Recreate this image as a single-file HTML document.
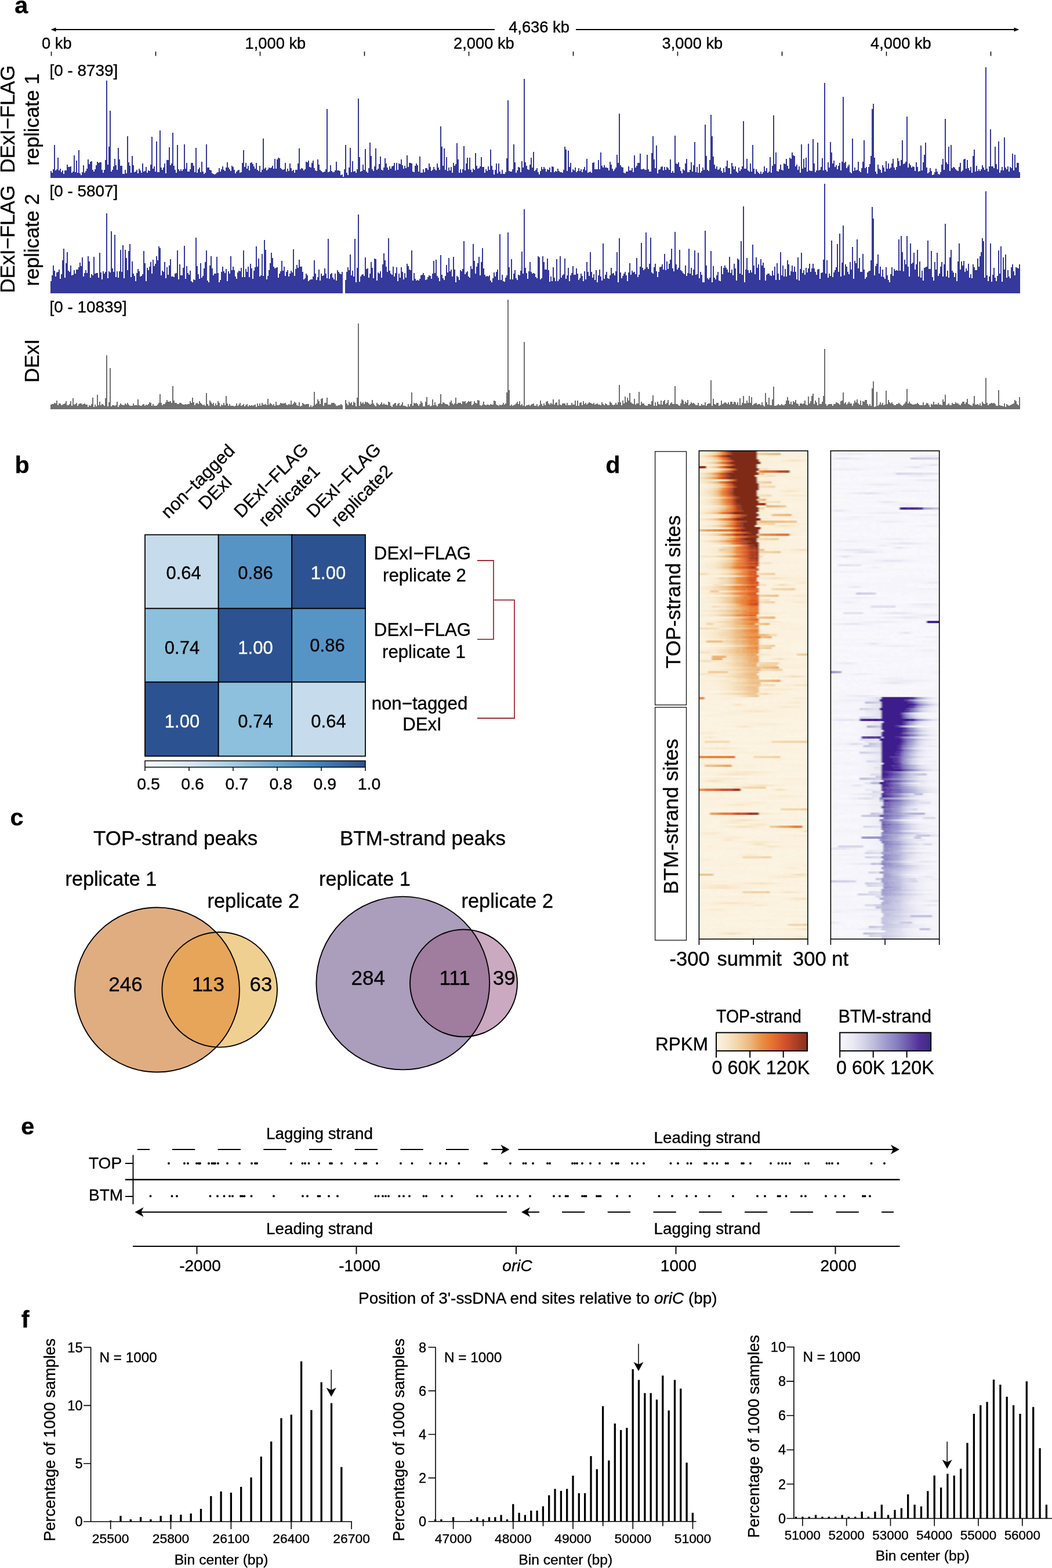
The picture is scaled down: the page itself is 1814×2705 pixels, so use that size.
<!DOCTYPE html>
<html lang="en">
<head>
<meta charset="utf-8">
<title>Figure</title>
<style>
html,body{margin:0;padding:0;background:#fff;}
body{width:1814px;height:2705px;overflow:hidden;}
svg{display:block;}
text{font-family:"Liberation Sans", "DejaVu Sans", sans-serif;stroke:#000;stroke-width:.35px;}
text.w{stroke:#fff;}
</style>
</head>
<body>
<svg width="1814" height="2705" viewBox="0 0 1814 2705">
<rect width="1814" height="2705" fill="#fff"/>
<g id="panel-a">
<text x="25.3" y="22.7" font-size="41.4" font-weight="bold">a</text>
<path d="M92 51L853 51" stroke="#000" stroke-width="1.9" fill="none"/>
<path d="M993 51L1752 51" stroke="#000" stroke-width="1.9" fill="none"/>
<path d="M87.5 51l9 -3.6v7.2zM1757.5 51l-9 -3.6v7.2z" fill="#000"/>
<text x="929.5" y="55.5" font-size="27.3" text-anchor="middle">4,636 kb</text>
<text x="72" y="83.5" font-size="27.3">0 kb</text>
<text x="422.5" y="83.5" font-size="27.3">1,000 kb</text>
<text x="782" y="83.5" font-size="27.3">2,000 kb</text>
<text x="1141.5" y="83.5" font-size="27.3">3,000 kb</text>
<text x="1501" y="83.5" font-size="27.3">4,000 kb</text>
<path d="M88.5 89v7.5M268.5 89v7.5M448.5 89v7.5M628.5 89v7.5M808.5 89v7.5M988.5 89v7.5M1168.5 89v7.5M1348.5 89v7.5M1528.5 89v7.5M1708.5 89v7.5" stroke="#000" stroke-width="1.5" fill="none"/>
<text x="85.5" y="130.5" font-size="27.9">[0 - 8739]</text>
<text x="85.5" y="339" font-size="27.9">[0 - 5807]</text>
<text x="85.5" y="538.5" font-size="27.9">[0 - 10839]</text>
<text font-size="34.7" text-anchor="middle" transform="translate(24.8 205.6) rotate(-90)">DExI−FLAG</text>
<text font-size="34.5" transform="translate(67.3 285.7) rotate(-90)">replicate 1</text>
<text font-size="34.7" text-anchor="middle" transform="translate(24.8 412.5) rotate(-90)">DExI−FLAG</text>
<text font-size="34.5" transform="translate(67.3 493.6) rotate(-90)">replicate 2</text>
<text font-size="34.7" text-anchor="middle" transform="translate(67.2 622.5) rotate(-90)">DExI</text>
<path d="M87 307V295h2V298h2V292h2V250h2V294h2V292h2V272h2V294h2V291h2V297h2V294h2V300h2V294h2h2V284h2V288h2h2V287h2V298h2V296h2V268h2V297h2V277h2V298h2V259h2V299h2V302h2V297h2V285h2V298h2V295h2V291h2V275h2V283h2V279h2V278h2V293h2V296h2V292h2V285h2V279h2V281h2V280h2h2V293h2V298h2V293h2V276h2V139h2V284h2V253h2V191h2V296h2V293h2V287h2V274h2V285h2V293h2V255h2V275h2V286h2h2V300h2h2V293h2V299h2V235h2V280h2V286h2V298h2V269h2V285h2V297h2V296h2V293h2V299h2V291h2V294h2V298h2V282h2V296h2V295h2V288h2V298h2V294h2V295h2V284h2V236h2V291h2V287h2V296h2V244h2V297h2h2V225h2V289h2V293h2V289h2V282h2V299h2V276h2h2V254h2V285h2V282h2V229h2V286h2V293h2V298h2V250h2V292h2V295h2V292h2V295h2V292h2V249h2V291h2V281h2V296h2h2V292h2V281h2h2V286h2V297h2V255h2V298h2V292h2V289h2V297h2V279h2V296h2V300h2V298h2V249h2V289h2h2V293h2V294h2V299h2V300h2V301h2V300h2V298h2V297h2V290h2V296h2V292h2V287h2V293h2V295h2V289h2V280h2V289h2V292h2V295h2V286h2V288h2V293h2V299h2V296h2V294h2V293h2V298h2V297h2V281h2V259h2V288h2V281h2V291h2V286h2V294h2V281h2V280h2V283h2V287h2V291h2V281h2V293h2V295h2V286h2V297h2V293h2V239h2V291h2V289h2V294h2V292h2V289h2V290h2V289h2V286h2V291h2V274h2V291h2V275h2V272h2V273h2V290h2V292h2V293h2V292h2V281h2V296h2V291h2V295h2V282h2V290h2V295h2V293h2V298h2V293h2h2V282h2V256h2V292h2V290h2V291h2V294h2V292h2V279h2V280h2V277h2V288h2V289h2V281h2V277h2V290h2V294h2V295h2V275h2V284h2V293h2V295h2V297h2h2V296h2V292h2V188h2V297h2V296h2V285h2V295h2V297h2h2V294h2V279h2V294h2h2V295h2V302h2V301h2V305h2V292h2V250h2V298h2V302h2V289h2V255h2V297h2V278h2V296h2V295h2V298h2V292h2V170h2V271h2V296h2V295h2V284h2V293h2V257h2V296h2V298h2V290h2V246h2V269h2V292h2V295h2V287h2V256h2V293h2V291h2V283h2V270h2V293h2V294h2V289h2V273h2V282h2V289h2V293h2V287h2V291h2V287h2V286h2V281h2V294h2V281h2V293h2V282h2V283h2V275h2V285h2V291h2V286h2V290h2V268h2V288h2V281h2h2V282h2V296h2V297h2V286h2V282h2V285h2V296h2V270h2V298h2h2V292h2V297h2V290h2h2V293h2V282h2V288h2V295h2V293h2V288h2V292h2V294h2V282h2V289h2V293h2V218h2V253h2V286h2V256h2V293h2V271h2V295h2V289h2V294h2V288h2V298h2V281h2V286h2V283h2V247h2V275h2V298h2V292h2V298h2V292h2V252h2V294h2V282h2V272h2V292h2V272h2V293h2V297h2V291h2V293h2V264h2V286h2V291h2V290h2V287h2V271h2V288h2h2V298h2V292h2V295h2V287h2V293h2V258h2V286h2V293h2V301h2V293h2V282h2V299h2V282h2V296h2V300h2V293h2V300h2h2V297h2V273h2V173h2V295h2V296h2h2V292h2V249h2V280h2V298h2V294h2V288h2V289h2V297h2V278h2V289h2V136h2V280h2V286h2V292h2V293h2V284h2V272h2V289h2V262h2V295h2V293h2V290h2V297h2V301h2V295h2V288h2V292h2V288h2V291h2V296h2V292h2V293h2V289h2V297h2V287h2V288h2V297h2V295h2V296h2V291h2V295h2V297h2h2V298h2V293h2V253h2V258h2V295h2V260h2V288h2V281h2V297h2V292h2V294h2V289h2V297h2V295h2V290h2V295h2V292h2V297h2V292h2V288h2V294h2V274h2V298h2V297h2V296h2V298h2V281h2V280h2V292h2h2h2V276h2V292h2V263h2V286h2V289h2V285h2V289h2h2V290h2V294h2V279h2V284h2V291h2V295h2V292h2V289h2V267h2V281h2V196h2V285h2V288h2V289h2V298h2V299h2V296h2h2V287h2V294h2h2V290h2V297h2V268h2V289h2V286h2V281h2h2V265h2V292h2h2V291h2V293h2h2V267h2V292h2V296h2h2V264h2V235h2V275h2V290h2V251h2V299h2V293h2V292h2V288h2V287h2V294h2V288h2V293h2V288h2V290h2V293h2V275h2V298h2V295h2V298h2V234h2V282h2V283h2V280h2V288h2V295h2V299h2V292h2V294h2V282h2V274h2V297h2h2V293h2V280h2V296h2V285h2V245h2V297h2V288h2V298h2V283h2V298h2V295h2V289h2V293h2V215h2V269h2V293h2V295h2V276h2V198h2V235h2V270h2V284h2V291h2V287h2V293h2V292h2V289h2V295h2V298h2V290h2V297h2V287h2V277h2V290h2h2V300h2V281h2V287h2V292h2V287h2V296h2V298h2V289h2V295h2V292h2V287h2V209h2V291h2h2V274h2V294h2V296h2V282h2V296h2V250h2V291h2V300h2V292h2V296h2V298h2V300h2V296h2V300h2V297h2V287h2V295h2V290h2V298h2V296h2V271h2V298h2V286h2V199h2V283h2V263h2V295h2V296h2V292h2V284h2V293h2V294h2V282h2V283h2V274h2V286h2V291h2V272h2V274h2V263h2V268h2V269h2V287h2V284h2V293h2V287h2V298h2V249h2V291h2V274h2V289h2V272h2V296h2V248h2V294h2V295h2h2V240h2V282h2V297h2V294h2V246h2V294h2V293h2V288h2V273h2V294h2V143h2V293h2V296h2V280h2V289h2V245h2V263h2V282h2V277h2V288h2V285h2V292h2V286h2V281h2V294h2V279h2V167h2V281h2V279h2V290h2V287h2V284h2V297h2V299h2V239h2V295h2V289h2V294h2V293h2V279h2V295h2V297h2V290h2V279h2V242h2V290h2V288h2V299h2V288h2V283h2V269h2V188h2V179h2V272h2V296h2V300h2V284h2V291h2V293h2V298h2V285h2V289h2V296h2V278h2V291h2V282h2V291h2V289h2V282h2V274h2V289h2V293h2V288h2V273h2V278h2V286h2V276h2V242h2V283h2V282h2V279h2V201h2V289h2V282h2V285h2V289h2V287h2V288h2V295h2V280h2V288h2V296h2V295h2V251h2V294h2V280h2V267h2V246h2V289h2V299h2V297h2V290h2V295h2V302h2V301h2V297h2V291h2V296h2V300h2V301h2V297h2V284h2V274h2V293h2V205h2V280h2V283h2V253h2V295h2V250h2V290h2V288h2V289h2V292h2V294h2V295h2V288h2V281h2V296h2V294h2V275h2V274h2V291h2V276h2V290h2V294h2V288h2V298h2V269h2V258h2V296h2V286h2V295h2V292h2V295h2V292h2V285h2V289h2V293h2V116h2V291h2V296h2V287h2V223h2V287h2h2V290h2V253h2V283h2V292h2V244h2V298h2V294h2V288h2V294h2V237h2V289h2V292h2V287h2V296h2V288h2V290h2V265h2V294h2V267h2V289h2V281h2h2V297h2V307z" fill="#34399b" shape-rendering="crispEdges"/>
<path d="M87 506V485h2V475h2V458h2V467h2V477h2V470h2V469h2V465h2V481h2V473h2V449h2V429h2V479h2V454h2V435h2V467h2V469h2V458h2V475h2V474h2V466h2V472h2V465h2h2V461h2V453h2V459h2V444h2V477h2V471h2V466h2V471h2V442h2V451h2V479h2V473h2V475h2V443h2V472h2V471h2h2V479h2V436h2V470h2V482h2V468h2V472h2V469h2V368h2V480h2V468h2V470h2V399h2V463h2V469h2V405h2V478h2V468h2V479h2V468h2V431h2V469h2V423h2V480h2V431h2V445h2V466h2V433h2V421h2V478h2V451h2V472h2V476h2V485h2V471h2V464h2V468h2V477h2V476h2V473h2V433h2V454h2V485h2V462h2V466h2V460h2V452h2V472h2V448h2V459h2V455h2V442h2V449h2V425h2V428h2V475h2V467h2V469h2V452h2V480h2V461h2V474h2V458h2V447h2V477h2h2V478h2V472h2V471h2V432h2V482h2V456h2V475h2h2V462h2V424h2V481h2V459h2V471h2V474h2V467h2V485h2V487h2V482h2V483h2V410h2V459h2V473h2V481h2V454h2V479h2V476h2V463h2V452h2V432h2V484h2V487h2V458h2V442h2V463h2V475h2V472h2h2V443h2V471h2V487h2V483h2V469h2V460h2V468h2V471h2V464h2V485h2V468h2V472h2V442h2V466h2V460h2V466h2V477h2V481h2V470h2V467h2V468h2V462h2V478h2V432h2V478h2V464h2V469h2V460h2V478h2V455h2V463h2V481h2V467h2V461h2V425h2V460h2V446h2V477h2V475h2V438h2V476h2V414h2V431h2V482h2V476h2V466h2V454h2V436h2V445h2V460h2V463h2V462h2V461h2V479h2V472h2V468h2V450h2V467h2V460h2V476h2V469h2V466h2V477h2V472h2V467h2V470h2V430h2V476h2V464h2V457h2V462h2V448h2V460h2h2V469h2V482h2V480h2V472h2V475h2V485h2V483h2V482h2h2V477h2V449h2V472h2V483h2V478h2V465h2V484h2V472h2V476h2V475h2V463h2V472h2V480h2V412h2V481h2V473h2V471h2V479h2V482h2V472h2V484h2V466h2V469h2V472h2V473h2V469h2V506h2h2V483h2V469h2V461h2V466h2V439h2V475h2V467h2V477h2V412h2V487h2V462h2V370h2V486h2V477h2V474h2V473h2V476h2V444h2V464h2V463h2V479h2V472h2V452h2V462h2V480h2V446h2V447h2V484h2V470h2V472h2V468h2V479h2V456h2V437h2V449h2V460h2V469h2V411h2V467h2V472h2V474h2V460h2V477h2V471h2V461h2V485h2V472h2V479h2V461h2V469h2V482h2V471h2V479h2V455h2V459h2V465h2V466h2V432h2V484h2V471h2V481h2V484h2V483h2V484h2V481h2V475h2V474h2V471h2V475h2V483h2V482h2V478h2V475h2V476h2V481h2V472h2V450h2V471h2V448h2V476h2V479h2V485h2V440h2V474h2V480h2V483h2V476h2V457h2V470h2V445h2V468h2V465h2V477h2V443h2V465h2V487h2V476h2V478h2V483h2V466h2V468h2V464h2V416h2V473h2V470h2V468h2V477h2V479h2V459h2V464h2V421h2V450h2V472h2V460h2V454h2V443h2V475h2V452h2V428h2V463h2V474h2V477h2V476h2V477h2V475h2V484h2V487h2V480h2V470h2V477h2V469h2V465h2V483h2V404h2V483h2V474h2V485h2V486h2V479h2V475h2V401h2V461h2V482h2V447h2V482h2V472h2V466h2V480h2V483h2V474h2V475h2V467h2V434h2V472h2V361h2V462h2V471h2V481h2V468h2V452h2V469h2V472h2V471h2V472h2V478h2V480h2V442h2V444h2V482h2V480h2V442h2V452h2V465h2h2V446h2V466h2V486h2V477h2V485h2V461h2V479h2V485h2V447h2V485h2V482h2V442h2V479h2V475h2V473h2V446h2V481h2V475h2V462h2V485h2V475h2V471h2V459h2V474h2h2V463h2V472h2V483h2V480h2V472h2V476h2V485h2V468h2V482h2V452h2V469h2V476h2V435h2V469h2V479h2V473h2V483h2V466h2V487h2V475h2V465h2V477h2V484h2V420h2V481h2V474h2V469h2V480h2V481h2V475h2V462h2V472h2V471h2V475h2V468h2V435h2V487h2V411h2V470h2V480h2V476h2V472h2V469h2V475h2V485h2V470h2V454h2V474h2V467h2V470h2V469h2V473h2V445h2V478h2V474h2V460h2V419h2V462h2V466h2V464h2V401h2V461h2V464h2V455h2V410h2V470h2V472h2V461h2V455h2V468h2V478h2V469h2V461h2V460h2V456h2V465h2V438h2V466h2V451h2V464h2V455h2V448h2V429h2V463h2V468h2V400h2V456h2V465h2V462h2V431h2V466h2V468h2V471h2V473h2V458h2V476h2V471h2V429h2V472h2V462h2V475h2V465h2V432h2V474h2V473h2V436h2V480h2V469h2V474h2V487h2h2V398h2V458h2V480h2V482h2V479h2V433h2V487h2V459h2V479h2V482h2V475h2V469h2V484h2V485h2V459h2V473h2V462h2V458h2V462h2V465h2V470h2V443h2V471h2V465h2V475h2V455h2V463h2V484h2V446h2V448h2V472h2V416h2V474h2V356h2V487h2V465h2V445h2V466h2V471h2V466h2V470h2V422h2V458h2V473h2V444h2V462h2V456h2V483h2V447h2V458h2V453h2V462h2V484h2V474h2V472h2h2V475h2V476h2V467h2V475h2V460h2V483h2V454h2V472h2V483h2V435h2V475h2V458h2V477h2V464h2V477h2V449h2V456h2V475h2V468h2V458h2V469h2V460h2V469h2V482h2V444h2V484h2V464h2V436h2V471h2V466h2V474h2V462h2V470h2V463h2V455h2V469h2V463h2V455h2V463h2V469h2V474h2V465h2V464h2V481h2V471h2V470h2V448h2V317h2V472h2V449h2V479h2V472h2V476h2V415h2V478h2V470h2V466h2V461h2V421h2V469h2V403h2V477h2V453h2V389h2V475h2V456h2V460h2V469h2V473h2V452h2V465h2V426h2V481h2V450h2V454h2V413h2V463h2V445h2V469h2h2V438h2V465h2V481h2V478h2V470h2V468h2V467h2V449h2V357h2V377h2V475h2V459h2V455h2V439h2V472h2V460h2V477h2V465h2V478h2V481h2V461h2V475h2V483h2V487h2V473h2V461h2V476h2V464h2V467h2V466h2V467h2V413h2V467h2V407h2V435h2V468h2V448h2V456h2V407h2V460h2V477h2V420h2V455h2V453h2V436h2V465h2V456h2V431h2V477h2V451h2V479h2V467h2V484h2V462h2V461h2V460h2V415h2V464h2h2V433h2V478h2V484h2V452h2V465h2V436h2V476h2V472h2V460h2V452h2V477h2V456h2V386h2V477h2V467h2V479h2V444h2V431h2V467h2V470h2V478h2V471h2V485h2V451h2V420h2V465h2V451h2V458h2V450h2V469h2V463h2V467h2V455h2V479h2V473h2V480h2V456h2V461h2V466h2h2V446h2V460h2V442h2V435h2V411h2V416h2V479h2V330h2V475h2V485h2V477h2V420h2V486h2V474h2V462h2V479h2V485h2V476h2V432h2V472h2V425h2V486h2V444h2V465h2V439h2V479h2V466h2V477h2V480h2V461h2V456h2V468h2V475h2V461h2V462h2V463h2V456h2V506z" fill="#34399b" shape-rendering="crispEdges"/>
<path d="M87 706V698h2V697h2h2V695h2V696h2V691h2V699h2V696h2h2V699h2V698h2V697h2V696h2V692h2V699h2h2V697h2V692h2V700h2V687h2V698h2V697h2V695h2V700h2V697h2V696h2h2V698h2V697h2V696h2V698h2h2V702h2V699h2V700h2V697h2V686h2V702h2V698h2V701h2V681h2V699h2V693h2V699h2V697h2V698h2V700h2V687h2V613h2V701h2V694h2V635h2V701h2V699h2h2V700h2V699h2V693h2V702h2V699h2V696h2V698h2V699h2h2V696h2V698h2V695h2V698h2V700h2h2h2V696h2V699h2h2h2V689h2V699h2V700h2h2V698h2V697h2V700h2V698h2V699h2V697h2V694h2V695h2V700h2V697h2V700h2h2h2V698h2V695h2V680h2V695h2V699h2V697h2h2V694h2V690h2V693h2h2V692h2V695h2V666h2V691h2V695h2h2V697h2h2V695h2h2V697h2V698h2h2V697h2V698h2V697h2h2V692h2V695h2V686h2V694h2V699h2V696h2V695h2V697h2V692h2V695h2V697h2V699h2V698h2V700h2V678h2V697h2V700h2V691h2V694h2V697h2V695h2V700h2V696h2V699h2V692h2V695h2V701h2V698h2V699h2V695h2V699h2V683h2V696h2V700h2V697h2V700h2h2h2V701h2V700h2V696h2V700h2V698h2V695h2V700h2V699h2V697h2V701h2V699h2V697h2V701h2V699h2V700h2V699h2V700h2V699h2V698h2V702h2V696h2V700h2V696h2V700h2V695h2V698h2h2V697h2V699h2V688h2V698h2V695h2V697h2V699h2V697h2V700h2V693h2V699h2h2V698h2V695h2V696h2h2h2V695h2V698h2V699h2V697h2V698h2V691h2V698h2V696h2V693h2V695h2V699h2V700h2V694h2V701h2V700h2V695h2V697h2V698h2V697h2h2h2V702h2V699h2V702h2V700h2V676h2V698h2V696h2V689h2V692h2V697h2V688h2V687h2V700h2V695h2h2V686h2V698h2h2h2V695h2h2h2V697h2V700h2h2V699h2h2V697h2V699h2V706h2h2V690h2V696h2V699h2V693h2V696h2V694h2V699h2V693h2V695h2V701h2V686h2V558h2V700h2V693h2V696h2V694h2V697h2V693h2V694h2h2V696h2V698h2V697h2V690h2V696h2V699h2V701h2V695h2V697h2V699h2V697h2V694h2V698h2V696h2V698h2h2V699h2V693h2V694h2V700h2V702h2V698h2V696h2V695h2V700h2V697h2V695h2V700h2V698h2V694h2V700h2h2V701h2V702h2V697h2V701h2V697h2V677h2V700h2V695h2V696h2V695h2V697h2V700h2V697h2V692h2V695h2V701h2h2V693h2V685h2V699h2V698h2V701h2V700h2V689h2V699h2V694h2V699h2V701h2V697h2V696h2V680h2V697h2V694h2V695h2V697h2h2V698h2V700h2V694h2V691h2V696h2V698h2V696h2V686h2V697h2V695h2h2h2V697h2V692h2V693h2V692h2V696h2V694h2V692h2V693h2V692h2V699h2V697h2V692h2V695h2V696h2V690h2V691h2V699h2V700h2V698h2V693h2V698h2V699h2V698h2h2V699h2V697h2V698h2h2V691h2V692h2V698h2V699h2V700h2V698h2V699h2V698h2V695h2V698h2V696h2V677h2V517h2V673h2V700h2V698h2V700h2V699h2V698h2V696h2V693h2V697h2V692h2V699h2V697h2V700h2V590h2V701h2V699h2h2V698h2V700h2V698h2V697h2V696h2V700h2h2V697h2V701h2V699h2V691h2V697h2V700h2V696h2V699h2V693h2V692h2V696h2V698h2V695h2V697h2V689h2V698h2V695h2V694h2V699h2V689h2V698h2V699h2V696h2h2h2V699h2V695h2V699h2h2h2V695h2V698h2h2V691h2V700h2V691h2V700h2V695h2V694h2V699h2V692h2V697h2V695h2V698h2V696h2V694h2V695h2V696h2V697h2V695h2V698h2V697h2V696h2V698h2h2V699h2V694h2V697h2V699h2V696h2V697h2V699h2h2V693h2V695h2V698h2V699h2V698h2V695h2V698h2V694h2V664h2V694h2V699h2V691h2V696h2V684h2V694h2V686h2V691h2V678h2V694h2V696h2V697h2V688h2V698h2V696h2h2V676h2V699h2V693h2V696h2h2V699h2V700h2h2V697h2h2V698h2V692h2V682h2V700h2V694h2V700h2V693h2V697h2V698h2V691h2V698h2V692h2V690h2V697h2V695h2V690h2V699h2V696h2V694h2V697h2h2V666h2V697h2h2V699h2V700h2V696h2V689h2V691h2V697h2V693h2V695h2V690h2V699h2V697h2V694h2V696h2V695h2V697h2V699h2h2V695h2V700h2h2V697h2V699h2h2V694h2V700h2V697h2V696h2h2V656h2V700h2V688h2V697h2V698h2V695h2h2V700h2V699h2V691h2V697h2V696h2V694h2V695h2V697h2V694h2V698h2V693h2h2V697h2V693h2V694h2V698h2V694h2V699h2V687h2V699h2V695h2V683h2V696h2h2V691h2V695h2V683h2V695h2V685h2V699h2V697h2V696h2V695h2V698h2V697h2h2V699h2V694h2V699h2V701h2V678h2V694h2V698h2V686h2V699h2h2V689h2V667h2V700h2h2V699h2V697h2V699h2h2V697h2V699h2h2V697h2V691h2V685h2V691h2V697h2V693h2V698h2V692h2V694h2V690h2V696h2V697h2V700h2V696h2h2V697h2V696h2V691h2V698h2V699h2V684h2V696h2V692h2V683h2V679h2V697h2V691h2V694h2V699h2V686h2V697h2h2V693h2V683h2V602h2V697h2V700h2V698h2V697h2h2h2V700h2V697h2h2V694h2V695h2V696h2V698h2V692h2V691h2V677h2V696h2V694h2V698h2V696h2V693h2V696h2h2V700h2V696h2V691h2V694h2V689h2V696h2V698h2V691h2V699h2V692h2V693h2V690h2h2V697h2V700h2V697h2V700h2V670h2V658h2V702h2V701h2V676h2V700h2V698h2V694h2V698h2V695h2V699h2V698h2V674h2V697h2V690h2V694h2V696h2V694h2V697h2V699h2h2V697h2h2V695h2V697h2V699h2V700h2V698h2V696h2V693h2V671h2V696h2V693h2V696h2V697h2V698h2h2V697h2h2V695h2V697h2V699h2h2h2V694h2V699h2V698h2V695h2V696h2V699h2V702h2V697h2V698h2V693h2V698h2V697h2V698h2V695h2V698h2h2V699h2V689h2V693h2V681h2V699h2V698h2V696h2V699h2h2V695h2V697h2h2V694h2V696h2h2V698h2V699h2V696h2V693h2h2V697h2V694h2V688h2V697h2V698h2V699h2V700h2V696h2V683h2V698h2h2V697h2V699h2V696h2V700h2V693h2V696h2V697h2V652h2V695h2V699h2V697h2V696h2V695h2V696h2V695h2V697h2V700h2h2V673h2V699h2V700h2h2V701h2V696h2V702h2V697h2V699h2V700h2V699h2V698h2V697h2V696h2V690h2V692h2V697h2V699h2V685h2V706z" fill="#6f6f6f" shape-rendering="crispEdges"/>
</g>
<g id="panel-b">
<text x="25.4" y="815.8" font-size="41.4" font-weight="bold">b</text>
<rect x="250" y="922.5" width="126.7" height="127.2" fill="#c6dcec" stroke="#000" stroke-width="1.8"/>
<rect x="376.7" y="922.5" width="126.6" height="127.2" fill="#5794c6" stroke="#000" stroke-width="1.8"/>
<rect x="503.3" y="922.5" width="126.7" height="127.2" fill="#2c5291" stroke="#000" stroke-width="1.8"/>
<rect x="250" y="1049.7" width="126.7" height="127" fill="#8cc0dc" stroke="#000" stroke-width="1.8"/>
<rect x="376.7" y="1049.7" width="126.6" height="127" fill="#2c5291" stroke="#000" stroke-width="1.8"/>
<rect x="503.3" y="1049.7" width="126.7" height="127" fill="#5794c6" stroke="#000" stroke-width="1.8"/>
<rect x="250" y="1176.7" width="126.7" height="127.8" fill="#2c5291" stroke="#000" stroke-width="1.8"/>
<rect x="376.7" y="1176.7" width="126.6" height="127.8" fill="#8cc0dc" stroke="#000" stroke-width="1.8"/>
<rect x="503.3" y="1176.7" width="126.7" height="127.8" fill="#c6dcec" stroke="#000" stroke-width="1.8"/>
<text x="316.7" y="999" font-size="31" text-anchor="middle">0.64</text>
<text x="440.5" y="999" font-size="31" text-anchor="middle">0.86</text>
<text x="566" y="999" font-size="31" text-anchor="middle" fill="#fff" class="w">1.00</text>
<text x="314" y="1127.5" font-size="31" text-anchor="middle">0.74</text>
<text x="440.5" y="1127.5" font-size="31" text-anchor="middle" fill="#fff" class="w">1.00</text>
<text x="564.5" y="1124" font-size="31" text-anchor="middle">0.86</text>
<text x="314" y="1255" font-size="31" text-anchor="middle" fill="#fff" class="w">1.00</text>
<text x="440.5" y="1255" font-size="31" text-anchor="middle">0.74</text>
<text x="566.5" y="1255" font-size="31" text-anchor="middle">0.64</text>
<text transform="translate(341 830) rotate(-45)" text-anchor="middle" y="10.5" font-size="31">non−tagged</text>
<text transform="translate(371 849.5) rotate(-45)" text-anchor="middle" y="10.5" font-size="31">DExI</text>
<text transform="translate(467.5 828.5) rotate(-45)" text-anchor="middle" y="10.5" font-size="31">DExI−FLAG</text>
<text transform="translate(498.5 855) rotate(-45)" text-anchor="middle" y="10.5" font-size="31">replicate1</text>
<text transform="translate(592.5 828.5) rotate(-45)" text-anchor="middle" y="10.5" font-size="31">DExI−FLAG</text>
<text transform="translate(623.5 855) rotate(-45)" text-anchor="middle" y="10.5" font-size="31">replicate2</text>
<text x="728.5" y="964.7" font-size="31.2" text-anchor="middle">DExI−FLAG</text>
<text x="732" y="1002.8" font-size="31.2" text-anchor="middle">replicate 2</text>
<text x="728.5" y="1097" font-size="31.2" text-anchor="middle">DExI−FLAG</text>
<text x="731" y="1135" font-size="31.2" text-anchor="middle">replicate 1</text>
<text x="723.5" y="1223.7" font-size="31.2" text-anchor="middle">non−tagged</text>
<text x="728" y="1260.3" font-size="31.2" text-anchor="middle">DExI</text>
<path d="M823 967H851V1102.8H823M851 1035.2H887V1239H823" stroke="#9e2d33" stroke-width="1.8" fill="none"/>
<defs><linearGradient id="gb" x1="0" x2="1" y1="0" y2="0"><stop offset="0" stop-color="#f7fbff"/><stop offset="0.2" stop-color="#d8e8f4"/><stop offset="0.4" stop-color="#a3cde2"/><stop offset="0.6" stop-color="#6aa9d2"/><stop offset="0.8" stop-color="#4080bb"/><stop offset="1" stop-color="#2c5291"/></linearGradient></defs>
<rect x="250" y="1312.5" width="380" height="11" fill="url(#gb)" stroke="#000" stroke-width="1.5"/>
<path d="M250 1323.5v6.5M326 1323.5v6.5M402 1323.5v6.5M478 1323.5v6.5M554 1323.5v6.5M630 1323.5v6.5" stroke="#000" stroke-width="1.5" fill="none"/>
<text x="256" y="1361.5" font-size="28.5" text-anchor="middle">0.5</text>
<text x="332.1" y="1361.5" font-size="28.5" text-anchor="middle">0.6</text>
<text x="408.2" y="1361.5" font-size="28.5" text-anchor="middle">0.7</text>
<text x="484.3" y="1361.5" font-size="28.5" text-anchor="middle">0.8</text>
<text x="560.4" y="1361.5" font-size="28.5" text-anchor="middle">0.9</text>
<text x="636.5" y="1361.5" font-size="28.5" text-anchor="middle">1.0</text>
</g>
<g id="panel-c">
<text x="17.6" y="1423.8" font-size="41.4" font-weight="bold">c</text>
<text x="161" y="1457.8" font-size="35">TOP-strand peaks</text>
<text x="112.5" y="1527.6" font-size="34.2">replicate 1</text>
<text x="357.5" y="1566" font-size="34.4">replicate 2</text>
<text x="586" y="1457.8" font-size="35">BTM-strand peaks</text>
<text x="550" y="1527.6" font-size="34.2">replicate 1</text>
<text x="795.5" y="1566" font-size="34.4">replicate 2</text>
<defs><clipPath id="cv1"><circle cx="271" cy="1707.5" r="142"/></clipPath><clipPath id="cv2"><circle cx="694.8" cy="1696" r="149.4"/></clipPath></defs>
<circle cx="271" cy="1707.5" r="142" fill="#e0ad80"/>
<circle cx="378.7" cy="1707.3" r="99.3" fill="#efd090"/>
<circle cx="378.7" cy="1707.3" r="99.3" fill="#e6a558" clip-path="url(#cv1)"/>
<circle cx="271" cy="1707.5" r="142" fill="none" stroke="#000" stroke-width="1.9"/>
<circle cx="378.7" cy="1707.3" r="99.3" fill="none" stroke="#000" stroke-width="1.9"/>
<text x="216.5" y="1710" font-size="35" text-anchor="middle">246</text>
<text x="359" y="1710" font-size="35" text-anchor="middle">113</text>
<text x="450" y="1710" font-size="35" text-anchor="middle">63</text>
<circle cx="694.8" cy="1696" r="149.4" fill="#ab9dbc"/>
<circle cx="799.5" cy="1696" r="92.5" fill="#cba9c0"/>
<circle cx="799.5" cy="1696" r="92.5" fill="#a07c9e" clip-path="url(#cv2)"/>
<circle cx="694.8" cy="1696" r="149.4" fill="none" stroke="#000" stroke-width="1.9"/>
<circle cx="799.5" cy="1696" r="92.5" fill="none" stroke="#000" stroke-width="1.9"/>
<text x="634.7" y="1699" font-size="35" text-anchor="middle">284</text>
<text x="784" y="1699" font-size="35" text-anchor="middle">111</text>
<text x="869.2" y="1699" font-size="35" text-anchor="middle">39</text>
</g>
<g id="panel-d">
<text x="1044.3" y="815.7" font-size="41.4" font-weight="bold">d</text>
<rect x="1129.6" y="778.9" width="53.9" height="437.2" fill="#fff" stroke="#111" stroke-width="1.3"/>
<rect x="1129.6" y="1220.2" width="53.9" height="401.8" fill="#fff" stroke="#111" stroke-width="1.3"/>
<text font-size="35.3" text-anchor="middle" transform="translate(1172.6 1021) rotate(-90)">TOP-strand sites</text>
<text font-size="35.5" text-anchor="middle" transform="translate(1168.6 1408.6) rotate(-90)">BTM-strand sites</text>
<defs><clipPath id="clo"><rect x="1205.4" y="777.7" width="187.5" height="842.3"/></clipPath><filter id="blo" x="-5%" y="-1%" width="110%" height="102%"><feGaussianBlur stdDeviation="1.6 0"/></filter></defs>
<g clip-path="url(#clo)"><g filter="url(#blo)" stroke-width="4" fill="none">
<rect x="1199.4" y="775.7" width="199.5" height="846.3" fill="#fbf1de"/>
<path stroke="#fcf4e3" d="M1358.5 779.6h3.1M1364.8 779.6h3.1M1377.3 779.6h9.4M1352.3 790.9h3.1M1389.8 790.9h6.1M1361.7 798.4h3.1M1383.5 798.4h3.1M1202.4 802.1h6.1M1342.9 802.1h3.1M1349.2 802.1h3.1M1355.4 802.1h3.1M1386.7 802.1h3.1M1339.8 805.9h3.1M1355.4 805.9h9.4M1383.5 805.9h6.2M1202.4 809.7h12.4M1342.9 809.7h12.5M1358.5 809.7h3.1M1364.8 809.7h3.1M1371 809.7h3.1M1377.3 809.7h9.4M1361.7 813.4h12.5M1386.7 813.4h3.1M1349.2 817.2h3.1M1361.7 817.2h3.1M1374.2 817.2h3.1M1386.7 817.2h9.2M1349.2 828.5h3.1M1355.4 828.5h6.2M1383.5 828.5h3.1M1346 832.2h9.4M1346 839.7h3.1M1361.7 839.7h3.1M1339.8 851h3.1M1361.7 851h6.2M1371 851h6.2M1380.4 851h6.2M1346 858.5h3.1M1361.7 858.5h3.1M1371 858.5h3.1M1367.9 866.1h3.1M1342.9 869.8h3.1M1355.4 869.8h9.4M1367.9 869.8h3.1M1377.3 869.8h3.1M1389.8 869.8h6.1M1361.7 873.6h9.4M1374.2 873.6h3.1M1380.4 873.6h3.1M1342.9 881.1h9.4M1358.5 881.1h3.1M1377.3 888.6h3.1M1352.3 896.1h3.1M1367.9 896.1h3.1M1374.2 896.1h3.1M1374.2 899.9h6.2M1389.8 899.9h6.1M1346 911.2h3.1M1352.3 911.2h3.1M1202.4 926.2h9.2M1342.9 926.2h3.1M1349.2 926.2h28.1M1380.4 926.2h15.5M1358.5 930h6.2M1371 930h3.1M1383.5 933.8h6.2M1349.2 937.5h6.2M1380.4 937.5h3.1M1339.8 941.3h3.1M1346 941.3h6.2M1361.7 941.3h3.1M1358.5 945h3.1M1371 945h3.1M1380.4 945h9.4M1202.4 956.3h9.2M1346 956.3h3.1M1352.3 956.3h6.2M1361.7 956.3h3.1M1371 956.3h6.2M1389.8 956.3h6.1M1364.8 960.1h3.1M1374.2 960.1h3.1M1380.4 960.1h3.1M1386.7 960.1h9.2M1214.8 963.8h9.4M1333.5 975.1h3.1M1342.9 975.1h15.6M1361.7 975.1h6.2M1374.2 975.1h9.4M1342.9 978.9h3.1M1349.2 978.9h6.2M1364.8 978.9h3.1M1333.5 982.6h3.1M1346 982.6h3.1M1352.3 982.6h3.1M1358.5 982.6h3.1M1364.8 990.2h3.1M1202.4 1001.4h6.1M1333.5 1001.4h3.1M1333.5 1005.2h3.1M1339.8 1005.2h15.6M1358.5 1005.2h9.4M1202.4 1009h9.2M1214.8 1009h3.1M1202.4 1020.2h6.1M1380.4 1020.2h15.5M1352.3 1024h3.1M1361.7 1024h6.2M1371 1024h3.1M1202.4 1027.8h9.2M1214.8 1027.8h3.1M1342.9 1031.5h3.1M1336.7 1039h3.1M1346 1039h6.2M1361.7 1042.8h3.1M1371 1042.8h6.2M1383.5 1042.8h3.1M1333.5 1050.3h3.1M1342.9 1050.3h3.1M1352.3 1050.3h9.4M1367.9 1050.3h3.1M1377.3 1050.3h3.1M1383.5 1050.3h6.2M1336.7 1054.1h9.4M1361.7 1054.1h3.1M1336.7 1061.6h3.1M1346 1061.6h6.2M1355.4 1061.6h6.2M1202.4 1069.1h6.1M1211.7 1069.1h3.1M1330.4 1069.1h31.2M1364.8 1069.1h31.1M1361.7 1072.9h6.2M1371 1072.9h15.6M1389.8 1072.9h6.1M1380.4 1076.6h3.1M1389.8 1076.6h6.1M1330.4 1087.9h3.1M1358.5 1087.9h3.1M1371 1091.7h3.1M1333.5 1103h3.1M1342.9 1103h3.1M1349.2 1103h3.1M1367.9 1103h3.1M1377.3 1103h3.1M1327.3 1106.7h6.2M1336.7 1106.7h9.4M1349.2 1106.7h6.2M1364.8 1106.7h3.1M1374.2 1106.7h9.4M1371 1110.5h6.2M1380.4 1110.5h6.2M1389.8 1110.5h6.1M1202.4 1114.2h21.8M1336.7 1114.2h18.8M1361.7 1114.2h28.1M1352.3 1118h6.2M1364.8 1118h6.2M1374.2 1118h3.1M1380.4 1118h6.2M1333.5 1121.8h3.1M1352.3 1121.8h3.1M1361.7 1121.8h9.4M1374.2 1121.8h21.8M1336.7 1133h3.1M1346 1133h3.1M1352.3 1133h6.2M1361.7 1133h3.1M1367.9 1133h9.4M1361.7 1140.6h3.1M1355.4 1144.3h3.1M1374.2 1144.3h3.1M1349.2 1155.6h18.8M1371 1155.6h24.9M1389.8 1159.4h6.1M1355.4 1163.1h3.1M1377.3 1163.1h9.4M1321 1170.6h9.4M1336.7 1170.6h3.1M1358.5 1174.4h3.1M1321 1178.2h3.1M1327.3 1178.2h3.1M1202.4 1185.7h6.1M1364.8 1185.7h3.1M1374.2 1185.7h3.1M1380.4 1185.7h3.1M1202.4 1193.2h12.4M1221 1193.2h18.8M1324.2 1193.2h3.1M1333.5 1193.2h3.1M1346 1193.2h3.1M1358.5 1193.2h12.5M1367.9 1197h3.1M1374.2 1197h6.2M1383.5 1197h3.1M1202.4 1200.7h6.1M1214.8 1200.7h6.2M1224.2 1200.7h3.1M1236.7 1200.7h3.1M1377.3 1200.7h3.1M1336.7 1204.5h3.1M1342.9 1204.5h3.1M1258.5 1208.3h3.1M1274.2 1208.3h3.1M1280.4 1208.3h15.6M1302.3 1208.3h6.2M1314.8 1208.3h9.4M1333.5 1208.3h3.1M1211.7 1212h3.1M1227.3 1212h3.1M1236.7 1212h3.1M1249.2 1212h6.2M1261.7 1212h3.1M1267.9 1212h6.2M1277.3 1212h9.4M1289.8 1212h3.1M1246 1215.8h6.2M1292.9 1215.8h3.1M1302.3 1215.8h6.2M1321 1215.8h3.1M1221 1219.5h6.2M1230.4 1219.5h6.2M1239.8 1219.5h6.2M1261.7 1219.5h3.1M1236.7 1223.3h3.1M1242.9 1223.3h6.2M1252.3 1223.3h3.1M1258.5 1223.3h3.1M1264.8 1223.3h3.1M1361.7 1223.3h6.2M1371 1223.3h3.1M1377.3 1223.3h3.1M1202.4 1227.1h15.5M1224.2 1227.1h3.1M1236.7 1227.1h3.1M1208.5 1230.8h18.8M1233.5 1230.8h3.1M1271 1234.6h3.1M1277.3 1234.6h3.1M1283.5 1234.6h3.1M1377.3 1234.6h3.1M1386.7 1234.6h9.2M1211.7 1238.3h3.1M1217.9 1238.3h9.4M1230.4 1238.3h3.1M1236.7 1238.3h12.5M1252.3 1238.3h3.1M1258.5 1238.3h9.4M1377.3 1238.3h3.1M1389.8 1238.3h6.1M1202.4 1242.1h12.4M1217.9 1242.1h31.2M1252.3 1242.1h3.1M1258.5 1242.1h3.1M1267.9 1242.1h3.1M1280.4 1242.1h3.1M1299.2 1242.1h12.5M1314.8 1242.1h3.1M1327.3 1242.1h12.5M1342.9 1242.1h15.6M1361.7 1242.1h6.2M1374.2 1242.1h3.1M1380.4 1242.1h3.1M1202.4 1245.9h28M1242.9 1245.9h3.1M1321 1245.9h3.1M1333.5 1245.9h3.1M1339.8 1245.9h6.2M1349.2 1245.9h9.4M1361.7 1245.9h15.6M1380.4 1245.9h9.4M1202.4 1249.6h15.5M1221 1249.6h6.2M1233.5 1249.6h3.1M1239.8 1249.6h15.6M1258.5 1249.6h3.1M1367.9 1249.6h15.6M1208.5 1253.4h18.8M1230.4 1253.4h9.4M1242.9 1253.4h3.1M1342.9 1253.4h3.1M1349.2 1253.4h12.5M1364.8 1253.4h6.2M1380.4 1253.4h3.1M1386.7 1253.4h3.1M1202.4 1257.1h6.1M1214.8 1257.1h3.1M1221 1257.1h3.1M1227.3 1257.1h6.2M1236.7 1257.1h9.4M1249.2 1257.1h18.8M1274.2 1257.1h3.1M1280.4 1257.1h9.4M1296 1257.1h21.9M1321 1257.1h9.4M1339.8 1257.1h3.1M1346 1257.1h6.2M1361.7 1257.1h6.2M1374.2 1257.1h9.4M1202.4 1260.9h6.1M1214.8 1260.9h3.1M1230.4 1260.9h3.1M1239.8 1260.9h3.1M1258.5 1260.9h3.1M1274.2 1260.9h3.1M1283.5 1260.9h3.1M1302.3 1260.9h3.1M1314.8 1260.9h12.5M1339.8 1260.9h3.1M1252.3 1264.7h18.8M1277.3 1264.7h18.8M1305.4 1264.7h9.4M1317.9 1264.7h3.1M1327.3 1264.7h3.1M1339.8 1264.7h6.2M1355.4 1264.7h6.2M1367.9 1264.7h12.5M1383.5 1264.7h12.4M1202.4 1268.4h9.2M1214.8 1268.4h3.1M1227.3 1268.4h3.1M1233.5 1268.4h3.1M1246 1268.4h3.1M1271 1268.4h3.1M1280.4 1268.4h3.1M1305.4 1268.4h3.1M1314.8 1268.4h3.1M1324.2 1268.4h3.1M1333.5 1268.4h3.1M1346 1268.4h3.1M1352.3 1268.4h37.5M1202.4 1272.2h6.1M1242.9 1272.2h28.1M1274.2 1272.2h9.4M1286.7 1272.2h6.2M1296 1272.2h15.6M1314.8 1272.2h6.2M1324.2 1272.2h3.1M1333.5 1272.2h12.5M1349.2 1272.2h3.1M1355.4 1272.2h12.5M1371 1272.2h15.6M1389.8 1272.2h6.1M1202.4 1275.9h6.1M1211.7 1275.9h3.1M1217.9 1275.9h6.2M1227.3 1275.9h6.2M1236.7 1275.9h3.1M1249.2 1275.9h21.9M1277.3 1275.9h34.4M1314.8 1275.9h34.4M1352.3 1275.9h34.4M1202.4 1279.7h9.2M1221 1283.5h3.1M1236.7 1283.5h12.5M1364.8 1283.5h3.1M1371 1283.5h6.2M1383.5 1283.5h3.1M1389.8 1283.5h6.1M1208.5 1287.2h3.1M1214.8 1287.2h9.4M1230.4 1287.2h3.1M1239.8 1287.2h6.2M1255.4 1287.2h21.9M1280.4 1287.2h15.6M1302.3 1287.2h12.5M1317.9 1287.2h6.2M1330.4 1287.2h3.1M1339.8 1287.2h3.1M1346 1287.2h9.4M1358.5 1287.2h18.8M1299.2 1291h6.2M1314.8 1291h3.1M1321 1291h3.1M1339.8 1291h3.1M1358.5 1291h3.1M1377.3 1291h3.1M1214.8 1294.7h6.2M1289.8 1294.7h9.4M1305.4 1294.7h3.1M1311.7 1294.7h3.1M1317.9 1294.7h3.1M1389.8 1294.7h6.1M1202.4 1298.5h9.2M1333.5 1298.5h3.1M1342.9 1298.5h9.4M1355.4 1298.5h9.4M1202.4 1302.3h6.1M1211.7 1302.3h9.4M1224.2 1302.3h12.5M1242.9 1302.3h6.2M1252.3 1302.3h12.5M1267.9 1302.3h3.1M1274.2 1302.3h6.2M1283.5 1302.3h6.2M1296 1302.3h3.1M1317.9 1302.3h3.1M1324.2 1302.3h21.9M1349.2 1302.3h9.4M1361.7 1302.3h12.5M1377.3 1302.3h6.2M1386.7 1302.3h3.1M1271 1306h6.2M1280.4 1306h3.1M1286.7 1306h3.1M1292.9 1306h6.2M1346 1306h3.1M1355.4 1306h6.2M1364.8 1306h3.1M1371 1306h6.2M1383.5 1306h6.2M1277.3 1309.8h3.1M1286.7 1309.8h6.2M1305.4 1309.8h3.1M1389.8 1309.8h6.1M1202.4 1313.5h6.1M1230.4 1313.5h3.1M1242.9 1313.5h6.2M1252.3 1313.5h6.2M1261.7 1313.5h18.8M1289.8 1313.5h6.2M1299.2 1313.5h3.1M1305.4 1313.5h3.1M1321 1313.5h9.4M1333.5 1313.5h6.2M1346 1313.5h34.4M1383.5 1313.5h3.1M1274.2 1317.3h3.1M1283.5 1317.3h3.1M1296 1317.3h3.1M1305.4 1317.3h3.1M1317.9 1317.3h3.1M1367.9 1317.3h6.2M1380.4 1317.3h6.2M1389.8 1317.3h6.1M1202.4 1321.1h6.1M1211.7 1321.1h3.1M1317.9 1321.1h3.1M1333.5 1321.1h3.1M1339.8 1321.1h9.4M1202.4 1324.8h12.4M1217.9 1324.8h3.1M1224.2 1324.8h3.1M1230.4 1324.8h18.8M1255.4 1324.8h3.1M1277.3 1324.8h3.1M1308.5 1324.8h3.1M1317.9 1324.8h9.4M1330.4 1324.8h9.4M1346 1324.8h21.9M1371 1324.8h3.1M1377.3 1324.8h3.1M1202.4 1328.6h12.4M1217.9 1328.6h6.2M1230.4 1328.6h9.4M1277.3 1328.6h6.2M1286.7 1328.6h3.1M1292.9 1328.6h18.8M1314.8 1328.6h18.8M1336.7 1328.6h3.1M1342.9 1328.6h3.1M1361.7 1328.6h3.1M1371 1328.6h3.1M1386.7 1328.6h3.1M1355.4 1332.3h3.1M1367.9 1332.3h9.4M1383.5 1332.3h3.1M1208.5 1336.1h3.1M1330.4 1336.1h3.1M1342.9 1336.1h15.6M1361.7 1336.1h9.4M1374.2 1336.1h21.8M1202.4 1339.9h15.5M1221 1339.9h12.5M1239.8 1339.9h15.6M1258.5 1339.9h25M1289.8 1339.9h9.4M1305.4 1339.9h3.1M1311.7 1339.9h6.2M1321 1339.9h9.4M1336.7 1339.9h53.1M1308.5 1343.6h3.1M1271 1347.4h9.4M1289.8 1347.4h9.4M1302.3 1347.4h12.5M1317.9 1347.4h6.2M1330.4 1347.4h3.1M1336.7 1347.4h6.2M1217.9 1351.1h3.1M1224.2 1351.1h3.1M1230.4 1351.1h3.1M1308.5 1351.1h3.1M1314.8 1351.1h3.1M1321 1351.1h12.5M1336.7 1351.1h3.1M1211.7 1354.9h6.2M1221 1354.9h31.2M1374.2 1354.9h3.1M1389.8 1354.9h6.1M1321 1358.7h6.2M1333.5 1358.7h9.4M1346 1358.7h15.6M1364.8 1358.7h18.8M1386.7 1358.7h3.1M1277.3 1362.4h12.5M1302.3 1362.4h3.1M1308.5 1362.4h12.5M1324.2 1362.4h3.1M1367.9 1362.4h6.2M1377.3 1362.4h6.2M1386.7 1362.4h9.2M1302.3 1366.2h3.1M1311.7 1366.2h3.1M1327.3 1366.2h12.5M1342.9 1366.2h3.1M1349.2 1366.2h3.1M1355.4 1366.2h3.1M1361.7 1366.2h3.1M1371 1366.2h3.1M1377.3 1366.2h3.1M1389.8 1366.2h6.1M1202.4 1369.9h9.2M1214.8 1369.9h3.1M1221 1369.9h6.2M1230.4 1369.9h3.1M1246 1369.9h3.1M1258.5 1369.9h31.2M1292.9 1369.9h6.2M1302.3 1369.9h6.2M1311.7 1369.9h9.4M1324.2 1369.9h3.1M1339.8 1369.9h3.1M1355.4 1369.9h3.1M1361.7 1369.9h6.2M1374.2 1369.9h3.1M1383.5 1369.9h12.4M1217.9 1373.7h3.1M1224.2 1373.7h6.2M1233.5 1373.7h3.1M1249.2 1373.7h6.2M1258.5 1373.7h34.4M1296 1373.7h9.4M1280.4 1377.5h6.2M1289.8 1377.5h3.1M1296 1377.5h3.1M1377.3 1377.5h12.5M1214.8 1381.2h3.1M1239.8 1381.2h3.1M1271 1381.2h3.1M1277.3 1381.2h3.1M1289.8 1381.2h3.1M1296 1381.2h6.2M1305.4 1381.2h9.4M1321 1381.2h12.5M1336.7 1381.2h28.1M1367.9 1381.2h3.1M1374.2 1381.2h3.1M1380.4 1381.2h3.1M1386.7 1381.2h9.2M1208.5 1385h3.1M1236.7 1385h3.1M1364.8 1385h3.1M1371 1385h6.2M1386.7 1385h3.1M1308.5 1392.5h9.4M1330.4 1392.5h3.1M1336.7 1392.5h3.1M1342.9 1392.5h3.1M1358.5 1392.5h3.1M1364.8 1392.5h6.2M1380.4 1392.5h15.5M1202.4 1396.3h9.2M1214.8 1396.3h25M1242.9 1396.3h6.2M1252.3 1396.3h6.2M1261.7 1396.3h12.5M1277.3 1396.3h31.2M1311.7 1396.3h3.1M1324.2 1396.3h3.1M1336.7 1396.3h9.4M1211.7 1400h21.9M1236.7 1400h12.5M1252.3 1400h28.1M1283.5 1400h3.1M1296 1400h3.1M1302.3 1400h3.1M1308.5 1400h3.1M1314.8 1400h50M1367.9 1400h3.1M1374.2 1400h9.4M1389.8 1400h6.1M1208.5 1403.8h3.1M1208.5 1407.5h3.1M1214.8 1407.5h6.2M1239.8 1407.5h9.4M1252.3 1407.5h3.1M1267.9 1407.5h6.2M1280.4 1407.5h3.1M1286.7 1407.5h28.1M1317.9 1407.5h15.6M1336.7 1407.5h21.9M1364.8 1407.5h3.1M1377.3 1407.5h18.6M1305.4 1411.3h9.4M1330.4 1411.3h3.1M1339.8 1411.3h6.2M1355.4 1411.3h6.2M1364.8 1411.3h3.1M1374.2 1411.3h3.1M1217.9 1415.1h3.1M1227.3 1415.1h3.1M1233.5 1415.1h3.1M1211.7 1418.8h3.1M1221 1418.8h3.1M1227.3 1418.8h12.5M1352.3 1418.8h3.1M1367.9 1418.8h3.1M1374.2 1418.8h3.1M1383.5 1418.8h12.4M1202.4 1422.6h9.2M1214.8 1422.6h12.5M1230.4 1422.6h9.4M1255.4 1422.6h3.1M1267.9 1422.6h3.1M1339.8 1422.6h3.1M1349.2 1422.6h6.2M1358.5 1422.6h6.2M1371 1422.6h3.1M1377.3 1422.6h6.2M1386.7 1422.6h3.1M1208.5 1426.3h6.2M1217.9 1426.3h15.6M1386.7 1426.3h3.1M1230.4 1430.1h3.1M1236.7 1430.1h6.2M1246 1430.1h12.5M1364.8 1430.1h6.2M1386.7 1430.1h3.1M1208.5 1433.9h3.1M1224.2 1433.9h3.1M1236.7 1433.9h3.1M1246 1433.9h3.1M1255.4 1433.9h6.2M1267.9 1433.9h12.5M1286.7 1433.9h9.4M1302.3 1433.9h3.1M1308.5 1433.9h6.2M1321 1433.9h6.2M1258.5 1437.6h3.1M1264.8 1437.6h15.6M1283.5 1437.6h18.8M1308.5 1437.6h15.6M1327.3 1437.6h6.2M1336.7 1437.6h6.2M1346 1437.6h9.4M1358.5 1437.6h9.4M1371 1437.6h24.9M1271 1441.4h3.1M1280.4 1441.4h6.2M1292.9 1441.4h3.1M1302.3 1441.4h9.4M1314.8 1441.4h3.1M1321 1441.4h3.1M1327.3 1441.4h3.1M1299.2 1445.1h3.1M1314.8 1445.1h3.1M1321 1445.1h3.1M1336.7 1445.1h6.2M1202.4 1448.9h12.4M1217.9 1448.9h3.1M1224.2 1448.9h3.1M1233.5 1448.9h6.2M1277.3 1448.9h9.4M1289.8 1448.9h3.1M1308.5 1448.9h3.1M1324.2 1448.9h3.1M1336.7 1448.9h6.2M1364.8 1448.9h3.1M1202.4 1456.4h18.6M1227.3 1456.4h3.1M1239.8 1456.4h3.1M1255.4 1456.4h6.2M1267.9 1456.4h6.2M1277.3 1456.4h6.2M1330.4 1456.4h6.2M1339.8 1456.4h3.1M1352.3 1456.4h3.1M1367.9 1456.4h6.2M1386.7 1456.4h9.2M1261.7 1460.2h3.1M1267.9 1460.2h3.1M1274.2 1460.2h3.1M1280.4 1460.2h3.1M1286.7 1460.2h3.1M1292.9 1460.2h6.2M1380.4 1463.9h3.1M1227.3 1467.7h3.1M1236.7 1467.7h15.6M1255.4 1467.7h3.1M1261.7 1467.7h12.5M1289.8 1467.7h3.1M1336.7 1467.7h9.4M1349.2 1467.7h3.1M1358.5 1467.7h15.6M1380.4 1467.7h9.4M1202.4 1471.5h6.1M1211.7 1471.5h15.6M1230.4 1471.5h21.9M1258.5 1471.5h3.1M1267.9 1471.5h6.2M1277.3 1471.5h3.1M1283.5 1471.5h3.1M1305.4 1471.5h9.4M1317.9 1471.5h3.1M1327.3 1471.5h9.4M1339.8 1471.5h28.1M1371 1471.5h12.5M1386.7 1471.5h9.2M1208.5 1475.2h3.1M1214.8 1475.2h31.2M1252.3 1475.2h9.4M1264.8 1475.2h3.1M1317.9 1475.2h3.1M1327.3 1475.2h15.6M1364.8 1475.2h12.5M1211.7 1479h6.2M1221 1479h3.1M1230.4 1479h6.2M1242.9 1479h3.1M1330.4 1479h3.1M1352.3 1479h6.2M1361.7 1479h3.1M1367.9 1479h3.1M1374.2 1479h3.1M1252.3 1482.8h3.1M1277.3 1482.8h6.2M1305.4 1482.8h3.1M1333.5 1482.8h6.2M1342.9 1482.8h6.2M1352.3 1482.8h6.2M1361.7 1482.8h3.1M1367.9 1482.8h3.1M1374.2 1482.8h6.2M1386.7 1482.8h9.2M1271 1486.5h12.5M1286.7 1486.5h28.1M1321 1486.5h9.4M1333.5 1486.5h6.2M1202.4 1490.3h6.1M1211.7 1490.3h3.1M1224.2 1490.3h3.1M1321 1490.3h3.1M1330.4 1490.3h18.8M1292.9 1494h6.2M1302.3 1494h15.6M1324.2 1494h6.2M1333.5 1494h6.2M1211.7 1497.8h12.5M1227.3 1497.8h3.1M1236.7 1497.8h6.2M1246 1497.8h6.2M1258.5 1497.8h3.1M1277.3 1497.8h6.2M1289.8 1497.8h9.4M1302.3 1497.8h9.4M1314.8 1497.8h6.2M1327.3 1497.8h21.9M1380.4 1497.8h3.1M1389.8 1497.8h6.1M1286.7 1501.6h3.1M1299.2 1501.6h3.1M1311.7 1501.6h6.2M1324.2 1501.6h9.4M1336.7 1501.6h9.4M1349.2 1501.6h3.1M1355.4 1501.6h3.1M1361.7 1501.6h3.1M1202.4 1505.3h9.2M1217.9 1505.3h3.1M1224.2 1505.3h3.1M1233.5 1505.3h6.2M1249.2 1505.3h6.2M1258.5 1505.3h6.2M1271 1505.3h3.1M1289.8 1505.3h3.1M1336.7 1505.3h3.1M1346 1505.3h6.2M1364.8 1505.3h3.1M1371 1505.3h9.4M1386.7 1505.3h9.2M1230.4 1509.1h3.1M1236.7 1509.1h6.2M1246 1509.1h9.4M1264.8 1509.1h9.4M1277.3 1509.1h3.1M1283.5 1509.1h12.5M1299.2 1509.1h3.1M1258.5 1512.8h6.2M1267.9 1512.8h21.9M1292.9 1512.8h3.1M1305.4 1512.8h3.1M1202.4 1516.6h9.2M1214.8 1516.6h6.2M1224.2 1516.6h40.6M1267.9 1516.6h9.4M1280.4 1516.6h15.6M1299.2 1516.6h6.2M1311.7 1516.6h12.5M1333.5 1516.6h3.1M1346 1516.6h3.1M1358.5 1516.6h37.4M1277.3 1520.4h3.1M1289.8 1520.4h9.4M1305.4 1520.4h3.1M1311.7 1520.4h6.2M1327.3 1520.4h18.8M1364.8 1524.1h3.1M1377.3 1524.1h3.1M1383.5 1524.1h6.2M1317.9 1531.6h3.1M1324.2 1531.6h18.8M1346 1531.6h12.5M1361.7 1531.6h9.4M1374.2 1531.6h6.2M1383.5 1531.6h6.2M1202.4 1535.4h21.8M1227.3 1535.4h3.1M1239.8 1535.4h9.4M1261.7 1535.4h3.1M1286.7 1535.4h3.1M1299.2 1535.4h43.8M1361.7 1535.4h3.1M1367.9 1535.4h6.2M1386.7 1535.4h9.2M1214.8 1539.2h9.4M1233.5 1539.2h9.4M1252.3 1539.2h6.2M1202.4 1542.9h9.2M1224.2 1542.9h6.2M1236.7 1542.9h37.5M1280.4 1542.9h15.6M1299.2 1542.9h3.1M1305.4 1542.9h6.2M1317.9 1542.9h6.2M1327.3 1542.9h50M1380.4 1542.9h6.2M1361.7 1546.7h3.1M1367.9 1546.7h3.1M1377.3 1546.7h3.1M1202.4 1550.4h18.6M1224.2 1550.4h9.4M1236.7 1550.4h6.2M1296 1550.4h6.2M1305.4 1550.4h6.2M1317.9 1550.4h6.2M1327.3 1550.4h6.2M1336.7 1550.4h6.2M1211.7 1554.2h3.1M1217.9 1554.2h3.1M1233.5 1554.2h3.1M1314.8 1554.2h3.1M1330.4 1554.2h3.1M1342.9 1554.2h3.1M1352.3 1554.2h6.2M1349.2 1558h3.1M1355.4 1558h28.1M1346 1561.7h3.1M1355.4 1561.7h3.1M1364.8 1561.7h3.1M1374.2 1561.7h9.4M1386.7 1561.7h9.2M1202.4 1565.5h28M1233.5 1565.5h9.4M1246 1565.5h3.1M1261.7 1565.5h3.1M1267.9 1565.5h6.2M1283.5 1565.5h3.1M1289.8 1565.5h3.1M1302.3 1565.5h6.2M1311.7 1565.5h15.6M1330.4 1565.5h3.1M1339.8 1565.5h6.2M1355.4 1565.5h9.4M1267.9 1569.2h3.1M1277.3 1569.2h3.1M1292.9 1569.2h3.1M1299.2 1569.2h3.1M1305.4 1569.2h6.2M1314.8 1569.2h6.2M1330.4 1569.2h6.2M1339.8 1569.2h3.1M1346 1569.2h21.9M1371 1569.2h24.9M1261.7 1573h3.1M1267.9 1573h9.4M1283.5 1573h3.1M1292.9 1573h6.2M1305.4 1573h9.4M1317.9 1573h3.1M1239.8 1576.8h3.1M1277.3 1576.8h3.1M1299.2 1576.8h6.2M1308.5 1576.8h3.1M1317.9 1576.8h6.2M1327.3 1576.8h9.4M1342.9 1576.8h3.1M1355.4 1576.8h9.4M1371 1576.8h24.9M1261.7 1580.5h3.1M1274.2 1580.5h6.2M1283.5 1580.5h6.2M1299.2 1580.5h3.1M1305.4 1580.5h3.1M1311.7 1580.5h3.1M1317.9 1580.5h9.4M1214.8 1584.3h3.1M1221 1584.3h12.5M1249.2 1584.3h25M1277.3 1584.3h9.4M1289.8 1584.3h9.4M1302.3 1584.3h37.5M1342.9 1584.3h21.9M1367.9 1584.3h15.6M1386.7 1584.3h9.2M1230.4 1588h12.5M1246 1588h6.2M1261.7 1588h3.1M1352.3 1588h6.2M1361.7 1588h3.1M1367.9 1588h3.1M1380.4 1588h3.1M1389.8 1588h6.1M1202.4 1591.8h9.2M1214.8 1591.8h6.2M1224.2 1591.8h6.2M1233.5 1591.8h3.1M1239.8 1591.8h6.2M1249.2 1591.8h6.2M1258.5 1591.8h3.1M1264.8 1591.8h6.2M1277.3 1591.8h3.1M1289.8 1591.8h6.2M1308.5 1591.8h9.4M1321 1591.8h3.1M1339.8 1591.8h3.1M1346 1591.8h21.9M1371 1591.8h3.1M1377.3 1591.8h18.6M1249.2 1595.6h9.4M1261.7 1595.6h6.2M1271 1595.6h15.6M1289.8 1595.6h3.1M1296 1595.6h6.2M1308.5 1595.6h9.4M1208.5 1599.3h9.4M1224.2 1599.3h12.5M1239.8 1599.3h6.2M1249.2 1599.3h6.2M1261.7 1599.3h3.1M1267.9 1599.3h3.1M1274.2 1599.3h6.2M1283.5 1599.3h9.4M1302.3 1599.3h18.8M1324.2 1599.3h18.8M1346 1599.3h21.9M1371 1599.3h24.9M1221 1603.1h6.2M1211.7 1606.8h3.1M1217.9 1606.8h3.1M1292.9 1606.8h6.2M1305.4 1606.8h12.5M1324.2 1606.8h6.2M1336.7 1606.8h3.1M1349.2 1606.8h3.1M1202.4 1610.6h6.1M1211.7 1610.6h6.2M1221 1610.6h3.1M1227.3 1610.6h3.1M1299.2 1610.6h9.4M1311.7 1610.6h12.5M1333.5 1610.6h6.2M1346 1610.6h3.1M1374.2 1610.6h3.1M1383.5 1610.6h6.2M1267.9 1614.4h3.1M1280.4 1614.4h25M1314.8 1614.4h3.1M1208.5 1618.1h28.1M1239.8 1618.1h9.4M1252.3 1618.1h6.2M1261.7 1618.1h18.8M1283.5 1618.1h3.1M1292.9 1618.1h3.1M1302.3 1618.1h3.1M1308.5 1618.1h6.2M1317.9 1618.1h9.4"/>
<path stroke="#faefd9" d="M1202.4 779.6h12.4M1305.4 779.6h18.8M1202.4 783.3h9.2M1380.4 783.3h15.5M1305.4 787.1h18.8M1342.9 787.1h3.1M1349.2 787.1h12.5M1371 787.1h9.4M1383.5 787.1h3.1M1202.4 790.9h9.2M1305.4 790.9h18.8M1202.4 794.6h15.5M1308.5 794.6h18.8M1346 794.6h3.1M1389.8 794.6h6.1M1311.7 798.4h31.2M1346 798.4h3.1M1217.9 802.1h6.2M1305.4 802.1h18.8M1305.4 805.9h18.8M1227.3 809.7h3.1M1324.2 809.7h3.1M1211.7 813.4h6.2M1305.4 813.4h3.1M1317.9 817.2h9.4M1336.7 820.9h21.9M1361.7 820.9h3.1M1305.4 824.7h18.8M1352.3 824.7h37.5M1305.4 828.5h21.9M1214.8 836h6.2M1314.8 836h6.2M1324.2 836h6.2M1333.5 836h3.1M1342.9 836h3.1M1214.8 839.7h6.2M1202.4 843.5h9.2M1308.5 843.5h18.8M1358.5 843.5h37.4M1305.4 847.3h18.8M1339.8 847.3h6.2M1380.4 847.3h15.5M1305.4 851h18.8M1202.4 854.8h6.1M1346 854.8h6.2M1214.8 858.5h6.2M1308.5 858.5h18.8M1202.4 862.3h9.2M1321 862.3h3.1M1367.9 862.3h3.1M1374.2 862.3h3.1M1380.4 862.3h15.5M1202.4 866.1h6.1M1202.4 869.8h9.2M1321 869.8h6.2M1221 873.6h6.2M1305.4 873.6h15.6M1211.7 877.3h9.4M1317.9 877.3h12.5M1336.7 877.3h9.4M1358.5 877.3h3.1M1202.4 881.1h9.2M1308.5 881.1h12.5M1305.4 884.9h21.9M1355.4 884.9h3.1M1371 884.9h9.4M1383.5 884.9h3.1M1202.4 888.6h18.6M1224.2 888.6h3.1M1308.5 888.6h15.6M1327.3 888.6h3.1M1224.2 892.4h6.2M1305.4 892.4h18.8M1333.5 892.4h3.1M1342.9 892.4h40.6M1389.8 892.4h6.1M1311.7 896.1h18.8M1214.8 899.9h6.2M1221 903.7h6.2M1336.7 903.7h9.4M1352.3 903.7h3.1M1361.7 903.7h9.4M1374.2 903.7h21.8M1202.4 907.4h9.2M1302.3 907.4h15.6M1327.3 907.4h6.2M1374.2 907.4h6.2M1227.3 911.2h6.2M1311.7 911.2h15.6M1386.7 911.2h9.2M1308.5 914.9h15.6M1371 914.9h3.1M1377.3 914.9h18.6M1221 918.7h3.1M1227.3 918.7h6.2M1308.5 918.7h12.5M1327.3 918.7h6.2M1339.8 918.7h3.1M1346 918.7h9.4M1364.8 918.7h6.2M1377.3 918.7h3.1M1374.2 922.5h6.2M1224.2 926.2h6.2M1308.5 926.2h6.2M1224.2 930h6.2M1305.4 933.8h18.8M1327.3 933.8h9.4M1339.8 933.8h3.1M1346 933.8h6.2M1217.9 937.5h6.2M1308.5 937.5h12.5M1246 941.3h6.2M1308.5 941.3h6.2M1217.9 945h12.5M1308.5 945h3.1M1314.8 945h3.1M1324.2 945h6.2M1333.5 945h9.4M1202.4 948.8h9.2M1217.9 948.8h9.4M1333.5 948.8h3.1M1349.2 948.8h12.5M1221 952.6h6.2M1346 952.6h6.2M1361.7 952.6h34.2M1230.4 956.3h6.2M1308.5 956.3h9.4M1236.7 963.8h6.2M1308.5 963.8h6.2M1224.2 967.6h6.2M1214.8 971.4h9.4M1330.4 971.4h3.1M1336.7 971.4h3.1M1342.9 971.4h3.1M1211.7 975.1h6.2M1208.5 978.9h9.4M1305.4 978.9h3.1M1221 982.6h6.2M1202.4 986.4h28M1233.5 986.4h6.2M1364.8 986.4h3.1M1386.7 986.4h3.1M1227.3 990.2h3.1M1246 993.9h6.2M1308.5 993.9h53.1M1371 993.9h6.2M1380.4 993.9h3.1M1217.9 997.7h9.4M1305.4 997.7h3.1M1364.8 997.7h3.1M1371 997.7h24.9M1221 1001.4h9.4M1358.5 1001.4h21.9M1383.5 1001.4h12.4M1217.9 1005.2h9.4M1371 1005.2h6.2M1333.5 1009h3.1M1364.8 1009h6.2M1202.4 1012.7h9.2M1361.7 1012.7h6.2M1202.4 1016.5h6.1M1371 1016.5h9.4M1202.4 1024h12.4M1305.4 1024h6.2M1314.8 1024h3.1M1321 1024h3.1M1327.3 1024h3.1M1336.7 1024h3.1M1233.5 1027.8h6.2M1349.2 1027.8h15.6M1211.7 1031.5h6.2M1367.9 1031.5h3.1M1380.4 1031.5h15.5M1214.8 1035.3h9.4M1336.7 1035.3h6.2M1355.4 1035.3h6.2M1367.9 1035.3h6.2M1377.3 1035.3h18.6M1211.7 1039h9.4M1364.8 1039h3.1M1233.5 1042.8h6.2M1314.8 1042.8h3.1M1202.4 1046.6h24.9M1371 1046.6h6.2M1383.5 1046.6h12.4M1224.2 1050.3h9.4M1202.4 1054.1h9.2M1202.4 1057.8h9.2M1217.9 1057.8h9.4M1336.7 1057.8h18.8M1202.4 1061.6h9.2M1308.5 1061.6h3.1M1208.5 1065.4h3.1M1239.8 1065.4h6.2M1386.7 1065.4h3.1M1230.4 1069.1h6.2M1202.4 1072.9h15.5M1314.8 1072.9h6.2M1346 1072.9h3.1M1211.7 1076.6h6.2M1327.3 1076.6h25M1355.4 1076.6h9.4M1208.5 1080.4h3.1M1214.8 1080.4h9.4M1330.4 1080.4h6.2M1339.8 1080.4h15.6M1364.8 1080.4h3.1M1346 1084.2h40.6M1202.4 1087.9h6.1M1214.8 1087.9h9.4M1202.4 1091.7h15.5M1308.5 1091.7h31.2M1202.4 1095.4h15.5M1211.7 1099.2h9.4M1221 1103h9.4M1202.4 1106.7h12.4M1224.2 1110.5h6.2M1311.7 1110.5h15.6M1342.9 1110.5h3.1M1239.8 1114.2h9.4M1224.2 1118h6.2M1208.5 1121.8h9.4M1321 1125.5h6.2M1330.4 1125.5h3.1M1342.9 1125.5h3.1M1355.4 1125.5h6.2M1217.9 1129.3h9.4M1330.4 1129.3h31.2M1364.8 1129.3h3.1M1371 1129.3h3.1M1308.5 1133h6.2M1208.5 1136.8h12.5M1224.2 1136.8h3.1M1327.3 1136.8h3.1M1358.5 1136.8h15.6M1383.5 1136.8h3.1M1389.8 1136.8h6.1M1308.5 1140.6h9.4M1202.4 1144.3h6.1M1224.2 1144.3h9.4M1342.9 1144.3h3.1M1227.3 1148.1h9.4M1349.2 1148.1h3.1M1355.4 1148.1h40.5M1202.4 1151.8h6.1M1211.7 1151.8h34.4M1342.9 1151.8h37.5M1383.5 1151.8h3.1M1221 1155.6h12.5M1211.7 1159.4h6.2M1308.5 1159.4h3.1M1317.9 1159.4h3.1M1336.7 1159.4h6.2M1346 1159.4h6.2M1314.8 1163.1h3.1M1321 1163.1h3.1M1327.3 1163.1h3.1M1214.8 1166.9h12.5M1321 1166.9h3.1M1330.4 1166.9h12.5M1242.9 1170.6h9.4M1202.4 1174.4h24.9M1230.4 1174.4h3.1M1380.4 1174.4h15.5M1202.4 1178.2h6.1M1230.4 1178.2h9.4M1386.7 1178.2h3.1M1211.7 1181.9h3.1M1224.2 1181.9h18.8M1342.9 1181.9h12.5M1233.5 1185.7h9.4M1311.7 1185.7h3.1M1211.7 1189.4h3.1M1217.9 1189.4h3.1M1224.2 1189.4h6.2M1233.5 1189.4h9.4M1308.5 1189.4h3.1M1367.9 1189.4h12.5M1383.5 1189.4h3.1M1252.3 1193.2h6.2M1221 1197h12.5M1342.9 1197h6.2M1255.4 1200.7h9.4M1317.9 1200.7h3.1M1327.3 1200.7h6.2M1242.9 1204.5h3.1M1249.2 1204.5h15.6M1277.3 1204.5h12.5M1311.7 1204.5h3.1M1364.8 1204.5h6.2M1386.7 1204.5h3.1M1342.9 1212h6.2M1355.4 1212h6.2M1380.4 1212h9.4M1283.5 1215.8h3.1M1305.4 1219.5h3.1M1311.7 1219.5h3.1M1336.7 1219.5h6.2M1377.3 1219.5h6.2M1208.5 1223.3h3.1M1283.5 1223.3h3.1M1292.9 1223.3h18.8M1314.8 1223.3h9.4M1258.5 1227.1h3.1M1264.8 1227.1h15.6M1327.3 1227.1h3.1M1246 1230.8h12.5M1261.7 1230.8h3.1M1271 1230.8h9.4M1283.5 1230.8h3.1M1289.8 1230.8h3.1M1217.9 1234.6h28.1M1314.8 1234.6h3.1M1324.2 1234.6h6.2M1333.5 1234.6h6.2M1346 1234.6h6.2M1330.4 1238.3h3.1M1289.8 1249.6h15.6M1339.8 1249.6h12.5M1267.9 1253.4h3.1M1292.9 1253.4h6.2M1230.4 1264.7h9.4M1211.7 1272.2h3.1M1299.2 1279.7h3.1M1321 1279.7h6.2M1299.2 1283.5h3.1M1308.5 1283.5h3.1M1321 1283.5h6.2M1208.5 1291h6.2M1271 1291h9.4M1249.2 1294.7h3.1M1358.5 1294.7h3.1M1246 1298.5h6.2M1255.4 1298.5h6.2M1264.8 1298.5h28.1M1296 1298.5h3.1M1302.3 1298.5h3.1M1227.3 1309.8h3.1M1233.5 1309.8h9.4M1246 1309.8h3.1M1336.7 1309.8h15.6M1202.4 1317.3h21.8M1230.4 1317.3h3.1M1236.7 1317.3h25M1261.7 1321.1h3.1M1267.9 1321.1h3.1M1274.2 1321.1h3.1M1283.5 1321.1h6.2M1292.9 1321.1h9.4M1364.8 1321.1h3.1M1374.2 1321.1h9.4M1217.9 1332.3h3.1M1233.5 1332.3h6.2M1246 1332.3h12.5M1321 1332.3h12.5M1227.3 1336.1h9.4M1299.2 1336.1h9.4M1311.7 1336.1h3.1M1214.8 1343.6h9.4M1280.4 1343.6h6.2M1352.3 1343.6h12.5M1367.9 1343.6h12.5M1383.5 1343.6h6.2M1202.4 1347.4h9.2M1249.2 1347.4h9.4M1261.7 1351.1h9.4M1277.3 1351.1h3.1M1283.5 1351.1h3.1M1374.2 1351.1h3.1M1386.7 1351.1h3.1M1274.2 1354.9h12.5M1339.8 1354.9h12.5M1258.5 1358.7h3.1M1330.4 1362.4h3.1M1355.4 1362.4h3.1M1236.7 1366.2h3.1M1246 1366.2h3.1M1324.2 1373.7h18.8M1367.9 1373.7h15.6M1217.9 1377.5h25M1246 1377.5h3.1M1314.8 1377.5h3.1M1324.2 1377.5h6.2M1333.5 1377.5h3.1M1339.8 1377.5h6.2M1349.2 1377.5h3.1M1267.9 1385h12.5M1283.5 1385h3.1M1314.8 1385h9.4M1246 1388.7h9.4M1292.9 1388.7h6.2M1330.4 1403.8h18.8M1233.5 1411.3h3.1M1242.9 1411.3h3.1M1258.5 1411.3h3.1M1255.4 1415.1h3.1M1305.4 1415.1h3.1M1311.7 1415.1h9.4M1330.4 1415.1h6.2M1339.8 1415.1h9.4M1352.3 1415.1h9.4M1367.9 1415.1h6.2M1377.3 1415.1h3.1M1383.5 1415.1h6.2M1242.9 1418.8h9.4M1277.3 1418.8h9.4M1299.2 1418.8h3.1M1308.5 1418.8h3.1M1314.8 1418.8h3.1M1321 1418.8h3.1M1283.5 1422.6h6.2M1324.2 1422.6h6.2M1246 1426.3h6.2M1311.7 1426.3h6.2M1280.4 1430.1h3.1M1296 1430.1h9.4M1317.9 1430.1h3.1M1377.3 1433.9h3.1M1242.9 1437.6h9.4M1202.4 1441.4h6.1M1211.7 1441.4h6.2M1224.2 1441.4h9.4M1349.2 1441.4h6.2M1358.5 1441.4h9.4M1374.2 1441.4h3.1M1236.7 1445.1h9.4M1249.2 1445.1h3.1M1277.3 1445.1h6.2M1264.8 1448.9h6.2M1267.9 1452.7h6.2M1277.3 1452.7h9.4M1333.5 1452.7h3.1M1339.8 1452.7h9.4M1289.8 1456.4h6.2M1321 1456.4h3.1M1202.4 1460.2h6.1M1224.2 1460.2h3.1M1314.8 1460.2h3.1M1346 1460.2h3.1M1352.3 1460.2h3.1M1364.8 1460.2h6.2M1374.2 1460.2h3.1M1380.4 1460.2h6.2M1255.4 1463.9h6.2M1264.8 1463.9h9.4M1277.3 1463.9h3.1M1292.9 1463.9h3.1M1302.3 1463.9h3.1M1311.7 1463.9h6.2M1327.3 1463.9h3.1M1333.5 1463.9h3.1M1274.2 1475.2h9.4M1305.4 1475.2h3.1M1311.7 1475.2h3.1M1271 1479h3.1M1202.4 1482.8h6.1M1211.7 1482.8h3.1M1221 1482.8h9.4M1242.9 1490.3h3.1M1255.4 1490.3h3.1M1261.7 1490.3h3.1M1271 1490.3h3.1M1277.3 1490.3h3.1M1367.9 1490.3h3.1M1374.2 1490.3h3.1M1383.5 1490.3h6.2M1242.9 1494h6.2M1258.5 1494h3.1M1364.8 1494h3.1M1380.4 1494h15.5M1355.4 1497.8h3.1M1371 1497.8h3.1M1217.9 1501.6h3.1M1224.2 1501.6h3.1M1239.8 1501.6h3.1M1349.2 1509.1h12.5M1324.2 1512.8h12.5M1383.5 1512.8h12.4M1202.4 1520.4h6.1M1214.8 1520.4h3.1M1221 1520.4h6.2M1233.5 1520.4h3.1M1246 1520.4h6.2M1374.2 1520.4h3.1M1386.7 1520.4h9.2M1208.5 1524.1h3.1M1214.8 1524.1h3.1M1221 1524.1h3.1M1264.8 1524.1h9.4M1277.3 1524.1h3.1M1339.8 1524.1h12.5M1202.4 1527.9h9.2M1274.2 1527.9h12.5M1292.9 1527.9h3.1M1358.5 1527.9h3.1M1380.4 1527.9h3.1M1389.8 1527.9h6.1M1202.4 1531.6h6.1M1280.4 1531.6h15.6M1333.5 1539.2h3.1M1339.8 1539.2h6.2M1377.3 1539.2h9.4M1239.8 1546.7h9.4M1255.4 1546.7h3.1M1264.8 1546.7h9.4M1277.3 1546.7h6.2M1286.7 1546.7h6.2M1296 1546.7h3.1M1308.5 1546.7h9.4M1352.3 1550.4h9.4M1274.2 1554.2h3.1M1289.8 1554.2h3.1M1371 1554.2h9.4M1214.8 1558h3.1M1221 1558h9.4M1302.3 1558h6.2M1311.7 1558h9.4M1208.5 1561.7h3.1M1224.2 1561.7h6.2M1233.5 1561.7h3.1M1258.5 1561.7h3.1M1264.8 1561.7h9.4M1277.3 1561.7h6.2M1286.7 1561.7h12.5M1321 1561.7h3.1M1214.8 1569.2h9.4M1246 1569.2h6.2M1208.5 1580.5h3.1M1361.7 1580.5h3.1M1371 1580.5h3.1M1377.3 1580.5h18.6M1289.8 1588h3.1M1305.4 1588h6.2M1314.8 1588h9.4M1330.4 1588h3.1M1277.3 1603.1h3.1M1286.7 1603.1h3.1M1308.5 1603.1h3.1M1321 1603.1h9.4M1339.8 1603.1h3.1M1349.2 1603.1h18.8M1236.7 1610.6h3.1M1280.4 1610.6h9.4M1367.9 1614.4h3.1M1374.2 1614.4h9.4M1386.7 1614.4h3.1M1346 1618.1h9.4"/>
<path stroke="#faecd4" d="M1214.8 779.6h3.1M1211.7 783.3h6.2M1211.7 790.9h3.1M1217.9 794.6h6.2M1349.2 794.6h6.2M1383.5 794.6h6.2M1202.4 798.4h9.2M1224.2 802.1h3.1M1230.4 809.7h6.2M1217.9 813.4h3.1M1202.4 820.9h6.1M1202.4 832.2h6.1M1221 836h3.1M1308.5 836h6.2M1321 836h3.1M1221 839.7h3.1M1211.7 843.5h6.2M1202.4 847.3h9.2M1346 847.3h3.1M1374.2 847.3h6.2M1202.4 851h9.2M1208.5 854.8h3.1M1352.3 854.8h12.5M1386.7 854.8h9.2M1221 858.5h3.1M1211.7 862.3h3.1M1208.5 866.1h6.2M1211.7 869.8h6.2M1227.3 873.6h3.1M1221 877.3h3.1M1211.7 881.1h6.2M1221 888.6h3.1M1227.3 888.6h6.2M1230.4 892.4h6.2M1221 899.9h6.2M1227.3 903.7h3.1M1211.7 907.4h6.2M1333.5 907.4h3.1M1371 907.4h3.1M1233.5 911.2h6.2M1233.5 918.7h3.1M1202.4 922.5h9.2M1367.9 922.5h6.2M1230.4 926.2h6.2M1230.4 930h3.1M1202.4 933.8h9.2M1224.2 937.5h6.2M1252.3 941.3h3.1M1230.4 945h3.1M1227.3 948.8h6.2M1361.7 948.8h6.2M1227.3 952.6h6.2M1236.7 956.3h6.2M1202.4 960.1h6.1M1242.9 963.8h3.1M1230.4 967.6h6.2M1224.2 971.4h3.1M1217.9 975.1h6.2M1217.9 978.9h6.2M1227.3 982.6h6.2M1239.8 986.4h6.2M1224.2 990.2h3.1M1230.4 990.2h6.2M1252.3 993.9h3.1M1227.3 997.7h3.1M1308.5 997.7h6.2M1355.4 997.7h9.4M1367.9 997.7h3.1M1230.4 1001.4h6.2M1227.3 1005.2h6.2M1377.3 1005.2h3.1M1389.8 1005.2h6.1M1336.7 1009h3.1M1361.7 1009h3.1M1211.7 1012.7h6.2M1208.5 1016.5h9.4M1214.8 1024h6.2M1239.8 1027.8h3.1M1364.8 1027.8h6.2M1383.5 1027.8h12.4M1217.9 1031.5h9.4M1224.2 1035.3h3.1M1221 1039h6.2M1367.9 1039h6.2M1389.8 1039h6.1M1239.8 1042.8h3.1M1233.5 1050.3h6.2M1211.7 1054.1h9.4M1227.3 1057.8h6.2M1327.3 1057.8h9.4M1211.7 1061.6h9.4M1246 1065.4h6.2M1236.7 1069.1h6.2M1217.9 1072.9h6.2M1321 1072.9h25M1230.4 1076.6h6.2M1224.2 1080.4h9.4M1224.2 1087.9h6.2M1217.9 1091.7h6.2M1217.9 1095.4h6.2M1221 1099.2h6.2M1230.4 1103h6.2M1214.8 1106.7h3.1M1230.4 1110.5h9.4M1249.2 1114.2h3.1M1230.4 1118h6.2M1217.9 1121.8h9.4M1227.3 1129.3h6.2M1324.2 1129.3h6.2M1330.4 1136.8h3.1M1355.4 1136.8h3.1M1239.8 1140.6h9.4M1233.5 1144.3h6.2M1236.7 1148.1h6.2M1246 1151.8h6.2M1233.5 1155.6h6.2M1236.7 1163.1h12.5M1227.3 1166.9h9.4M1342.9 1166.9h6.2M1389.8 1166.9h6.1M1252.3 1170.6h3.1M1227.3 1174.4h3.1M1233.5 1174.4h6.2M1239.8 1178.2h6.2M1242.9 1181.9h6.2M1355.4 1181.9h12.5M1242.9 1185.7h6.2M1242.9 1189.4h9.4M1311.7 1189.4h6.2M1352.3 1189.4h3.1M1358.5 1189.4h9.4M1258.5 1193.2h6.2M1233.5 1197h6.2M1333.5 1197h9.4M1264.8 1200.7h3.1M1371 1204.5h15.6M1389.8 1204.5h6.1M1361.7 1212h9.4M1377.3 1212h3.1M1261.7 1215.8h3.1M1280.4 1215.8h3.1M1342.9 1219.5h6.2M1367.9 1219.5h9.4M1321 1227.1h6.2M1330.4 1227.1h3.1M1258.5 1230.8h3.1M1264.8 1230.8h6.2M1305.4 1249.6h9.4M1324.2 1249.6h3.1M1330.4 1249.6h9.4M1271 1253.4h3.1M1289.8 1253.4h3.1M1202.4 1264.7h18.6M1224.2 1264.7h6.2M1214.8 1272.2h6.2M1227.3 1272.2h6.2M1214.8 1291h6.2M1224.2 1291h3.1M1258.5 1291h12.5M1224.2 1317.3h6.2M1233.5 1317.3h3.1M1258.5 1332.3h9.4M1305.4 1332.3h15.6M1236.7 1336.1h6.2M1292.9 1336.1h6.2M1224.2 1343.6h12.5M1255.4 1343.6h3.1M1261.7 1343.6h18.8M1211.7 1347.4h6.2M1246 1347.4h3.1M1286.7 1354.9h6.2M1333.5 1354.9h6.2M1261.7 1358.7h3.1M1333.5 1362.4h3.1M1342.9 1373.7h25M1280.4 1385h3.1M1286.7 1385h28.1M1255.4 1388.7h9.4M1283.5 1388.7h9.4M1324.2 1403.8h6.2M1258.5 1415.1h6.2M1302.3 1415.1h3.1M1308.5 1415.1h3.1M1252.3 1418.8h6.2M1274.2 1418.8h3.1M1289.8 1422.6h3.1M1321 1422.6h3.1M1252.3 1426.3h9.4M1305.4 1426.3h6.2M1380.4 1433.9h3.1M1202.4 1437.6h12.4M1233.5 1437.6h9.4M1367.9 1441.4h6.2M1377.3 1441.4h18.6M1246 1445.1h3.1M1252.3 1445.1h25M1246 1448.9h3.1M1261.7 1448.9h3.1M1286.7 1452.7h9.4M1324.2 1452.7h9.4M1336.7 1452.7h3.1M1317.9 1456.4h3.1M1317.9 1460.2h3.1M1339.8 1460.2h6.2M1283.5 1475.2h3.1M1299.2 1475.2h6.2M1208.5 1482.8h3.1M1214.8 1482.8h6.2M1358.5 1497.8h12.5M1336.7 1512.8h12.5M1374.2 1512.8h9.4M1274.2 1524.1h3.1M1280.4 1524.1h3.1M1333.5 1524.1h6.2M1211.7 1527.9h12.5M1264.8 1527.9h9.4M1208.5 1531.6h6.2M1217.9 1531.6h3.1M1271 1531.6h9.4M1346 1539.2h3.1M1374.2 1539.2h3.1M1361.7 1550.4h6.2M1230.4 1558h9.4M1286.7 1558h15.6M1299.2 1561.7h3.1M1314.8 1561.7h6.2M1224.2 1569.2h21.9M1367.9 1603.1h6.2M1239.8 1610.6h6.2M1277.3 1610.6h3.1M1355.4 1618.1h6.2M1364.8 1618.1h3.1"/>
<path stroke="#f9eacf" d="M1217.9 779.6h3.1M1217.9 783.3h3.1M1202.4 787.1h6.1M1214.8 790.9h3.1M1224.2 794.6h3.1M1355.4 794.6h3.1M1380.4 794.6h3.1M1211.7 798.4h3.1M1227.3 802.1h3.1M1236.7 809.7h3.1M1221 813.4h3.1M1208.5 820.9h3.1M1302.3 820.9h3.1M1202.4 828.5h9.2M1236.7 828.5h3.1M1208.5 832.2h3.1M1224.2 836h3.1M1224.2 839.7h3.1M1217.9 843.5h3.1M1211.7 847.3h3.1M1349.2 847.3h6.2M1367.9 847.3h6.2M1211.7 851h3.1M1211.7 854.8h6.2M1364.8 854.8h21.9M1224.2 858.5h6.2M1214.8 862.3h6.2M1214.8 866.1h3.1M1217.9 869.8h3.1M1230.4 873.6h3.1M1224.2 877.3h3.1M1217.9 881.1h3.1M1202.4 884.9h9.2M1233.5 888.6h3.1M1236.7 892.4h3.1M1202.4 896.1h9.2M1227.3 899.9h3.1M1230.4 903.7h3.1M1217.9 907.4h3.1M1336.7 907.4h6.2M1364.8 907.4h6.2M1239.8 911.2h3.1M1236.7 918.7h3.1M1211.7 922.5h6.2M1361.7 922.5h6.2M1236.7 926.2h3.1M1233.5 930h6.2M1211.7 933.8h6.2M1230.4 937.5h3.1M1255.4 941.3h3.1M1233.5 945h6.2M1233.5 948.8h3.1M1367.9 948.8h3.1M1233.5 952.6h3.1M1242.9 956.3h3.1M1208.5 960.1h3.1M1246 963.8h3.1M1236.7 967.6h3.1M1227.3 971.4h6.2M1224.2 975.1h6.2M1224.2 978.9h6.2M1233.5 982.6h6.2M1246 986.4h3.1M1236.7 990.2h3.1M1255.4 993.9h3.1M1230.4 997.7h6.2M1314.8 997.7h9.4M1352.3 997.7h3.1M1236.7 1001.4h3.1M1233.5 1005.2h3.1M1386.7 1005.2h3.1M1339.8 1009h3.1M1358.5 1009h3.1M1217.9 1012.7h6.2M1217.9 1016.5h3.1M1239.8 1020.2h3.1M1221 1024h6.2M1242.9 1027.8h6.2M1371 1027.8h12.5M1227.3 1031.5h3.1M1227.3 1035.3h6.2M1227.3 1039h3.1M1374.2 1039h15.6M1242.9 1042.8h6.2M1239.8 1050.3h3.1M1221 1054.1h6.2M1233.5 1057.8h3.1M1308.5 1057.8h18.8M1221 1061.6h3.1M1252.3 1065.4h3.1M1242.9 1069.1h3.1M1224.2 1072.9h6.2M1236.7 1076.6h6.2M1233.5 1080.4h3.1M1230.4 1087.9h6.2M1224.2 1091.7h6.2M1224.2 1095.4h6.2M1227.3 1099.2h6.2M1236.7 1103h6.2M1239.8 1110.5h3.1M1252.3 1114.2h6.2M1236.7 1118h6.2M1227.3 1121.8h6.2M1227.3 1125.5h6.2M1233.5 1129.3h6.2M1321 1129.3h3.1M1246 1136.8h3.1M1352.3 1136.8h3.1M1233.5 1140.6h6.2M1249.2 1140.6h6.2M1239.8 1144.3h6.2M1242.9 1148.1h6.2M1252.3 1151.8h3.1M1239.8 1155.6h6.2M1255.4 1159.4h3.1M1227.3 1163.1h9.4M1249.2 1163.1h6.2M1236.7 1166.9h6.2M1349.2 1166.9h6.2M1386.7 1166.9h3.1M1255.4 1170.6h6.2M1239.8 1174.4h6.2M1246 1178.2h6.2M1249.2 1181.9h6.2M1367.9 1181.9h3.1M1249.2 1185.7h6.2M1252.3 1189.4h3.1M1317.9 1189.4h6.2M1330.4 1189.4h21.9M1355.4 1189.4h3.1M1264.8 1193.2h3.1M1239.8 1197h6.2M1330.4 1197h3.1M1267.9 1200.7h6.2M1371 1212h6.2M1264.8 1215.8h3.1M1277.3 1215.8h3.1M1349.2 1219.5h18.8M1280.4 1227.1h9.4M1296 1227.1h3.1M1314.8 1227.1h6.2M1314.8 1249.6h9.4M1327.3 1249.6h3.1M1274.2 1253.4h3.1M1286.7 1253.4h3.1M1221 1264.7h3.1M1221 1272.2h6.2M1221 1291h3.1M1227.3 1291h6.2M1239.8 1291h3.1M1249.2 1291h9.4M1267.9 1332.3h12.5M1289.8 1332.3h3.1M1299.2 1332.3h6.2M1242.9 1336.1h9.4M1283.5 1336.1h9.4M1236.7 1343.6h18.8M1258.5 1343.6h3.1M1217.9 1347.4h3.1M1242.9 1347.4h3.1M1292.9 1354.9h9.4M1324.2 1354.9h9.4M1336.7 1362.4h3.1M1352.3 1362.4h3.1M1264.8 1388.7h18.8M1314.8 1403.8h9.4M1264.8 1415.1h6.2M1296 1415.1h6.2M1258.5 1418.8h3.1M1267.9 1418.8h6.2M1292.9 1422.6h9.4M1317.9 1422.6h3.1M1261.7 1426.3h6.2M1296 1426.3h9.4M1214.8 1437.6h18.8M1249.2 1448.9h3.1M1258.5 1448.9h3.1M1296 1452.7h28.1M1296 1456.4h3.1M1321 1460.2h3.1M1336.7 1460.2h3.1M1286.7 1475.2h12.5M1361.7 1509.1h6.2M1349.2 1512.8h25M1283.5 1524.1h12.5M1324.2 1524.1h3.1M1330.4 1524.1h3.1M1224.2 1527.9h9.4M1255.4 1527.9h9.4M1214.8 1531.6h3.1M1221 1531.6h3.1M1261.7 1531.6h9.4M1349.2 1539.2h3.1M1367.9 1539.2h6.2M1367.9 1550.4h3.1M1239.8 1558h6.2M1274.2 1558h3.1M1280.4 1558h6.2M1302.3 1561.7h12.5M1374.2 1603.1h6.2M1246 1610.6h3.1M1274.2 1610.6h3.1M1361.7 1618.1h3.1M1367.9 1618.1h3.1"/>
<path stroke="#f8e7ca" d="M1221 779.6h3.1M1221 783.3h3.1M1208.5 787.1h3.1M1217.9 790.9h3.1M1227.3 794.6h3.1M1358.5 794.6h6.2M1374.2 794.6h6.2M1214.8 798.4h3.1M1230.4 802.1h3.1M1217.9 805.9h3.1M1224.2 813.4h3.1M1202.4 817.2h6.1M1211.7 820.9h3.1M1305.4 820.9h15.6M1211.7 828.5h3.1M1230.4 828.5h6.2M1239.8 828.5h3.1M1211.7 832.2h3.1M1227.3 836h3.1M1227.3 839.7h3.1M1221 843.5h3.1M1214.8 847.3h3.1M1355.4 847.3h12.5M1214.8 851h3.1M1217.9 854.8h3.1M1221 862.3h3.1M1217.9 866.1h3.1M1308.5 866.1h12.5M1221 869.8h3.1M1233.5 873.6h3.1M1227.3 877.3h3.1M1221 881.1h3.1M1211.7 884.9h3.1M1236.7 888.6h3.1M1211.7 896.1h3.1M1230.4 899.9h3.1M1305.4 899.9h3.1M1233.5 903.7h3.1M1221 907.4h6.2M1342.9 907.4h3.1M1358.5 907.4h6.2M1242.9 911.2h3.1M1239.8 918.7h3.1M1217.9 922.5h3.1M1239.8 926.2h3.1M1217.9 933.8h3.1M1233.5 937.5h3.1M1239.8 945h3.1M1236.7 948.8h3.1M1371 948.8h6.2M1236.7 952.6h3.1M1246 956.3h3.1M1211.7 960.1h18.8M1249.2 963.8h3.1M1239.8 967.6h3.1M1233.5 971.4h3.1M1308.5 971.4h9.4M1230.4 975.1h3.1M1230.4 978.9h3.1M1239.8 982.6h3.1M1249.2 986.4h3.1M1221 990.2h3.1M1239.8 990.2h3.1M1258.5 993.9h3.1M1236.7 997.7h3.1M1324.2 997.7h6.2M1342.9 997.7h9.4M1239.8 1001.4h3.1M1236.7 1005.2h3.1M1380.4 1005.2h6.2M1249.2 1009h3.1M1308.5 1009h3.1M1355.4 1009h3.1M1224.2 1012.7h3.1M1221 1016.5h6.2M1242.9 1020.2h6.2M1227.3 1024h3.1M1249.2 1027.8h3.1M1230.4 1031.5h6.2M1233.5 1035.3h3.1M1308.5 1035.3h6.2M1230.4 1039h6.2M1249.2 1042.8h3.1M1242.9 1050.3h6.2M1227.3 1054.1h3.1M1236.7 1057.8h6.2M1224.2 1061.6h6.2M1255.4 1065.4h3.1M1246 1069.1h3.1M1230.4 1072.9h6.2M1242.9 1076.6h3.1M1236.7 1080.4h6.2M1239.8 1084.2h15.6M1236.7 1087.9h3.1M1230.4 1091.7h6.2M1230.4 1095.4h6.2M1233.5 1099.2h6.2M1242.9 1103h6.2M1242.9 1110.5h6.2M1258.5 1114.2h3.1M1242.9 1118h6.2M1233.5 1121.8h3.1M1224.2 1125.5h3.1M1233.5 1125.5h3.1M1239.8 1129.3h6.2M1308.5 1129.3h12.5M1249.2 1136.8h6.2M1333.5 1136.8h6.2M1349.2 1136.8h3.1M1227.3 1140.6h6.2M1255.4 1140.6h3.1M1246 1144.3h6.2M1249.2 1148.1h6.2M1255.4 1151.8h6.2M1246 1155.6h6.2M1258.5 1159.4h6.2M1202.4 1163.1h24.9M1255.4 1163.1h3.1M1242.9 1166.9h6.2M1355.4 1166.9h6.2M1380.4 1166.9h6.2M1261.7 1170.6h3.1M1246 1174.4h9.4M1258.5 1174.4h9.4M1252.3 1178.2h6.2M1255.4 1181.9h6.2M1371 1181.9h15.6M1255.4 1185.7h6.2M1255.4 1189.4h6.2M1324.2 1189.4h6.2M1267.9 1193.2h6.2M1246 1197h6.2M1324.2 1197h6.2M1274.2 1200.7h3.1M1267.9 1215.8h3.1M1274.2 1215.8h3.1M1289.8 1227.1h6.2M1299.2 1227.1h15.6M1277.3 1253.4h9.4M1233.5 1291h6.2M1242.9 1291h6.2M1280.4 1332.3h9.4M1292.9 1332.3h6.2M1252.3 1336.1h15.6M1271 1336.1h12.5M1221 1347.4h3.1M1239.8 1347.4h3.1M1302.3 1354.9h9.4M1314.8 1354.9h9.4M1264.8 1358.7h3.1M1277.3 1358.7h3.1M1349.2 1362.4h3.1M1311.7 1403.8h3.1M1271 1415.1h6.2M1286.7 1415.1h9.4M1261.7 1418.8h6.2M1302.3 1422.6h15.6M1267.9 1426.3h6.2M1289.8 1426.3h6.2M1383.5 1433.9h3.1M1252.3 1448.9h6.2M1299.2 1456.4h3.1M1311.7 1456.4h6.2M1324.2 1460.2h12.5M1367.9 1509.1h3.1M1389.8 1509.1h6.1M1296 1524.1h12.5M1317.9 1524.1h6.2M1327.3 1524.1h3.1M1233.5 1527.9h21.9M1224.2 1531.6h12.5M1239.8 1531.6h3.1M1249.2 1531.6h3.1M1255.4 1531.6h6.2M1352.3 1539.2h15.6M1371 1550.4h9.4M1389.8 1550.4h6.1M1246 1558h28.1M1277.3 1558h3.1M1380.4 1603.1h15.5M1249.2 1610.6h3.1M1267.9 1610.6h6.2M1371 1618.1h6.2M1380.4 1618.1h3.1"/>
<path stroke="#f7e3c3" d="M1224.2 779.6h3.1M1224.2 783.3h3.1M1211.7 787.1h3.1M1221 790.9h3.1M1364.8 794.6h9.4M1217.9 798.4h3.1M1233.5 802.1h3.1M1221 805.9h3.1M1239.8 809.7h3.1M1308.5 809.7h6.2M1227.3 813.4h3.1M1208.5 817.2h3.1M1214.8 820.9h3.1M1321 820.9h15.6M1202.4 824.7h6.1M1214.8 828.5h6.2M1227.3 828.5h3.1M1214.8 832.2h3.1M1230.4 836h3.1M1230.4 839.7h3.1M1308.5 839.7h3.1M1224.2 843.5h3.1M1217.9 847.3h3.1M1217.9 851h3.1M1221 854.8h3.1M1305.4 854.8h6.2M1230.4 858.5h3.1M1224.2 862.3h3.1M1221 866.1h3.1M1321 866.1h18.8M1224.2 869.8h3.1M1236.7 873.6h3.1M1230.4 877.3h3.1M1224.2 881.1h3.1M1214.8 884.9h3.1M1239.8 888.6h3.1M1239.8 892.4h3.1M1214.8 896.1h3.1M1233.5 899.9h3.1M1236.7 903.7h3.1M1346 907.4h12.5M1242.9 918.7h3.1M1221 922.5h3.1M1242.9 926.2h3.1M1239.8 930h3.1M1221 933.8h3.1M1236.7 937.5h3.1M1258.5 941.3h3.1M1242.9 945h3.1M1377.3 948.8h6.2M1386.7 948.8h9.2M1239.8 952.6h3.1M1249.2 956.3h3.1M1230.4 960.1h3.1M1252.3 963.8h3.1M1242.9 967.6h3.1M1236.7 971.4h3.1M1317.9 971.4h12.5M1233.5 975.1h6.2M1233.5 978.9h3.1M1242.9 982.6h3.1M1252.3 986.4h3.1M1217.9 990.2h3.1M1242.9 990.2h3.1M1261.7 993.9h3.1M1330.4 997.7h12.5M1242.9 1001.4h3.1M1239.8 1005.2h3.1M1230.4 1009h18.8M1252.3 1009h3.1M1311.7 1009h6.2M1342.9 1009h3.1M1352.3 1009h3.1M1227.3 1012.7h3.1M1227.3 1016.5h3.1M1249.2 1020.2h3.1M1230.4 1024h3.1M1252.3 1027.8h3.1M1236.7 1031.5h3.1M1236.7 1035.3h6.2M1314.8 1035.3h9.4M1236.7 1039h3.1M1242.9 1046.6h3.1M1249.2 1050.3h3.1M1230.4 1054.1h6.2M1242.9 1057.8h3.1M1230.4 1061.6h3.1M1258.5 1065.4h3.1M1249.2 1069.1h3.1M1236.7 1072.9h3.1M1246 1076.6h3.1M1242.9 1080.4h3.1M1236.7 1084.2h3.1M1255.4 1084.2h3.1M1239.8 1087.9h6.2M1236.7 1091.7h3.1M1236.7 1095.4h3.1M1239.8 1099.2h3.1M1249.2 1103h3.1M1249.2 1110.5h3.1M1261.7 1114.2h3.1M1249.2 1118h3.1M1236.7 1121.8h6.2M1202.4 1125.5h21.8M1236.7 1125.5h6.2M1246 1129.3h3.1M1305.4 1129.3h3.1M1252.3 1133h6.2M1255.4 1136.8h3.1M1339.8 1136.8h3.1M1346 1136.8h3.1M1202.4 1140.6h9.2M1224.2 1140.6h3.1M1258.5 1140.6h3.1M1252.3 1144.3h3.1M1255.4 1148.1h3.1M1261.7 1151.8h3.1M1252.3 1155.6h6.2M1264.8 1159.4h3.1M1258.5 1163.1h3.1M1249.2 1166.9h6.2M1361.7 1166.9h3.1M1371 1166.9h9.4M1264.8 1170.6h3.1M1255.4 1174.4h3.1M1267.9 1174.4h3.1M1258.5 1178.2h3.1M1261.7 1181.9h6.2M1311.7 1181.9h6.2M1386.7 1181.9h9.2M1261.7 1185.7h3.1M1261.7 1189.4h3.1M1274.2 1193.2h3.1M1252.3 1197h6.2M1305.4 1197h6.2M1277.3 1200.7h3.1M1271 1215.8h3.1M1267.9 1336.1h3.1M1224.2 1347.4h6.2M1233.5 1347.4h6.2M1311.7 1354.9h3.1M1267.9 1358.7h9.4M1339.8 1362.4h9.4M1308.5 1403.8h3.1M1277.3 1415.1h9.4M1274.2 1426.3h15.6M1386.7 1433.9h3.1M1302.3 1456.4h6.2M1371 1509.1h3.1M1383.5 1509.1h6.2M1308.5 1524.1h9.4M1236.7 1531.6h3.1M1242.9 1531.6h6.2M1252.3 1531.6h3.1M1380.4 1550.4h9.4M1252.3 1610.6h3.1M1258.5 1610.6h3.1M1264.8 1610.6h3.1M1377.3 1618.1h3.1M1383.5 1618.1h12.4"/>
<path stroke="#f6dfbc" d="M1214.8 787.1h3.1M1224.2 790.9h3.1M1230.4 794.6h3.1M1221 798.4h3.1M1236.7 802.1h3.1M1224.2 805.9h3.1M1242.9 809.7h3.1M1314.8 809.7h6.2M1230.4 813.4h3.1M1211.7 817.2h3.1M1217.9 820.9h3.1M1208.5 824.7h3.1M1221 828.5h6.2M1242.9 828.5h3.1M1217.9 832.2h3.1M1233.5 839.7h3.1M1311.7 839.7h12.5M1227.3 843.5h3.1M1221 847.3h3.1M1221 851h3.1M1224.2 854.8h3.1M1311.7 854.8h9.4M1233.5 858.5h3.1M1224.2 866.1h3.1M1339.8 866.1h6.2M1227.3 869.8h3.1M1239.8 873.6h3.1M1233.5 877.3h3.1M1227.3 881.1h3.1M1217.9 884.9h3.1M1242.9 888.6h3.1M1242.9 892.4h3.1M1217.9 896.1h3.1M1236.7 899.9h3.1M1239.8 903.7h3.1M1227.3 907.4h3.1M1246 911.2h3.1M1246 918.7h3.1M1224.2 922.5h3.1M1246 926.2h3.1M1242.9 930h3.1M1224.2 933.8h3.1M1239.8 937.5h3.1M1261.7 941.3h3.1M1383.5 948.8h3.1M1242.9 952.6h3.1M1233.5 960.1h3.1M1308.5 960.1h3.1M1255.4 963.8h3.1M1246 967.6h3.1M1239.8 971.4h3.1M1239.8 975.1h3.1M1236.7 978.9h3.1M1246 982.6h3.1M1255.4 986.4h3.1M1202.4 990.2h6.1M1214.8 990.2h3.1M1246 990.2h3.1M1264.8 993.9h3.1M1246 1001.4h3.1M1242.9 1005.2h3.1M1255.4 1009h3.1M1317.9 1009h3.1M1346 1009h6.2M1230.4 1012.7h3.1M1230.4 1016.5h6.2M1252.3 1020.2h3.1M1233.5 1024h6.2M1239.8 1031.5h3.1M1242.9 1035.3h3.1M1324.2 1035.3h3.1M1239.8 1039h3.1M1308.5 1039h6.2M1252.3 1042.8h3.1M1227.3 1046.6h15.6M1246 1046.6h3.1M1252.3 1050.3h3.1M1236.7 1054.1h3.1M1246 1057.8h3.1M1233.5 1061.6h3.1M1261.7 1065.4h3.1M1252.3 1069.1h3.1M1239.8 1072.9h6.2M1249.2 1076.6h3.1M1246 1080.4h6.2M1202.4 1084.2h34.2M1258.5 1084.2h3.1M1246 1087.9h3.1M1239.8 1091.7h6.2M1239.8 1095.4h3.1M1327.3 1095.4h3.1M1242.9 1099.2h6.2M1252.3 1103h3.1M1252.3 1110.5h3.1M1264.8 1114.2h3.1M1252.3 1118h3.1M1242.9 1121.8h3.1M1242.9 1125.5h3.1M1249.2 1129.3h6.2M1258.5 1133h3.1M1258.5 1136.8h3.1M1342.9 1136.8h3.1M1211.7 1140.6h12.5M1261.7 1140.6h3.1M1255.4 1144.3h6.2M1305.4 1144.3h3.1M1258.5 1148.1h3.1M1264.8 1151.8h6.2M1258.5 1155.6h3.1M1311.7 1155.6h3.1M1267.9 1159.4h3.1M1261.7 1163.1h6.2M1255.4 1166.9h6.2M1364.8 1166.9h6.2M1267.9 1170.6h3.1M1271 1174.4h6.2M1261.7 1178.2h6.2M1267.9 1181.9h6.2M1317.9 1181.9h12.5M1264.8 1185.7h3.1M1264.8 1189.4h6.2M1277.3 1193.2h3.1M1258.5 1197h6.2M1311.7 1197h6.2M1280.4 1200.7h3.1M1230.4 1347.4h3.1M1389.8 1433.9h6.1M1308.5 1456.4h3.1M1374.2 1509.1h9.4M1255.4 1610.6h3.1M1261.7 1610.6h3.1"/>
<path stroke="#f4dbb4" d="M1227.3 779.6h3.1M1227.3 783.3h3.1M1227.3 790.9h3.1M1233.5 794.6h3.1M1321 809.7h3.1M1214.8 817.2h3.1M1211.7 824.7h3.1M1221 832.2h3.1M1233.5 836h3.1M1236.7 839.7h3.1M1324.2 839.7h9.4M1224.2 847.3h3.1M1224.2 851h3.1M1321 854.8h9.4M1236.7 858.5h3.1M1227.3 862.3h3.1M1227.3 866.1h3.1M1230.4 869.8h3.1M1236.7 877.3h3.1M1308.5 877.3h3.1M1230.4 881.1h3.1M1221 884.9h3.1M1246 888.6h3.1M1246 892.4h3.1M1221 896.1h3.1M1239.8 899.9h3.1M1305.4 903.7h9.4M1230.4 907.4h3.1M1249.2 911.2h3.1M1249.2 918.7h3.1M1227.3 922.5h3.1M1249.2 926.2h3.1M1246 930h3.1M1305.4 930h12.5M1227.3 933.8h3.1M1242.9 937.5h3.1M1246 945h3.1M1246 952.6h3.1M1252.3 956.3h3.1M1236.7 960.1h3.1M1311.7 960.1h3.1M1249.2 967.6h3.1M1242.9 971.4h3.1M1242.9 975.1h3.1M1239.8 978.9h3.1M1249.2 982.6h3.1M1208.5 990.2h6.2M1249.2 990.2h3.1M1305.4 990.2h6.2M1249.2 1001.4h3.1M1246 1005.2h3.1M1258.5 1009h3.1M1233.5 1012.7h3.1M1236.7 1016.5h3.1M1330.4 1016.5h6.2M1239.8 1024h3.1M1255.4 1027.8h3.1M1242.9 1031.5h3.1M1246 1035.3h3.1M1242.9 1039h3.1M1314.8 1039h6.2M1255.4 1042.8h3.1M1249.2 1046.6h3.1M1255.4 1050.3h3.1M1239.8 1054.1h6.2M1249.2 1057.8h3.1M1236.7 1061.6h3.1M1264.8 1065.4h3.1M1255.4 1069.1h3.1M1246 1072.9h3.1M1252.3 1076.6h3.1M1252.3 1080.4h3.1M1261.7 1084.2h3.1M1249.2 1087.9h3.1M1246 1091.7h3.1M1242.9 1095.4h6.2M1330.4 1095.4h9.4M1249.2 1099.2h3.1M1255.4 1103h3.1M1246 1106.7h3.1M1255.4 1110.5h3.1M1267.9 1114.2h3.1M1308.5 1114.2h3.1M1255.4 1118h3.1M1246 1121.8h6.2M1246 1125.5h6.2M1255.4 1129.3h3.1M1261.7 1133h3.1M1261.7 1136.8h3.1M1264.8 1140.6h3.1M1261.7 1144.3h3.1M1308.5 1144.3h12.5M1261.7 1148.1h3.1M1271 1151.8h3.1M1261.7 1155.6h6.2M1314.8 1155.6h12.5M1271 1159.4h6.2M1267.9 1163.1h3.1M1261.7 1166.9h3.1M1271 1170.6h3.1M1277.3 1174.4h3.1M1267.9 1178.2h3.1M1274.2 1181.9h6.2M1330.4 1181.9h6.2M1267.9 1185.7h6.2M1271 1189.4h3.1M1280.4 1193.2h3.1M1264.8 1197h6.2M1317.9 1197h6.2M1283.5 1200.7h3.1M1214.8 1279.7h43.8M1330.4 1279.7h15.6M1299.2 1306h12.5M1280.4 1358.7h9.4M1346 1396.3h9.4M1280.4 1479h31.2M1358.5 1595.6h9.4"/>
<path stroke="#f3d7ad" d="M1230.4 783.3h3.1M1217.9 787.1h3.1M1224.2 798.4h3.1M1239.8 802.1h3.1M1227.3 805.9h3.1M1246 809.7h3.1M1233.5 813.4h3.1M1221 820.9h3.1M1246 828.5h3.1M1305.4 832.2h6.2M1236.7 836h3.1M1333.5 839.7h3.1M1230.4 843.5h3.1M1227.3 847.3h3.1M1227.3 851h3.1M1227.3 854.8h3.1M1230.4 862.3h3.1M1230.4 866.1h3.1M1242.9 873.6h3.1M1311.7 877.3h3.1M1233.5 881.1h3.1M1224.2 884.9h3.1M1224.2 896.1h3.1M1242.9 903.7h3.1M1314.8 903.7h9.4M1233.5 907.4h3.1M1230.4 922.5h3.1M1317.9 930h9.4M1230.4 933.8h3.1M1264.8 941.3h3.1M1249.2 945h3.1M1249.2 952.6h3.1M1308.5 952.6h9.4M1255.4 956.3h3.1M1239.8 960.1h3.1M1258.5 963.8h3.1M1252.3 967.6h3.1M1246 971.4h3.1M1242.9 978.9h3.1M1252.3 982.6h3.1M1258.5 986.4h3.1M1252.3 990.2h3.1M1311.7 990.2h9.4M1267.9 993.9h3.1M1239.8 997.7h12.5M1252.3 1001.4h3.1M1249.2 1005.2h3.1M1261.7 1009h3.1M1236.7 1012.7h3.1M1239.8 1016.5h3.1M1336.7 1016.5h12.5M1255.4 1020.2h3.1M1242.9 1024h3.1M1258.5 1027.8h3.1M1246 1031.5h3.1M1246 1039h3.1M1321 1039h9.4M1258.5 1042.8h3.1M1252.3 1046.6h3.1M1258.5 1050.3h3.1M1246 1054.1h3.1M1252.3 1057.8h3.1M1239.8 1061.6h3.1M1258.5 1069.1h3.1M1249.2 1072.9h3.1M1217.9 1076.6h12.5M1255.4 1076.6h3.1M1255.4 1080.4h3.1M1264.8 1084.2h3.1M1252.3 1087.9h3.1M1249.2 1091.7h3.1M1249.2 1095.4h6.2M1252.3 1099.2h3.1M1258.5 1103h3.1M1249.2 1106.7h3.1M1258.5 1110.5h3.1M1271 1114.2h3.1M1311.7 1114.2h9.4M1258.5 1118h3.1M1308.5 1118h6.2M1252.3 1121.8h3.1M1252.3 1125.5h3.1M1258.5 1129.3h3.1M1264.8 1133h3.1M1264.8 1136.8h3.1M1267.9 1140.6h3.1M1264.8 1144.3h3.1M1321 1144.3h9.4M1264.8 1148.1h6.2M1274.2 1151.8h3.1M1267.9 1155.6h3.1M1327.3 1155.6h12.5M1277.3 1159.4h3.1M1271 1163.1h3.1M1264.8 1166.9h6.2M1274.2 1170.6h6.2M1280.4 1174.4h3.1M1271 1178.2h6.2M1280.4 1181.9h6.2M1274.2 1185.7h3.1M1274.2 1189.4h6.2M1283.5 1193.2h3.1M1271 1197h6.2M1286.7 1200.7h3.1M1346 1279.7h31.2M1311.7 1306h21.9M1289.8 1358.7h18.8M1355.4 1396.3h25M1311.7 1479h18.8M1280.4 1539.2h15.6M1367.9 1595.6h15.6"/>
<path stroke="#f2d3a6" d="M1230.4 779.6h3.1M1305.4 783.3h3.1M1221 787.1h3.1M1230.4 790.9h3.1M1236.7 794.6h3.1M1227.3 798.4h3.1M1217.9 817.2h3.1M1308.5 817.2h3.1M1224.2 820.9h3.1M1214.8 824.7h3.1M1224.2 832.2h3.1M1311.7 832.2h6.2M1239.8 839.7h3.1M1233.5 843.5h3.1M1230.4 854.8h3.1M1239.8 858.5h3.1M1233.5 869.8h3.1M1239.8 877.3h3.1M1314.8 877.3h3.1M1236.7 881.1h3.1M1249.2 888.6h3.1M1249.2 892.4h3.1M1227.3 896.1h3.1M1242.9 899.9h3.1M1246 903.7h3.1M1324.2 903.7h9.4M1236.7 907.4h3.1M1252.3 911.2h3.1M1252.3 918.7h3.1M1305.4 922.5h3.1M1252.3 926.2h3.1M1249.2 930h3.1M1327.3 930h12.5M1233.5 933.8h3.1M1246 937.5h3.1M1252.3 945h3.1M1317.9 952.6h12.5M1242.9 960.1h3.1M1249.2 971.4h3.1M1246 975.1h3.1M1255.4 982.6h3.1M1261.7 986.4h3.1M1255.4 990.2h3.1M1321 990.2h9.4M1252.3 997.7h3.1M1252.3 1005.2h3.1M1239.8 1012.7h3.1M1242.9 1016.5h3.1M1349.2 1016.5h12.5M1258.5 1020.2h3.1M1246 1024h3.1M1261.7 1027.8h3.1M1308.5 1027.8h6.2M1249.2 1031.5h3.1M1249.2 1035.3h3.1M1249.2 1039h3.1M1330.4 1039h6.2M1255.4 1046.6h3.1M1249.2 1054.1h3.1M1255.4 1057.8h3.1M1242.9 1061.6h3.1M1267.9 1065.4h3.1M1261.7 1069.1h3.1M1252.3 1072.9h6.2M1258.5 1076.6h3.1M1258.5 1080.4h3.1M1267.9 1084.2h3.1M1255.4 1087.9h3.1M1252.3 1091.7h6.2M1255.4 1095.4h3.1M1255.4 1099.2h3.1M1261.7 1103h3.1M1252.3 1106.7h6.2M1261.7 1110.5h3.1M1274.2 1114.2h3.1M1321 1114.2h6.2M1261.7 1118h3.1M1314.8 1118h6.2M1255.4 1121.8h3.1M1255.4 1125.5h3.1M1261.7 1129.3h3.1M1374.2 1129.3h6.2M1267.9 1133h3.1M1267.9 1136.8h6.2M1271 1140.6h6.2M1267.9 1144.3h3.1M1330.4 1144.3h12.5M1271 1148.1h3.1M1308.5 1148.1h31.2M1277.3 1151.8h3.1M1271 1155.6h6.2M1339.8 1155.6h9.4M1280.4 1159.4h3.1M1274.2 1163.1h3.1M1271 1166.9h3.1M1280.4 1170.6h3.1M1283.5 1174.4h3.1M1277.3 1178.2h3.1M1286.7 1181.9h6.2M1277.3 1185.7h6.2M1280.4 1189.4h3.1M1286.7 1193.2h3.1M1277.3 1197h6.2M1289.8 1200.7h6.2M1377.3 1279.7h18.6M1333.5 1306h12.5M1308.5 1358.7h12.5M1380.4 1396.3h15.5M1296 1539.2h25M1383.5 1595.6h12.4"/>
<path stroke="#f1cd9e" d="M1233.5 783.3h3.1M1308.5 783.3h9.4M1242.9 802.1h3.1M1230.4 805.9h3.1M1236.7 813.4h3.1M1221 817.2h3.1M1217.9 824.7h3.1M1249.2 828.5h3.1M1227.3 832.2h3.1M1317.9 832.2h6.2M1239.8 836h3.1M1230.4 847.3h3.1M1230.4 851h3.1M1233.5 862.3h3.1M1233.5 866.1h3.1M1236.7 869.8h3.1M1246 873.6h3.1M1242.9 877.3h3.1M1227.3 884.9h3.1M1246 899.9h3.1M1333.5 903.7h3.1M1255.4 918.7h3.1M1233.5 922.5h3.1M1339.8 930h3.1M1236.7 933.8h3.1M1249.2 937.5h3.1M1239.8 948.8h15.6M1308.5 948.8h3.1M1252.3 952.6h3.1M1330.4 952.6h9.4M1258.5 956.3h3.1M1246 960.1h3.1M1261.7 963.8h3.1M1255.4 967.6h3.1M1249.2 975.1h3.1M1246 978.9h3.1M1330.4 990.2h6.2M1271 993.9h3.1M1255.4 1001.4h3.1M1255.4 1005.2h3.1M1264.8 1009h3.1M1242.9 1012.7h3.1M1246 1016.5h3.1M1361.7 1016.5h9.4M1224.2 1020.2h15.6M1261.7 1020.2h3.1M1314.8 1027.8h9.4M1252.3 1031.5h3.1M1252.3 1035.3h3.1M1252.3 1039h3.1M1261.7 1042.8h3.1M1258.5 1046.6h3.1M1261.7 1050.3h3.1M1252.3 1054.1h3.1M1258.5 1057.8h3.1M1246 1061.6h3.1M1271 1065.4h3.1M1258.5 1072.9h3.1M1261.7 1076.6h3.1M1302.3 1076.6h6.2M1261.7 1080.4h3.1M1271 1084.2h3.1M1258.5 1087.9h3.1M1258.5 1091.7h3.1M1258.5 1095.4h3.1M1258.5 1099.2h3.1M1264.8 1103h3.1M1258.5 1106.7h3.1M1264.8 1110.5h3.1M1277.3 1114.2h3.1M1327.3 1114.2h9.4M1264.8 1118h3.1M1321 1118h6.2M1258.5 1121.8h6.2M1258.5 1125.5h6.2M1264.8 1129.3h6.2M1380.4 1129.3h9.4M1271 1133h6.2M1274.2 1136.8h3.1M1277.3 1140.6h3.1M1271 1144.3h6.2M1274.2 1148.1h3.1M1280.4 1151.8h6.2M1277.3 1155.6h3.1M1221 1159.4h34.4M1283.5 1159.4h3.1M1277.3 1163.1h3.1M1274.2 1166.9h6.2M1283.5 1170.6h3.1M1286.7 1174.4h3.1M1280.4 1178.2h6.2M1292.9 1181.9h9.4M1283.5 1185.7h3.1M1283.5 1189.4h6.2M1289.8 1193.2h6.2M1283.5 1197h6.2M1296 1200.7h3.1M1327.3 1426.3h6.2M1321 1539.2h6.2"/>
<path stroke="#f0c895" d="M1233.5 779.6h3.1M1317.9 783.3h6.2M1224.2 787.1h3.1M1233.5 790.9h3.1M1239.8 794.6h3.1M1230.4 798.4h3.1M1249.2 809.7h3.1M1311.7 817.2h3.1M1227.3 820.9h3.1M1324.2 832.2h6.2M1242.9 839.7h3.1M1236.7 843.5h3.1M1233.5 854.8h3.1M1242.9 858.5h3.1M1236.7 862.3h3.1M1305.4 862.3h3.1M1236.7 866.1h3.1M1349.2 873.6h6.2M1239.8 881.1h3.1M1230.4 884.9h3.1M1252.3 888.6h3.1M1330.4 888.6h3.1M1252.3 892.4h3.1M1230.4 896.1h3.1M1355.4 899.9h18.8M1249.2 903.7h3.1M1239.8 907.4h3.1M1255.4 911.2h3.1M1236.7 922.5h3.1M1255.4 926.2h3.1M1252.3 930h3.1M1239.8 933.8h3.1M1267.9 941.3h3.1M1255.4 945h3.1M1255.4 948.8h3.1M1255.4 952.6h3.1M1339.8 952.6h6.2M1261.7 956.3h3.1M1258.5 967.6h3.1M1252.3 971.4h3.1M1252.3 975.1h3.1M1249.2 978.9h3.1M1258.5 982.6h3.1M1264.8 986.4h3.1M1258.5 990.2h3.1M1255.4 997.7h3.1M1258.5 1001.4h3.1M1267.9 1009h3.1M1246 1012.7h3.1M1249.2 1016.5h3.1M1264.8 1020.2h3.1M1249.2 1024h3.1M1264.8 1027.8h3.1M1324.2 1027.8h9.4M1255.4 1031.5h3.1M1255.4 1035.3h3.1M1255.4 1039h3.1M1264.8 1042.8h3.1M1261.7 1046.6h3.1M1264.8 1050.3h3.1M1255.4 1054.1h3.1M1261.7 1057.8h3.1M1249.2 1061.6h3.1M1274.2 1065.4h3.1M1305.4 1065.4h6.2M1264.8 1069.1h3.1M1261.7 1072.9h3.1M1264.8 1076.6h3.1M1308.5 1076.6h6.2M1264.8 1080.4h3.1M1274.2 1084.2h3.1M1261.7 1087.9h3.1M1261.7 1091.7h3.1M1261.7 1095.4h3.1M1324.2 1095.4h3.1M1261.7 1099.2h3.1M1267.9 1103h3.1M1261.7 1106.7h3.1M1267.9 1110.5h3.1M1280.4 1114.2h3.1M1267.9 1118h3.1M1327.3 1118h3.1M1264.8 1121.8h3.1M1264.8 1125.5h3.1M1271 1129.3h3.1M1389.8 1129.3h6.1M1277.3 1133h3.1M1277.3 1136.8h3.1M1280.4 1140.6h3.1M1277.3 1144.3h3.1M1277.3 1148.1h3.1M1286.7 1151.8h3.1M1308.5 1151.8h6.2M1280.4 1155.6h6.2M1286.7 1159.4h6.2M1280.4 1163.1h3.1M1280.4 1166.9h6.2M1286.7 1170.6h3.1M1289.8 1174.4h6.2M1286.7 1178.2h3.1M1302.3 1181.9h9.4M1286.7 1185.7h6.2M1289.8 1189.4h6.2M1296 1193.2h3.1M1289.8 1197h15.6M1299.2 1200.7h9.4M1214.8 1321.1h3.1M1333.5 1426.3h3.1M1202.4 1509.1h28"/>
<path stroke="#efc28d" d="M1324.2 783.3h9.4M1233.5 805.9h3.1M1239.8 813.4h3.1M1224.2 817.2h3.1M1221 824.7h3.1M1230.4 832.2h3.1M1233.5 847.3h3.1M1233.5 851h3.1M1308.5 862.3h3.1M1239.8 869.8h3.1M1249.2 873.6h3.1M1342.9 873.6h6.2M1246 877.3h3.1M1333.5 888.6h9.4M1233.5 896.1h3.1M1249.2 899.9h3.1M1324.2 899.9h31.2M1258.5 918.7h3.1M1258.5 926.2h3.1M1252.3 937.5h3.1M1258.5 948.8h3.1M1311.7 948.8h3.1M1249.2 960.1h3.1M1264.8 963.8h3.1M1255.4 971.4h3.1M1255.4 975.1h3.1M1261.7 982.6h3.1M1261.7 990.2h3.1M1274.2 993.9h3.1M1258.5 997.7h3.1M1258.5 1005.2h3.1M1249.2 1012.7h3.1M1252.3 1016.5h3.1M1252.3 1024h3.1M1267.9 1027.8h3.1M1333.5 1027.8h9.4M1258.5 1031.5h3.1M1258.5 1035.3h3.1M1264.8 1046.6h3.1M1267.9 1050.3h3.1M1258.5 1054.1h3.1M1252.3 1061.6h3.1M1311.7 1065.4h6.2M1267.9 1069.1h3.1M1264.8 1072.9h3.1M1314.8 1076.6h3.1M1267.9 1080.4h3.1M1277.3 1084.2h3.1M1264.8 1087.9h3.1M1264.8 1091.7h3.1M1264.8 1095.4h6.2M1321 1095.4h3.1M1264.8 1099.2h3.1M1311.7 1099.2h3.1M1271 1103h6.2M1217.9 1106.7h28.1M1264.8 1106.7h3.1M1271 1110.5h3.1M1271 1118h3.1M1267.9 1121.8h3.1M1267.9 1125.5h3.1M1274.2 1129.3h3.1M1280.4 1133h3.1M1280.4 1136.8h3.1M1283.5 1140.6h3.1M1280.4 1144.3h6.2M1280.4 1148.1h3.1M1289.8 1151.8h6.2M1314.8 1151.8h6.2M1286.7 1155.6h6.2M1292.9 1159.4h6.2M1283.5 1163.1h6.2M1286.7 1166.9h6.2M1289.8 1170.6h3.1M1296 1174.4h9.4M1308.5 1174.4h9.4M1289.8 1178.2h6.2M1292.9 1185.7h12.5M1296 1189.4h12.5M1299.2 1193.2h9.4M1217.9 1321.1h9.4M1336.7 1426.3h3.1"/>
<path stroke="#eebd84" d="M1236.7 779.6h3.1M1236.7 783.3h3.1M1333.5 783.3h9.4M1227.3 787.1h3.1M1233.5 798.4h3.1M1246 802.1h3.1M1314.8 817.2h3.1M1230.4 820.9h3.1M1252.3 828.5h3.1M1242.9 836h3.1M1246 839.7h3.1M1236.7 854.8h3.1M1246 858.5h3.1M1239.8 862.3h3.1M1311.7 862.3h3.1M1239.8 866.1h3.1M1333.5 873.6h9.4M1242.9 881.1h3.1M1233.5 884.9h3.1M1255.4 888.6h3.1M1342.9 888.6h9.4M1308.5 899.9h15.6M1242.9 907.4h3.1M1202.4 914.9h6.1M1239.8 922.5h3.1M1255.4 930h3.1M1242.9 933.8h3.1M1271 941.3h3.1M1258.5 945h3.1M1314.8 948.8h3.1M1258.5 952.6h3.1M1264.8 956.3h3.1M1252.3 960.1h3.1M1261.7 967.6h3.1M1258.5 971.4h3.1M1252.3 978.9h3.1M1267.9 986.4h3.1M1261.7 1001.4h3.1M1261.7 1005.2h3.1M1271 1009h3.1M1252.3 1012.7h3.1M1267.9 1020.2h3.1M1255.4 1024h3.1M1261.7 1031.5h3.1M1258.5 1039h3.1M1267.9 1042.8h3.1M1267.9 1046.6h3.1M1271 1050.3h3.1M1261.7 1054.1h3.1M1264.8 1057.8h3.1M1255.4 1061.6h3.1M1277.3 1065.4h3.1M1317.9 1065.4h6.2M1271 1069.1h3.1M1267.9 1072.9h3.1M1267.9 1076.6h3.1M1317.9 1076.6h6.2M1271 1080.4h6.2M1280.4 1084.2h3.1M1267.9 1087.9h3.1M1267.9 1091.7h3.1M1271 1095.4h3.1M1314.8 1095.4h6.2M1267.9 1099.2h3.1M1314.8 1099.2h3.1M1277.3 1103h3.1M1267.9 1106.7h6.2M1274.2 1110.5h3.1M1283.5 1114.2h3.1M1274.2 1118h3.1M1271 1121.8h6.2M1271 1125.5h6.2M1277.3 1129.3h6.2M1283.5 1133h3.1M1283.5 1136.8h3.1M1286.7 1140.6h3.1M1286.7 1144.3h3.1M1283.5 1148.1h6.2M1296 1151.8h9.4M1321 1151.8h6.2M1292.9 1155.6h9.4M1299.2 1159.4h9.4M1289.8 1163.1h6.2M1292.9 1166.9h15.6M1292.9 1170.6h9.4M1305.4 1174.4h3.1M1317.9 1174.4h6.2M1296 1178.2h15.6M1305.4 1185.7h3.1M1227.3 1321.1h6.2M1339.8 1426.3h3.1"/>
<path stroke="#edb77c" d="M1342.9 783.3h3.1M1236.7 790.9h3.1M1242.9 794.6h3.1M1252.3 809.7h3.1M1227.3 817.2h3.1M1224.2 824.7h3.1M1233.5 832.2h3.1M1239.8 843.5h3.1M1236.7 847.3h3.1M1236.7 851h3.1M1314.8 862.3h6.2M1242.9 869.8h3.1M1324.2 873.6h9.4M1249.2 877.3h3.1M1352.3 888.6h9.4M1255.4 892.4h3.1M1236.7 896.1h3.1M1252.3 899.9h3.1M1252.3 903.7h3.1M1258.5 911.2h3.1M1208.5 914.9h3.1M1261.7 926.2h3.1M1246 933.8h3.1M1255.4 937.5h3.1M1261.7 945h3.1M1261.7 948.8h3.1M1267.9 963.8h3.1M1258.5 975.1h3.1M1255.4 978.9h3.1M1264.8 982.6h3.1M1271 986.4h3.1M1264.8 990.2h3.1M1277.3 993.9h3.1M1261.7 997.7h3.1M1264.8 1001.4h3.1M1274.2 1009h3.1M1255.4 1016.5h3.1M1271 1020.2h3.1M1258.5 1024h3.1M1271 1027.8h3.1M1261.7 1035.3h3.1M1261.7 1039h3.1M1274.2 1050.3h3.1M1264.8 1054.1h3.1M1267.9 1057.8h3.1M1258.5 1061.6h3.1M1280.4 1065.4h3.1M1324.2 1065.4h6.2M1271 1072.9h6.2M1271 1076.6h3.1M1324.2 1076.6h3.1M1277.3 1080.4h3.1M1283.5 1084.2h3.1M1271 1087.9h3.1M1271 1091.7h3.1M1274.2 1095.4h3.1M1308.5 1095.4h6.2M1271 1099.2h3.1M1317.9 1099.2h6.2M1280.4 1103h3.1M1274.2 1106.7h3.1M1277.3 1110.5h3.1M1286.7 1114.2h3.1M1277.3 1118h3.1M1277.3 1121.8h3.1M1277.3 1125.5h3.1M1283.5 1129.3h3.1M1227.3 1133h25M1286.7 1133h6.2M1286.7 1136.8h6.2M1289.8 1140.6h3.1M1289.8 1144.3h9.4M1289.8 1148.1h6.2M1305.4 1151.8h3.1M1327.3 1151.8h6.2M1302.3 1155.6h9.4M1296 1163.1h9.4M1302.3 1170.6h6.2M1324.2 1174.4h6.2M1233.5 1321.1h9.4M1342.9 1426.3h3.1"/>
<path stroke="#ecaf70" d="M1239.8 783.3h3.1M1236.7 805.9h3.1M1242.9 813.4h3.1M1233.5 820.9h3.1M1246 836h3.1M1239.8 854.8h3.1M1249.2 858.5h3.1M1242.9 862.3h3.1M1242.9 866.1h3.1M1252.3 873.6h3.1M1321 873.6h3.1M1246 881.1h3.1M1236.7 884.9h3.1M1258.5 888.6h3.1M1361.7 888.6h3.1M1246 907.4h3.1M1211.7 914.9h6.2M1261.7 918.7h3.1M1242.9 922.5h3.1M1261.7 952.6h3.1M1255.4 960.1h3.1M1264.8 967.6h3.1M1261.7 971.4h3.1M1261.7 975.1h3.1M1267.9 982.6h3.1M1267.9 990.2h3.1M1264.8 997.7h3.1M1264.8 1005.2h3.1M1255.4 1012.7h3.1M1258.5 1016.5h3.1M1264.8 1031.5h3.1M1264.8 1035.3h3.1M1264.8 1039h3.1M1271 1042.8h3.1M1271 1046.6h3.1M1267.9 1054.1h3.1M1271 1057.8h3.1M1261.7 1061.6h3.1M1330.4 1065.4h6.2M1274.2 1069.1h3.1M1277.3 1072.9h3.1M1274.2 1076.6h3.1M1280.4 1080.4h3.1M1286.7 1084.2h6.2M1274.2 1087.9h3.1M1274.2 1091.7h6.2M1277.3 1095.4h6.2M1274.2 1099.2h3.1M1324.2 1099.2h3.1M1283.5 1103h3.1M1277.3 1106.7h3.1M1280.4 1110.5h6.2M1289.8 1114.2h6.2M1280.4 1118h3.1M1280.4 1121.8h6.2M1280.4 1125.5h6.2M1286.7 1129.3h6.2M1292.9 1133h9.4M1227.3 1136.8h18.8M1292.9 1136.8h6.2M1292.9 1140.6h6.2M1299.2 1144.3h6.2M1296 1148.1h9.4M1333.5 1151.8h6.2M1330.4 1174.4h9.4M1242.9 1321.1h6.2M1346 1426.3h3.1"/>
<path stroke="#eca664" d="M1239.8 779.6h3.1M1230.4 787.1h3.1M1239.8 790.9h3.1M1236.7 798.4h3.1M1249.2 802.1h3.1M1230.4 817.2h3.1M1227.3 824.7h3.1M1255.4 828.5h3.1M1236.7 832.2h3.1M1249.2 839.7h3.1M1242.9 843.5h3.1M1239.8 847.3h3.1M1239.8 851h3.1M1246 869.8h3.1M1239.8 896.1h3.1M1255.4 899.9h3.1M1255.4 903.7h3.1M1261.7 911.2h3.1M1217.9 914.9h3.1M1264.8 926.2h3.1M1258.5 930h3.1M1249.2 933.8h3.1M1258.5 937.5h3.1M1274.2 941.3h3.1M1264.8 945h3.1M1264.8 948.8h3.1M1267.9 956.3h3.1M1258.5 960.1h3.1M1271 963.8h3.1M1258.5 978.9h3.1M1274.2 986.4h3.1M1280.4 993.9h3.1M1267.9 1001.4h3.1M1267.9 1005.2h3.1M1277.3 1009h3.1M1258.5 1012.7h3.1M1261.7 1016.5h3.1M1274.2 1020.2h3.1M1261.7 1024h3.1M1274.2 1027.8h3.1M1267.9 1031.5h3.1M1267.9 1035.3h3.1M1274.2 1046.6h3.1M1277.3 1050.3h3.1M1271 1054.1h6.2M1274.2 1057.8h3.1M1264.8 1061.6h3.1M1283.5 1065.4h3.1M1277.3 1069.1h3.1M1280.4 1072.9h3.1M1277.3 1076.6h3.1M1283.5 1080.4h3.1M1292.9 1084.2h3.1M1277.3 1087.9h3.1M1280.4 1091.7h3.1M1283.5 1095.4h3.1M1277.3 1099.2h3.1M1327.3 1099.2h3.1M1286.7 1103h3.1M1280.4 1106.7h6.2M1286.7 1110.5h3.1M1296 1114.2h3.1M1283.5 1118h3.1M1286.7 1121.8h6.2M1286.7 1125.5h6.2M1292.9 1129.3h12.5M1302.3 1133h6.2M1299.2 1136.8h9.4M1299.2 1140.6h9.4M1339.8 1151.8h3.1M1339.8 1174.4h6.2M1249.2 1321.1h9.4M1224.2 1403.8h3.1M1349.2 1426.3h6.2"/>
<path stroke="#eb9e58" d="M1246 794.6h3.1M1255.4 809.7h3.1M1242.9 854.8h3.1M1246 866.1h3.1M1255.4 873.6h3.1M1252.3 877.3h3.1M1249.2 881.1h3.1M1239.8 884.9h3.1M1258.5 892.4h3.1M1242.9 896.1h3.1M1249.2 907.4h3.1M1221 914.9h6.2M1264.8 918.7h3.1M1246 922.5h3.1M1308.5 922.5h3.1M1264.8 952.6h3.1M1267.9 967.6h3.1M1264.8 971.4h3.1M1264.8 975.1h3.1M1271 982.6h3.1M1271 990.2h3.1M1267.9 997.7h3.1M1280.4 1009h3.1M1261.7 1012.7h3.1M1264.8 1016.5h3.1M1277.3 1020.2h3.1M1264.8 1024h3.1M1271 1031.5h3.1M1267.9 1039h3.1M1274.2 1042.8h3.1M1277.3 1046.6h3.1M1280.4 1050.3h3.1M1277.3 1054.1h3.1M1277.3 1057.8h3.1M1267.9 1061.6h3.1M1286.7 1065.4h3.1M1283.5 1072.9h6.2M1280.4 1076.6h3.1M1286.7 1080.4h6.2M1296 1084.2h12.5M1280.4 1087.9h3.1M1283.5 1091.7h6.2M1286.7 1095.4h9.4M1280.4 1099.2h3.1M1289.8 1103h6.2M1286.7 1106.7h6.2M1289.8 1110.5h3.1M1299.2 1114.2h9.4M1286.7 1118h6.2M1292.9 1121.8h9.4M1292.9 1125.5h9.4M1258.5 1321.1h3.1M1227.3 1403.8h6.2M1355.4 1426.3h3.1"/>
<path stroke="#eb954c" d="M1242.9 783.3h3.1M1233.5 787.1h3.1M1239.8 798.4h3.1M1239.8 805.9h3.1M1246 813.4h3.1M1236.7 820.9h3.1M1230.4 824.7h3.1M1249.2 836h3.1M1242.9 847.3h3.1M1252.3 858.5h3.1M1246 862.3h3.1M1249.2 869.8h3.1M1261.7 888.6h3.1M1258.5 899.9h3.1M1227.3 914.9h3.1M1311.7 922.5h6.2M1261.7 930h3.1M1252.3 933.8h3.1M1267.9 945h3.1M1267.9 948.8h3.1M1271 956.3h3.1M1261.7 960.1h3.1M1267.9 971.4h3.1M1267.9 975.1h3.1M1261.7 978.9h3.1M1274.2 982.6h3.1M1277.3 986.4h3.1M1283.5 993.9h3.1M1271 997.7h3.1M1271 1001.4h3.1M1271 1005.2h3.1M1267.9 1016.5h3.1M1267.9 1024h3.1M1277.3 1027.8h3.1M1274.2 1031.5h3.1M1271 1035.3h3.1M1271 1039h3.1M1280.4 1046.6h3.1M1283.5 1050.3h3.1M1280.4 1054.1h3.1M1289.8 1065.4h3.1M1280.4 1069.1h3.1M1289.8 1072.9h6.2M1283.5 1076.6h3.1M1292.9 1080.4h6.2M1283.5 1087.9h6.2M1289.8 1091.7h6.2M1296 1095.4h12.5M1283.5 1099.2h6.2M1296 1103h12.5M1292.9 1106.7h12.5M1292.9 1110.5h6.2M1292.9 1118h6.2M1302.3 1121.8h6.2M1302.3 1125.5h6.2M1233.5 1403.8h3.1M1358.5 1426.3h3.1"/>
<path stroke="#ea8d40" d="M1242.9 779.6h3.1M1242.9 790.9h3.1M1252.3 802.1h3.1M1233.5 817.2h3.1M1239.8 832.2h3.1M1252.3 839.7h3.1M1246 843.5h3.1M1242.9 851h3.1M1255.4 877.3h3.1M1252.3 881.1h3.1M1242.9 884.9h3.1M1246 896.1h3.1M1258.5 903.7h3.1M1252.3 907.4h3.1M1264.8 911.2h3.1M1230.4 914.9h6.2M1267.9 918.7h3.1M1249.2 922.5h3.1M1317.9 922.5h6.2M1267.9 926.2h3.1M1255.4 933.8h3.1M1261.7 937.5h3.1M1277.3 941.3h3.1M1267.9 952.6h3.1M1274.2 963.8h3.1M1271 967.6h3.1M1264.8 978.9h3.1M1274.2 990.2h3.1M1274.2 1005.2h3.1M1283.5 1009h3.1M1264.8 1012.7h3.1M1271 1016.5h3.1M1280.4 1020.2h3.1M1271 1024h3.1M1280.4 1027.8h3.1M1277.3 1031.5h3.1M1274.2 1035.3h3.1M1274.2 1039h3.1M1277.3 1042.8h3.1M1283.5 1046.6h3.1M1286.7 1050.3h3.1M1283.5 1054.1h6.2M1280.4 1057.8h3.1M1271 1061.6h3.1M1292.9 1065.4h3.1M1283.5 1069.1h3.1M1296 1072.9h12.5M1286.7 1076.6h3.1M1299.2 1080.4h9.4M1289.8 1087.9h3.1M1296 1091.7h12.5M1289.8 1099.2h3.1M1305.4 1106.7h3.1M1299.2 1110.5h9.4M1299.2 1118h9.4M1202.4 1204.5h12.4M1202.4 1306h18.6M1202.4 1362.4h6.1M1236.7 1403.8h3.1M1361.7 1426.3h3.1"/>
<path stroke="#e9863a" d="M1249.2 794.6h3.1M1308.5 813.4h3.1M1233.5 824.7h3.1M1258.5 828.5h3.1M1246 854.8h3.1M1255.4 858.5h3.1M1249.2 862.3h3.1M1249.2 866.1h3.1M1258.5 873.6h3.1M1261.7 892.4h3.1M1236.7 914.9h3.1M1324.2 922.5h6.2M1271 948.8h3.1M1274.2 956.3h3.1M1264.8 960.1h3.1M1271 971.4h3.1M1271 975.1h3.1M1277.3 982.6h3.1M1280.4 986.4h3.1M1277.3 990.2h3.1M1286.7 993.9h3.1M1274.2 997.7h3.1M1274.2 1001.4h3.1M1286.7 1009h3.1M1267.9 1012.7h3.1M1283.5 1020.2h3.1M1286.7 1046.6h3.1M1289.8 1050.3h3.1M1289.8 1054.1h3.1M1283.5 1057.8h3.1M1274.2 1061.6h3.1M1296 1065.4h6.2M1286.7 1069.1h3.1M1289.8 1076.6h3.1M1292.9 1087.9h6.2M1292.9 1099.2h6.2M1221 1306h31.2M1208.5 1362.4h3.1M1239.8 1403.8h3.1M1364.8 1426.3h3.1"/>
<path stroke="#e88035" d="M1246 783.3h3.1M1236.7 787.1h3.1M1242.9 798.4h3.1M1242.9 805.9h3.1M1258.5 809.7h3.1M1249.2 813.4h3.1M1311.7 813.4h3.1M1236.7 817.2h3.1M1239.8 820.9h3.1M1252.3 836h3.1M1246 847.3h3.1M1246 851h3.1M1252.3 869.8h3.1M1255.4 881.1h3.1M1264.8 888.6h3.1M1261.7 899.9h3.1M1261.7 903.7h3.1M1255.4 907.4h3.1M1239.8 914.9h6.2M1252.3 922.5h3.1M1330.4 922.5h6.2M1271 926.2h3.1M1264.8 930h3.1M1258.5 933.8h3.1M1264.8 937.5h3.1M1271 945h3.1M1271 952.6h3.1M1267.9 960.1h3.1M1277.3 963.8h3.1M1274.2 967.6h3.1M1274.2 975.1h3.1M1267.9 978.9h3.1M1280.4 982.6h3.1M1277.3 1001.4h3.1M1277.3 1005.2h3.1M1271 1012.7h3.1M1274.2 1016.5h3.1M1286.7 1020.2h3.1M1274.2 1024h3.1M1283.5 1027.8h3.1M1280.4 1031.5h3.1M1277.3 1035.3h3.1M1277.3 1039h3.1M1280.4 1042.8h3.1M1289.8 1046.6h3.1M1292.9 1050.3h6.2M1292.9 1054.1h15.6M1286.7 1057.8h3.1M1277.3 1061.6h3.1M1302.3 1065.4h3.1M1289.8 1069.1h3.1M1292.9 1076.6h9.4M1299.2 1087.9h9.4M1299.2 1099.2h12.5M1252.3 1306h15.6M1211.7 1362.4h3.1M1242.9 1403.8h3.1M1367.9 1426.3h3.1"/>
<path stroke="#e8792f" d="M1314.8 813.4h3.1M1242.9 832.2h3.1M1255.4 839.7h3.1M1249.2 843.5h3.1M1249.2 854.8h3.1M1252.3 866.1h3.1M1258.5 877.3h3.1M1246 884.9h3.1M1249.2 896.1h3.1M1267.9 911.2h3.1M1246 914.9h3.1M1271 918.7h3.1M1336.7 922.5h9.4M1274.2 948.8h3.1M1277.3 956.3h3.1M1274.2 971.4h3.1M1277.3 975.1h3.1M1283.5 982.6h3.1M1283.5 986.4h3.1M1280.4 990.2h3.1M1289.8 993.9h3.1M1277.3 997.7h3.1M1280.4 1005.2h3.1M1289.8 1009h3.1M1274.2 1012.7h3.1M1277.3 1016.5h3.1M1289.8 1020.2h3.1M1277.3 1024h3.1M1283.5 1031.5h6.2M1280.4 1035.3h3.1M1280.4 1039h3.1M1292.9 1046.6h3.1M1299.2 1050.3h9.4M1289.8 1057.8h3.1M1280.4 1061.6h3.1M1292.9 1069.1h3.1M1214.8 1362.4h3.1M1246 1403.8h3.1M1371 1426.3h6.2"/>
<path stroke="#e7732a" d="M1246 779.6h3.1M1246 790.9h3.1M1252.3 794.6h3.1M1255.4 802.1h3.1M1317.9 813.4h3.1M1236.7 824.7h3.1M1258.5 858.5h3.1M1252.3 862.3h3.1M1255.4 869.8h3.1M1258.5 881.1h3.1M1267.9 888.6h3.1M1264.8 892.4h3.1M1264.8 899.9h3.1M1249.2 914.9h6.2M1255.4 922.5h3.1M1346 922.5h6.2M1274.2 926.2h3.1M1261.7 933.8h3.1M1267.9 937.5h3.1M1280.4 941.3h3.1M1274.2 945h3.1M1274.2 952.6h3.1M1271 960.1h3.1M1277.3 967.6h3.1M1277.3 971.4h3.1M1271 978.9h3.1M1286.7 982.6h3.1M1283.5 990.2h3.1M1280.4 997.7h3.1M1280.4 1001.4h3.1M1292.9 1009h3.1M1280.4 1016.5h6.2M1292.9 1020.2h3.1M1280.4 1024h3.1M1286.7 1027.8h3.1M1289.8 1031.5h3.1M1283.5 1035.3h3.1M1283.5 1039h3.1M1283.5 1042.8h3.1M1296 1046.6h9.4M1292.9 1057.8h6.2M1283.5 1061.6h6.2M1296 1069.1h3.1M1217.9 1362.4h6.2M1249.2 1403.8h6.2M1377.3 1426.3h3.1"/>
<path stroke="#e66c24" d="M1246 798.4h3.1M1321 813.4h3.1M1239.8 817.2h3.1M1242.9 820.9h3.1M1261.7 828.5h3.1M1246 832.2h3.1M1249.2 847.3h3.1M1249.2 851h3.1M1261.7 873.6h3.1M1249.2 884.9h3.1M1252.3 896.1h3.1M1264.8 903.7h3.1M1258.5 907.4h3.1M1274.2 918.7h3.1M1352.3 922.5h6.2M1267.9 930h3.1M1277.3 948.8h3.1M1274.2 960.1h3.1M1280.4 963.8h3.1M1280.4 967.6h3.1M1280.4 975.1h3.1M1286.7 986.4h3.1M1286.7 990.2h3.1M1292.9 993.9h3.1M1283.5 997.7h3.1M1283.5 1001.4h3.1M1283.5 1005.2h3.1M1296 1009h6.2M1277.3 1012.7h3.1M1286.7 1016.5h3.1M1296 1020.2h3.1M1283.5 1024h3.1M1289.8 1027.8h3.1M1292.9 1031.5h3.1M1286.7 1035.3h3.1M1286.7 1039h3.1M1305.4 1046.6h3.1M1299.2 1057.8h9.4M1289.8 1061.6h3.1M1299.2 1069.1h9.4M1224.2 1362.4h3.1M1255.4 1403.8h3.1M1380.4 1426.3h3.1"/>
<path stroke="#e26623" d="M1249.2 783.3h3.1M1239.8 787.1h3.1M1246 805.9h3.1M1261.7 809.7h3.1M1252.3 813.4h3.1M1324.2 813.4h3.1M1255.4 836h3.1M1258.5 839.7h3.1M1252.3 843.5h3.1M1252.3 854.8h3.1M1255.4 866.1h3.1M1261.7 877.3h3.1M1255.4 914.9h3.1M1258.5 922.5h3.1M1358.5 922.5h3.1M1264.8 933.8h3.1M1277.3 945h3.1M1280.4 948.8h3.1M1277.3 952.6h3.1M1280.4 956.3h3.1M1280.4 971.4h3.1M1283.5 975.1h3.1M1274.2 978.9h3.1M1289.8 982.6h3.1M1289.8 986.4h3.1M1296 993.9h3.1M1286.7 1005.2h3.1M1302.3 1009h6.2M1280.4 1012.7h3.1M1289.8 1016.5h6.2M1299.2 1020.2h9.4M1286.7 1024h3.1M1292.9 1027.8h3.1M1296 1031.5h12.5M1289.8 1035.3h3.1M1289.8 1039h3.1M1286.7 1042.8h3.1M1292.9 1061.6h12.5M1227.3 1362.4h3.1M1258.5 1403.8h3.1"/>
<path stroke="#de6022" d="M1249.2 790.9h3.1M1327.3 813.4h3.1M1239.8 824.7h3.1M1255.4 862.3h3.1M1258.5 869.8h3.1M1261.7 881.1h3.1M1271 888.6h3.1M1267.9 892.4h3.1M1255.4 896.1h3.1M1267.9 899.9h3.1M1261.7 907.4h3.1M1271 911.2h3.1M1277.3 926.2h3.1M1271 937.5h3.1M1283.5 941.3h3.1M1277.3 960.1h3.1M1283.5 963.8h3.1M1283.5 967.6h3.1M1283.5 971.4h3.1M1286.7 975.1h3.1M1277.3 978.9h3.1M1292.9 982.6h6.2M1289.8 990.2h3.1M1286.7 997.7h3.1M1286.7 1001.4h3.1M1289.8 1005.2h3.1M1283.5 1012.7h3.1M1296 1016.5h9.4M1289.8 1024h6.2M1296 1027.8h3.1M1292.9 1035.3h3.1M1292.9 1039h6.2M1289.8 1042.8h3.1M1230.4 1362.4h3.1M1261.7 1403.8h3.1"/>
<path stroke="#da5a20" d="M1249.2 779.6h3.1M1255.4 794.6h3.1M1249.2 798.4h3.1M1258.5 802.1h3.1M1330.4 813.4h3.1M1242.9 817.2h3.1M1246 820.9h3.1M1249.2 832.2h3.1M1252.3 847.3h3.1M1252.3 851h3.1M1261.7 858.5h3.1M1264.8 873.6h3.1M1252.3 884.9h3.1M1267.9 903.7h3.1M1258.5 914.9h3.1M1277.3 918.7h3.1M1261.7 922.5h3.1M1271 930h3.1M1267.9 933.8h3.1M1280.4 945h3.1M1283.5 948.8h3.1M1280.4 952.6h3.1M1283.5 956.3h3.1M1280.4 960.1h3.1M1289.8 975.1h3.1M1299.2 982.6h9.4M1292.9 986.4h3.1M1292.9 990.2h6.2M1299.2 993.9h6.2M1289.8 997.7h3.1M1289.8 1001.4h3.1M1292.9 1005.2h3.1M1286.7 1012.7h6.2M1305.4 1016.5h3.1M1296 1024h9.4M1299.2 1027.8h6.2M1296 1035.3h9.4M1299.2 1039h9.4M1233.5 1362.4h6.2M1264.8 1403.8h3.1"/>
<path stroke="#d6541f" d="M1242.9 787.1h3.1M1255.4 813.4h3.1M1333.5 813.4h3.1M1242.9 824.7h3.1M1261.7 839.7h3.1M1255.4 843.5h3.1M1255.4 854.8h3.1M1258.5 862.3h3.1M1258.5 866.1h3.1M1264.8 877.3h3.1M1264.8 881.1h3.1M1264.8 907.4h3.1M1280.4 926.2h3.1M1271 933.8h3.1M1274.2 937.5h3.1M1286.7 963.8h3.1M1286.7 967.6h3.1M1286.7 971.4h3.1M1292.9 975.1h6.2M1280.4 978.9h3.1M1296 986.4h3.1M1299.2 990.2h6.2M1305.4 993.9h3.1M1292.9 997.7h6.2M1292.9 1001.4h3.1M1296 1005.2h6.2M1292.9 1012.7h3.1M1305.4 1027.8h3.1M1305.4 1035.3h3.1M1292.9 1042.8h3.1M1239.8 1362.4h3.1M1267.9 1403.8h3.1"/>
<path stroke="#d24e1e" d="M1252.3 783.3h3.1M1249.2 805.9h3.1M1264.8 809.7h3.1M1336.7 813.4h3.1M1264.8 828.5h3.1M1258.5 836h3.1M1261.7 869.8h3.1M1255.4 884.9h3.1M1274.2 888.6h3.1M1258.5 896.1h3.1M1271 899.9h3.1M1274.2 911.2h3.1M1261.7 914.9h3.1M1286.7 941.3h3.1M1283.5 945h3.1M1286.7 948.8h3.1M1283.5 952.6h3.1M1286.7 956.3h3.1M1283.5 960.1h3.1M1289.8 971.4h3.1M1299.2 975.1h9.4M1283.5 978.9h3.1M1299.2 986.4h6.2M1299.2 997.7h6.2M1296 1001.4h6.2M1302.3 1005.2h6.2M1296 1012.7h9.4M1296 1042.8h3.1M1242.9 1362.4h3.1M1271 1403.8h6.2"/>
<path stroke="#ca4a1d" d="M1252.3 790.9h3.1M1339.8 813.4h3.1M1246 817.2h3.1M1249.2 820.9h3.1M1255.4 847.3h3.1M1255.4 851h3.1M1264.8 858.5h3.1M1261.7 866.1h3.1M1267.9 881.1h3.1M1271 892.4h3.1M1280.4 918.7h3.1M1264.8 922.5h3.1M1283.5 926.2h3.1M1274.2 933.8h3.1M1289.8 948.8h3.1M1286.7 952.6h3.1M1286.7 960.1h3.1M1289.8 967.6h3.1M1292.9 971.4h3.1M1286.7 978.9h3.1M1302.3 1001.4h3.1M1299.2 1042.8h9.4M1246 1362.4h3.1M1277.3 1403.8h3.1"/>
<path stroke="#c1461c" d="M1258.5 794.6h3.1M1252.3 798.4h3.1M1261.7 802.1h3.1M1342.9 813.4h3.1M1246 824.7h3.1M1252.3 832.2h3.1M1258.5 854.8h3.1M1261.7 862.3h3.1M1267.9 873.6h3.1M1267.9 877.3h3.1M1261.7 896.1h3.1M1274.2 899.9h3.1M1271 903.7h3.1M1267.9 907.4h3.1M1264.8 914.9h3.1M1274.2 930h3.1M1277.3 937.5h3.1M1286.7 945h3.1M1292.9 948.8h3.1M1289.8 956.3h3.1M1289.8 960.1h3.1M1289.8 963.8h3.1M1292.9 967.6h3.1M1296 971.4h3.1M1289.8 978.9h3.1M1249.2 1362.4h6.2M1280.4 1403.8h3.1"/>
<path stroke="#b9411c" d="M1252.3 779.6h3.1M1246 787.1h3.1M1346 813.4h3.1M1264.8 839.7h3.1M1258.5 843.5h3.1M1264.8 869.8h3.1M1258.5 884.9h3.1M1277.3 888.6h3.1M1283.5 918.7h3.1M1267.9 922.5h3.1M1286.7 926.2h3.1M1277.3 933.8h3.1M1289.8 941.3h3.1M1289.8 945h3.1M1296 948.8h3.1M1289.8 952.6h3.1M1292.9 956.3h3.1M1292.9 960.1h3.1M1296 967.6h3.1M1299.2 971.4h9.4M1292.9 978.9h3.1M1255.4 1362.4h3.1M1283.5 1403.8h3.1"/>
<path stroke="#b03d1b" d="M1255.4 783.3h3.1M1258.5 813.4h3.1M1349.2 813.4h3.1M1249.2 817.2h3.1M1261.7 836h3.1M1258.5 847.3h3.1M1258.5 851h3.1M1267.9 858.5h3.1M1264.8 866.1h3.1M1271 881.1h3.1M1274.2 892.4h3.1M1271 907.4h3.1M1277.3 911.2h3.1M1267.9 914.9h3.1M1280.4 933.8h3.1M1280.4 937.5h3.1M1299.2 948.8h3.1M1292.9 952.6h3.1M1296 960.1h6.2M1292.9 963.8h3.1M1299.2 967.6h3.1M1296 978.9h6.2M1258.5 1362.4h3.1M1286.7 1403.8h3.1"/>
<path stroke="#a8391a" d="M1255.4 790.9h3.1M1252.3 805.9h3.1M1267.9 809.7h3.1M1352.3 813.4h3.1M1252.3 820.9h3.1M1249.2 824.7h3.1M1267.9 828.5h3.1M1255.4 832.2h3.1M1261.7 854.8h3.1M1264.8 862.3h3.1M1271 873.6h3.1M1271 877.3h3.1M1264.8 896.1h3.1M1277.3 899.9h3.1M1274.2 903.7h3.1M1286.7 918.7h3.1M1271 922.5h3.1M1289.8 926.2h3.1M1277.3 930h3.1M1292.9 945h3.1M1302.3 948.8h6.2M1296 952.6h3.1M1296 956.3h3.1M1302.3 960.1h6.2M1296 963.8h3.1M1302.3 967.6h6.2M1302.3 978.9h3.1M1261.7 1362.4h3.1M1289.8 1403.8h3.1"/>
<path stroke="#a03618" d="M1255.4 798.4h3.1M1202.4 805.9h15.5M1355.4 813.4h3.1M1261.7 843.5h3.1M1267.9 869.8h3.1M1308.5 869.8h12.5M1274.2 881.1h3.1M1261.7 884.9h3.1M1280.4 888.6h3.1M1271 914.9h3.1M1292.9 926.2h3.1M1283.5 933.8h3.1M1292.9 941.3h3.1M1296 945h3.1M1299.2 952.6h3.1M1299.2 956.3h3.1M1264.8 1362.4h6.2M1292.9 1403.8h6.2"/>
<path stroke="#983317" d="M1249.2 787.1h3.1M1261.7 794.6h3.1M1264.8 802.1h3.1M1358.5 813.4h3.1M1267.9 839.7h3.1M1261.7 847.3h3.1M1267.9 866.1h3.1M1267.9 896.1h3.1M1280.4 899.9h3.1M1274.2 907.4h3.1M1280.4 911.2h3.1M1274.2 922.5h3.1M1286.7 933.8h3.1M1283.5 937.5h3.1M1299.2 945h3.1M1302.3 952.6h6.2M1302.3 956.3h6.2M1299.2 963.8h3.1M1271 1362.4h3.1M1299.2 1403.8h3.1"/>
<path stroke="#8f3015" d="M1255.4 779.6h3.1M1258.5 783.3h3.1M1261.7 813.4h3.1M1252.3 817.2h3.1M1258.5 832.2h3.1M1264.8 836h3.1M1261.7 851h3.1M1264.8 854.8h3.1M1271 858.5h3.1M1277.3 881.1h3.1M1277.3 892.4h3.1M1277.3 903.7h3.1M1274.2 914.9h3.1M1289.8 918.7h3.1M1296 926.2h3.1M1280.4 930h3.1M1289.8 933.8h3.1M1296 941.3h3.1M1302.3 945h6.2M1302.3 963.8h6.2M1274.2 1362.4h3.1M1302.3 1403.8h3.1"/>
<path stroke="#872d14" d="M1255.4 805.9h3.1M1255.4 820.9h3.1M1252.3 824.7h3.1M1267.9 862.3h3.1M1271 869.8h3.1M1274.2 873.6h3.1M1274.2 877.3h3.1M1264.8 884.9h3.1M1283.5 888.6h3.1M1283.5 899.9h3.1M1277.3 907.4h3.1M1292.9 918.7h3.1M1277.3 922.5h3.1M1299.2 926.2h6.2M1292.9 933.8h3.1M1286.7 937.5h3.1M1305.4 1403.8h3.1"/>
<path stroke="#7f2a12" d="M1258.5 779.6h46.9M1261.7 783.3h43.8M1252.3 787.1h53.1M1258.5 790.9h46.9M1264.8 794.6h43.8M1258.5 798.4h53.1M1267.9 802.1h37.5M1258.5 805.9h46.9M1271 809.7h37.5M1264.8 813.4h40.6M1255.4 817.2h53.1M1258.5 820.9h43.8M1255.4 824.7h50M1271 828.5h34.4M1261.7 832.2h43.8M1267.9 836h40.6M1271 839.7h37.5M1264.8 843.5h43.8M1264.8 847.3h40.6M1264.8 851h40.6M1267.9 854.8h37.5M1274.2 858.5h34.4M1271 862.3h34.4M1271 866.1h37.5M1274.2 869.8h34.4M1277.3 873.6h28.1M1277.3 877.3h31.2M1280.4 881.1h28.1M1267.9 884.9h37.5M1286.7 888.6h21.9M1280.4 892.4h25M1271 896.1h40.6M1286.7 899.9h18.8M1280.4 903.7h25M1280.4 907.4h21.9M1283.5 911.2h28.1M1277.3 914.9h31.2M1296 918.7h12.5M1280.4 922.5h25M1305.4 926.2h3.1M1283.5 930h21.9M1296 933.8h9.4M1289.8 937.5h18.8M1299.2 941.3h9.4"/>
</g></g>
<rect x="1205.4" y="777.7" width="187.5" height="842.3" fill="none" stroke="#000" stroke-width="1.6"/>
<path d="M1205.4 1620v10M1299.2 1620v10M1392.9 1620v10" stroke="#000" stroke-width="1.6" fill="none"/>
<defs><clipPath id="clp"><rect x="1432.4" y="777.7" width="187.3" height="842.3"/></clipPath><filter id="blp" x="-5%" y="-1%" width="110%" height="102%"><feGaussianBlur stdDeviation="1.6 0"/></filter></defs>
<g clip-path="url(#clp)"><g filter="url(#blp)" stroke-width="4" fill="none">
<rect x="1426.4" y="775.7" width="199.3" height="846.3" fill="#f6f5fb"/>
<path stroke="#f9f8fc" d="M1429.4 779.6h6.1M1441.8 779.6h3.1M1448 779.6h15.6M1466.7 779.6h3.1M1473 779.6h9.4M1488.6 779.6h9.4M1507.3 779.6h3.1M1576 779.6h6.2M1591.6 779.6h6.2M1601 779.6h6.2M1610.3 779.6h6.2M1516.7 783.3h6.2M1529.2 783.3h3.1M1535.4 783.3h3.1M1551 783.3h3.1M1563.5 783.3h6.2M1572.9 783.3h3.1M1579.1 783.3h6.2M1591.6 783.3h3.1M1601 783.3h6.2M1610.3 783.3h12.4M1444.9 787.1h3.1M1466.7 787.1h18.7M1488.6 787.1h3.1M1498 787.1h6.2M1513.6 787.1h9.4M1526.1 790.9h6.2M1538.5 790.9h3.1M1544.8 790.9h3.1M1551 790.9h3.1M1563.5 790.9h6.2M1429.4 794.6h6.1M1438.6 794.6h12.5M1457.4 794.6h3.1M1463.6 794.6h6.2M1522.9 794.6h3.1M1529.2 794.6h6.2M1538.5 794.6h3.1M1544.8 794.6h6.2M1554.1 794.6h9.4M1566.6 794.6h15.6M1585.4 794.6h3.1M1594.7 794.6h6.2M1604.1 794.6h3.1M1448 798.4h3.1M1466.7 798.4h9.4M1479.2 798.4h3.1M1485.5 798.4h3.1M1491.7 798.4h3.1M1498 798.4h34.3M1535.4 798.4h3.1M1585.4 798.4h3.1M1597.8 798.4h3.1M1604.1 798.4h3.1M1610.3 798.4h6.2M1441.8 802.1h6.2M1463.6 802.1h3.1M1469.9 802.1h9.4M1482.3 802.1h3.1M1488.6 802.1h3.1M1498 802.1h12.5M1513.6 802.1h12.5M1538.5 802.1h6.2M1563.5 802.1h3.1M1429.4 805.9h6.1M1441.8 805.9h3.1M1448 805.9h3.1M1610.3 805.9h6.2M1513.6 809.7h3.1M1526.1 809.7h6.2M1535.4 809.7h6.2M1544.8 809.7h3.1M1560.4 809.7h9.4M1429.4 813.4h18.6M1451.1 813.4h9.4M1463.6 813.4h12.5M1479.2 813.4h34.3M1519.8 813.4h3.1M1532.3 813.4h6.2M1544.8 813.4h12.5M1560.4 813.4h15.6M1579.1 813.4h6.2M1588.5 813.4h6.2M1597.8 813.4h24.9M1429.4 817.2h34.2M1466.7 817.2h3.1M1473 817.2h6.2M1498 817.2h3.1M1441.8 820.9h6.2M1454.3 820.9h3.1M1460.5 820.9h6.2M1479.2 820.9h6.2M1435.5 824.7h15.6M1454.3 824.7h12.5M1469.9 824.7h34.3M1507.3 824.7h40.6M1551 824.7h25M1579.1 824.7h6.2M1588.5 824.7h18.7M1610.3 824.7h12.4M1435.5 828.5h3.1M1441.8 828.5h28.1M1473 828.5h3.1M1479.2 828.5h12.5M1498 828.5h37.5M1538.5 828.5h3.1M1429.4 832.2h6.1M1438.6 832.2h12.5M1457.4 832.2h3.1M1463.6 832.2h6.2M1473 832.2h3.1M1482.3 832.2h3.1M1566.6 832.2h3.1M1585.4 832.2h3.1M1610.3 832.2h12.4M1604.1 836h6.2M1429.4 839.7h34.2M1466.7 839.7h18.7M1491.7 839.7h6.2M1501.1 839.7h3.1M1507.3 839.7h3.1M1526.1 839.7h3.1M1538.5 839.7h3.1M1544.8 839.7h3.1M1557.3 839.7h9.4M1569.8 839.7h6.2M1579.1 839.7h3.1M1585.4 839.7h6.2M1597.8 839.7h3.1M1607.2 839.7h9.4M1494.8 843.5h3.1M1501.1 843.5h28.1M1535.4 843.5h3.1M1588.5 843.5h3.1M1594.7 843.5h3.1M1607.2 843.5h3.1M1616.6 843.5h6.1M1429.4 847.3h9.2M1441.8 847.3h18.7M1463.6 847.3h3.1M1469.9 847.3h6.2M1479.2 847.3h3.1M1491.7 847.3h12.5M1429.4 851h12.4M1448 851h3.1M1547.9 851h3.1M1554.1 851h3.1M1560.4 851h3.1M1566.6 851h3.1M1572.9 851h9.4M1585.4 851h3.1M1591.6 851h6.2M1607.2 851h9.4M1435.5 854.8h18.7M1457.4 854.8h3.1M1463.6 854.8h18.7M1485.5 854.8h9.4M1498 854.8h6.2M1510.4 854.8h3.1M1516.7 854.8h6.2M1538.5 854.8h3.1M1429.4 858.5h6.1M1444.9 858.5h3.1M1522.9 858.5h6.2M1535.4 858.5h3.1M1551 858.5h3.1M1557.3 858.5h9.4M1572.9 858.5h6.2M1585.4 858.5h3.1M1435.5 862.3h31.2M1469.9 862.3h3.1M1479.2 862.3h3.1M1485.5 862.3h3.1M1491.7 862.3h3.1M1498 862.3h3.1M1504.2 862.3h6.2M1519.8 862.3h65.6M1591.6 862.3h9.4M1604.1 862.3h18.6M1438.6 866.1h3.1M1444.9 866.1h6.2M1463.6 866.1h6.2M1473 866.1h3.1M1482.3 866.1h3.1M1563.5 866.1h3.1M1569.8 866.1h6.2M1582.2 866.1h3.1M1591.6 866.1h6.2M1601 866.1h12.5M1616.6 866.1h6.1M1429.4 869.8h18.6M1454.3 869.8h3.1M1466.7 869.8h3.1M1473 869.8h3.1M1479.2 869.8h3.1M1488.6 869.8h3.1M1494.8 869.8h9.4M1510.4 869.8h6.2M1604.1 869.8h3.1M1429.4 873.6h9.2M1444.9 873.6h6.2M1454.3 873.6h9.4M1466.7 873.6h31.2M1501.1 873.6h34.3M1591.6 873.6h9.4M1607.2 873.6h15.5M1438.6 877.3h9.4M1460.5 877.3h3.1M1469.9 877.3h3.1M1516.7 877.3h3.1M1526.1 877.3h3.1M1532.3 877.3h6.2M1541.7 877.3h3.1M1547.9 877.3h3.1M1473 881.1h3.1M1479.2 881.1h3.1M1485.5 881.1h3.1M1494.8 881.1h3.1M1507.3 881.1h3.1M1547.9 881.1h3.1M1557.3 881.1h3.1M1566.6 881.1h3.1M1572.9 881.1h3.1M1579.1 881.1h3.1M1585.4 881.1h3.1M1601 881.1h6.2M1438.6 884.9h3.1M1444.9 884.9h6.2M1576 884.9h6.2M1585.4 884.9h31.2M1429.4 888.6h59.2M1491.7 888.6h6.2M1507.3 888.6h6.2M1516.7 888.6h3.1M1522.9 888.6h15.6M1541.7 888.6h6.2M1554.1 888.6h3.1M1547.9 892.4h6.2M1557.3 892.4h18.7M1582.2 892.4h3.1M1588.5 892.4h21.9M1616.6 892.4h6.1M1522.9 896.1h3.1M1566.6 896.1h3.1M1572.9 896.1h3.1M1579.1 896.1h3.1M1594.7 896.1h3.1M1610.3 896.1h3.1M1616.6 896.1h6.1M1454.3 899.9h3.1M1460.5 899.9h3.1M1466.7 899.9h15.6M1488.6 899.9h3.1M1494.8 899.9h3.1M1582.2 899.9h6.2M1601 899.9h15.6M1435.5 903.7h28.1M1466.7 903.7h15.6M1488.6 903.7h6.2M1504.2 903.7h6.2M1519.8 903.7h6.2M1532.3 903.7h3.1M1541.7 903.7h12.5M1557.3 903.7h49.9M1610.3 903.7h3.1M1616.6 903.7h6.1M1473 907.4h3.1M1485.5 907.4h3.1M1498 907.4h12.5M1516.7 907.4h6.2M1526.1 907.4h6.2M1538.5 907.4h3.1M1544.8 907.4h9.4M1557.3 907.4h6.2M1429.4 911.2h21.7M1454.3 911.2h12.5M1469.9 911.2h6.2M1482.3 911.2h3.1M1491.7 911.2h3.1M1504.2 911.2h9.4M1522.9 911.2h9.4M1538.5 911.2h3.1M1544.8 911.2h6.2M1554.1 911.2h6.2M1566.6 911.2h6.2M1576 911.2h3.1M1582.2 911.2h25M1610.3 911.2h12.4M1441.8 914.9h6.2M1463.6 914.9h3.1M1485.5 914.9h6.2M1504.2 914.9h3.1M1519.8 914.9h9.4M1532.3 914.9h9.4M1544.8 914.9h9.4M1557.3 914.9h9.4M1576 914.9h15.6M1597.8 914.9h15.6M1616.6 914.9h6.1M1429.4 918.7h28M1460.5 918.7h3.1M1466.7 918.7h6.2M1476.1 918.7h6.2M1485.5 918.7h9.4M1498 918.7h3.1M1516.7 918.7h6.2M1526.1 918.7h3.1M1532.3 918.7h3.1M1544.8 918.7h6.2M1554.1 918.7h3.1M1560.4 918.7h3.1M1566.6 918.7h3.1M1572.9 918.7h3.1M1588.5 918.7h9.4M1601 918.7h15.6M1429.4 922.5h9.2M1441.8 922.5h9.4M1454.3 922.5h3.1M1460.5 922.5h3.1M1466.7 922.5h15.6M1485.5 922.5h25M1516.7 922.5h6.2M1526.1 922.5h12.5M1544.8 922.5h9.4M1557.3 922.5h3.1M1563.5 922.5h9.4M1576 922.5h46.7M1438.6 926.2h9.4M1466.7 926.2h3.1M1473 926.2h3.1M1494.8 926.2h3.1M1501.1 926.2h18.7M1522.9 926.2h3.1M1532.3 926.2h6.2M1541.7 926.2h9.4M1554.1 926.2h6.2M1566.6 926.2h37.5M1607.2 926.2h15.5M1429.4 930h15.5M1448 930h15.6M1479.2 930h3.1M1591.6 930h6.2M1513.6 933.8h3.1M1519.8 933.8h12.5M1535.4 933.8h3.1M1541.7 933.8h9.4M1560.4 933.8h12.5M1579.1 933.8h12.5M1594.7 933.8h3.1M1601 933.8h9.4M1613.5 933.8h9.2M1429.4 937.5h12.4M1448 937.5h3.1M1454.3 937.5h3.1M1460.5 937.5h3.1M1469.9 937.5h3.1M1479.2 937.5h3.1M1485.5 937.5h3.1M1491.7 937.5h3.1M1438.6 941.3h3.1M1444.9 941.3h6.2M1473 941.3h3.1M1482.3 941.3h9.4M1494.8 941.3h3.1M1504.2 941.3h3.1M1544.8 941.3h3.1M1551 941.3h12.5M1569.8 941.3h3.1M1579.1 941.3h6.2M1591.6 941.3h6.2M1601 941.3h3.1M1616.6 941.3h6.1M1429.4 945h6.1M1438.6 945h3.1M1454.3 945h6.2M1463.6 945h6.2M1473 945h3.1M1479.2 945h3.1M1485.5 945h3.1M1491.7 945h18.7M1516.7 945h18.7M1572.9 945h6.2M1601 945h15.6M1532.3 948.8h6.2M1544.8 948.8h3.1M1551 948.8h3.1M1557.3 948.8h3.1M1563.5 948.8h21.9M1588.5 948.8h9.4M1601 948.8h9.4M1429.4 952.6h9.2M1441.8 952.6h3.1M1544.8 952.6h12.5M1560.4 952.6h21.9M1585.4 952.6h12.5M1601 952.6h9.4M1613.5 952.6h9.2M1429.4 956.3h9.2M1441.8 956.3h6.2M1451.1 956.3h9.4M1469.9 956.3h3.1M1488.6 956.3h18.7M1510.4 956.3h68.7M1585.4 956.3h37.3M1504.2 960.1h6.2M1513.6 960.1h3.1M1522.9 960.1h15.6M1547.9 960.1h6.2M1560.4 960.1h3.1M1576 960.1h3.1M1429.4 963.8h6.1M1438.6 963.8h3.1M1444.9 963.8h3.1M1451.1 963.8h6.2M1463.6 963.8h3.1M1482.3 963.8h6.2M1491.7 963.8h3.1M1579.1 963.8h3.1M1585.4 963.8h3.1M1601 963.8h6.2M1613.5 963.8h3.1M1435.5 967.6h3.1M1441.8 967.6h3.1M1448 967.6h18.7M1469.9 967.6h3.1M1479.2 967.6h3.1M1591.6 967.6h3.1M1597.8 967.6h3.1M1610.3 967.6h6.2M1435.5 971.4h6.2M1444.9 971.4h3.1M1451.1 971.4h9.4M1463.6 971.4h3.1M1557.3 971.4h6.2M1576 971.4h3.1M1582.2 971.4h3.1M1601 971.4h3.1M1429.4 975.1h15.5M1485.5 975.1h18.7M1510.4 975.1h3.1M1516.7 975.1h12.5M1541.7 975.1h81M1429.4 978.9h12.4M1448 978.9h43.7M1522.9 978.9h3.1M1529.2 978.9h3.1M1535.4 978.9h25M1563.5 978.9h18.7M1585.4 978.9h37.3M1429.4 982.6h6.1M1444.9 982.6h12.5M1460.5 982.6h9.4M1476.1 982.6h3.1M1488.6 982.6h6.2M1501.1 982.6h3.1M1507.3 982.6h3.1M1594.7 982.6h3.1M1613.5 982.6h3.1M1504.2 986.4h3.1M1516.7 986.4h6.2M1529.2 986.4h21.9M1554.1 986.4h3.1M1560.4 986.4h3.1M1566.6 986.4h3.1M1572.9 986.4h12.5M1591.6 986.4h6.2M1604.1 986.4h3.1M1610.3 986.4h3.1M1429.4 990.2h12.4M1444.9 990.2h87.4M1535.4 990.2h3.1M1541.7 990.2h28.1M1576 990.2h12.5M1594.7 990.2h15.6M1616.6 990.2h6.1M1429.4 993.9h12.4M1444.9 993.9h3.1M1451.1 993.9h3.1M1460.5 993.9h3.1M1469.9 993.9h53.1M1526.1 993.9h3.1M1532.3 993.9h12.5M1560.4 993.9h3.1M1579.1 993.9h3.1M1585.4 993.9h3.1M1594.7 993.9h3.1M1601 993.9h21.7M1429.4 997.7h34.2M1466.7 997.7h18.7M1488.6 997.7h3.1M1494.8 997.7h3.1M1504.2 997.7h6.2M1516.7 997.7h3.1M1563.5 997.7h3.1M1594.7 997.7h3.1M1435.5 1001.4h3.1M1441.8 1001.4h3.1M1448 1001.4h9.4M1460.5 1001.4h34.3M1498 1001.4h18.7M1519.8 1001.4h6.2M1529.2 1001.4h6.2M1435.5 1005.2h21.9M1501.1 1005.2h3.1M1566.6 1005.2h3.1M1535.4 1009h3.1M1547.9 1009h3.1M1560.4 1009h15.6M1582.2 1009h9.4M1601 1009h3.1M1610.3 1009h6.2M1498 1012.7h6.2M1507.3 1012.7h3.1M1582.2 1012.7h34.3M1429.4 1016.5h9.2M1444.9 1016.5h49.9M1498 1016.5h6.2M1507.3 1016.5h6.2M1522.9 1016.5h3.1M1547.9 1016.5h3.1M1435.5 1020.2h3.1M1454.3 1020.2h3.1M1488.6 1020.2h3.1M1504.2 1020.2h6.2M1510.4 1024h9.4M1522.9 1024h6.2M1538.5 1024h3.1M1544.8 1024h6.2M1566.6 1024h3.1M1576 1024h3.1M1429.4 1027.8h15.5M1448 1027.8h6.2M1457.4 1027.8h34.3M1494.8 1027.8h40.6M1538.5 1027.8h15.6M1557.3 1027.8h18.7M1579.1 1027.8h3.1M1585.4 1027.8h3.1M1591.6 1027.8h12.5M1607.2 1027.8h15.5M1532.3 1031.5h6.2M1541.7 1031.5h3.1M1547.9 1031.5h28.1M1579.1 1031.5h3.1M1585.4 1031.5h3.1M1594.7 1031.5h3.1M1610.3 1031.5h6.2M1435.5 1035.3h3.1M1469.9 1035.3h3.1M1485.5 1035.3h9.4M1501.1 1035.3h3.1M1507.3 1035.3h6.2M1516.7 1035.3h6.2M1526.1 1035.3h3.1M1532.3 1035.3h3.1M1538.5 1035.3h18.7M1563.5 1035.3h15.6M1591.6 1035.3h3.1M1610.3 1035.3h3.1M1435.5 1039h6.2M1485.5 1039h3.1M1491.7 1039h6.2M1501.1 1039h6.2M1510.4 1039h6.2M1519.8 1039h12.5M1538.5 1039h84.2M1441.8 1042.8h3.1M1460.5 1042.8h3.1M1479.2 1042.8h3.1M1501.1 1042.8h3.1M1507.3 1042.8h6.2M1522.9 1042.8h3.1M1529.2 1042.8h3.1M1535.4 1042.8h3.1M1544.8 1042.8h3.1M1435.5 1046.6h28.1M1466.7 1046.6h3.1M1473 1046.6h6.2M1482.3 1046.6h9.4M1498 1046.6h3.1M1544.8 1046.6h3.1M1507.3 1050.3h3.1M1513.6 1050.3h3.1M1519.8 1050.3h9.4M1535.4 1050.3h21.9M1566.6 1050.3h3.1M1572.9 1050.3h3.1M1579.1 1050.3h3.1M1429.4 1054.1h6.1M1438.6 1054.1h6.2M1448 1054.1h15.6M1466.7 1054.1h37.5M1507.3 1054.1h9.4M1522.9 1054.1h3.1M1529.2 1054.1h12.5M1544.8 1054.1h12.5M1563.5 1054.1h3.1M1572.9 1054.1h12.5M1588.5 1054.1h34.2M1435.5 1057.8h18.7M1488.6 1057.8h15.6M1597.8 1057.8h6.2M1613.5 1057.8h9.2M1429.4 1061.6h6.1M1438.6 1061.6h53.1M1494.8 1061.6h56.2M1438.6 1065.4h15.6M1457.4 1065.4h12.5M1473 1065.4h6.2M1488.6 1065.4h3.1M1491.7 1069.1h18.7M1516.7 1069.1h12.5M1532.3 1069.1h3.1M1538.5 1069.1h6.2M1547.9 1069.1h9.4M1429.4 1072.9h34.2M1572.9 1072.9h6.2M1582.2 1072.9h15.6M1519.8 1076.6h25M1547.9 1076.6h3.1M1554.1 1076.6h21.9M1579.1 1076.6h9.4M1616.6 1076.6h6.1M1429.4 1080.4h15.5M1448 1080.4h6.2M1457.4 1080.4h21.9M1482.3 1080.4h6.2M1522.9 1080.4h12.5M1538.5 1080.4h46.8M1588.5 1080.4h3.1M1604.1 1080.4h6.2M1429.4 1084.2h6.1M1438.6 1084.2h15.6M1457.4 1084.2h6.2M1479.2 1084.2h15.6M1498 1084.2h3.1M1507.3 1084.2h3.1M1529.2 1084.2h3.1M1551 1084.2h3.1M1563.5 1084.2h3.1M1572.9 1084.2h12.5M1588.5 1084.2h3.1M1594.7 1084.2h3.1M1601 1084.2h3.1M1610.3 1084.2h6.2M1429.4 1087.9h6.1M1441.8 1087.9h3.1M1498 1087.9h3.1M1510.4 1087.9h21.9M1538.5 1087.9h3.1M1544.8 1087.9h3.1M1551 1087.9h3.1M1557.3 1087.9h3.1M1563.5 1087.9h6.2M1572.9 1087.9h6.2M1585.4 1087.9h6.2M1594.7 1087.9h6.2M1613.5 1087.9h3.1M1429.4 1091.7h31.1M1463.6 1091.7h46.8M1519.8 1091.7h3.1M1526.1 1091.7h6.2M1541.7 1091.7h3.1M1579.1 1091.7h3.1M1588.5 1091.7h34.2M1429.4 1095.4h18.6M1451.1 1095.4h37.5M1494.8 1095.4h9.4M1507.3 1095.4h3.1M1516.7 1095.4h6.2M1526.1 1095.4h3.1M1535.4 1095.4h12.5M1554.1 1095.4h68.6M1429.4 1099.2h18.6M1451.1 1099.2h43.7M1501.1 1099.2h21.9M1526.1 1099.2h15.6M1547.9 1099.2h9.4M1560.4 1099.2h15.6M1498 1103h3.1M1529.2 1103h3.1M1535.4 1103h21.9M1569.8 1103h3.1M1576 1103h34.3M1616.6 1103h6.1M1429.4 1106.7h9.2M1444.9 1106.7h12.5M1460.5 1106.7h6.2M1476.1 1106.7h15.6M1494.8 1106.7h3.1M1504.2 1106.7h6.2M1522.9 1106.7h6.2M1532.3 1106.7h18.7M1554.1 1106.7h21.9M1429.4 1110.5h6.1M1535.4 1110.5h3.1M1541.7 1110.5h3.1M1547.9 1110.5h6.2M1557.3 1110.5h3.1M1566.6 1110.5h9.4M1582.2 1110.5h6.2M1594.7 1110.5h3.1M1616.6 1110.5h6.1M1429.4 1114.2h9.2M1441.8 1114.2h3.1M1448 1114.2h9.4M1466.7 1114.2h6.2M1435.5 1118h103M1547.9 1118h12.5M1569.8 1118h12.5M1585.4 1118h9.4M1597.8 1118h3.1M1604.1 1118h18.6M1435.5 1121.8h3.1M1460.5 1121.8h3.1M1466.7 1121.8h18.7M1488.6 1121.8h40.6M1538.5 1121.8h3.1M1544.8 1121.8h9.4M1473 1125.5h3.1M1494.8 1125.5h3.1M1501.1 1125.5h6.2M1510.4 1125.5h9.4M1526.1 1125.5h3.1M1532.3 1125.5h6.2M1544.8 1125.5h12.5M1563.5 1125.5h3.1M1572.9 1125.5h3.1M1429.4 1129.3h9.2M1441.8 1129.3h3.1M1448 1129.3h21.9M1473 1129.3h3.1M1479.2 1129.3h3.1M1485.5 1129.3h6.2M1526.1 1129.3h3.1M1535.4 1129.3h6.2M1547.9 1129.3h3.1M1554.1 1129.3h12.5M1572.9 1129.3h6.2M1582.2 1129.3h6.2M1607.2 1129.3h3.1M1435.5 1133h3.1M1448 1133h3.1M1463.6 1133h3.1M1469.9 1133h6.2M1491.7 1133h3.1M1566.6 1133h3.1M1582.2 1133h3.1M1604.1 1133h3.1M1429.4 1136.8h6.1M1441.8 1136.8h6.2M1451.1 1136.8h9.4M1463.6 1136.8h3.1M1469.9 1136.8h15.6M1488.6 1136.8h28.1M1519.8 1136.8h3.1M1526.1 1136.8h12.5M1544.8 1136.8h3.1M1551 1136.8h6.2M1560.4 1136.8h3.1M1576 1136.8h46.7M1444.9 1140.6h6.2M1457.4 1140.6h31.2M1498 1140.6h3.1M1563.5 1140.6h3.1M1569.8 1140.6h21.9M1594.7 1140.6h3.1M1604.1 1140.6h3.1M1488.6 1144.3h25M1516.7 1144.3h6.2M1538.5 1144.3h6.2M1554.1 1144.3h3.1M1560.4 1144.3h6.2M1569.8 1144.3h3.1M1576 1144.3h12.5M1594.7 1144.3h28M1491.7 1148.1h3.1M1507.3 1148.1h3.1M1522.9 1148.1h3.1M1532.3 1148.1h6.2M1541.7 1148.1h12.5M1557.3 1148.1h6.2M1569.8 1148.1h6.2M1579.1 1148.1h12.5M1594.7 1148.1h3.1M1601 1148.1h3.1M1610.3 1148.1h3.1M1460.5 1151.8h3.1M1473 1151.8h3.1M1482.3 1151.8h3.1M1488.6 1151.8h6.2M1501.1 1151.8h6.2M1510.4 1151.8h6.2M1519.8 1151.8h12.5M1535.4 1151.8h3.1M1541.7 1151.8h6.2M1554.1 1151.8h6.2M1563.5 1151.8h3.1M1569.8 1151.8h3.1M1576 1151.8h3.1M1582.2 1151.8h3.1M1591.6 1151.8h3.1M1429.4 1155.6h9.2M1441.8 1155.6h6.2M1463.6 1155.6h6.2M1473 1155.6h3.1M1485.5 1155.6h9.4M1498 1155.6h3.1M1510.4 1155.6h6.2M1532.3 1155.6h3.1M1538.5 1155.6h3.1M1557.3 1155.6h3.1M1579.1 1155.6h3.1M1597.8 1155.6h3.1M1610.3 1155.6h3.1M1460.5 1159.4h3.1M1473 1159.4h9.4M1488.6 1159.4h3.1M1494.8 1159.4h9.4M1507.3 1159.4h3.1M1519.8 1159.4h9.4M1441.8 1163.1h3.1M1547.9 1163.1h3.1M1557.3 1163.1h3.1M1569.8 1163.1h15.6M1591.6 1163.1h9.4M1613.5 1163.1h3.1M1482.3 1166.9h6.2M1491.7 1166.9h9.4M1504.2 1166.9h12.5M1519.8 1166.9h12.5M1607.2 1166.9h6.2M1616.6 1166.9h6.1M1448 1170.6h3.1M1454.3 1170.6h3.1M1460.5 1170.6h6.2M1473 1170.6h6.2M1485.5 1170.6h6.2M1494.8 1170.6h9.4M1591.6 1170.6h3.1M1610.3 1170.6h3.1M1616.6 1170.6h6.1M1429.4 1174.4h21.7M1429.4 1178.2h9.2M1444.9 1178.2h3.1M1454.3 1178.2h3.1M1469.9 1178.2h3.1M1482.3 1178.2h6.2M1491.7 1178.2h6.2M1594.7 1178.2h6.2M1604.1 1178.2h6.2M1613.5 1178.2h9.2M1429.4 1181.9h12.4M1444.9 1181.9h12.5M1469.9 1181.9h9.4M1488.6 1181.9h3.1M1507.3 1181.9h9.4M1522.9 1181.9h3.1M1529.2 1181.9h3.1M1572.9 1181.9h3.1M1601 1181.9h9.4M1444.9 1185.7h3.1M1451.1 1185.7h12.5M1473 1185.7h3.1M1482.3 1185.7h6.2M1491.7 1185.7h3.1M1498 1185.7h9.4M1513.6 1185.7h3.1M1538.5 1185.7h3.1M1551 1185.7h3.1M1557.3 1185.7h31.2M1591.6 1185.7h6.2M1601 1185.7h6.2M1613.5 1185.7h3.1M1438.6 1189.4h3.1M1454.3 1189.4h3.1M1463.6 1189.4h3.1M1469.9 1189.4h6.2M1479.2 1189.4h3.1M1491.7 1189.4h3.1M1504.2 1189.4h6.2M1526.1 1189.4h3.1M1429.4 1193.2h12.4M1444.9 1193.2h3.1M1460.5 1193.2h3.1M1466.7 1193.2h3.1M1507.3 1193.2h15.6M1526.1 1193.2h3.1M1532.3 1193.2h3.1M1538.5 1193.2h9.4M1551 1193.2h3.1M1566.6 1193.2h6.2M1579.1 1193.2h3.1M1479.2 1197h3.1M1488.6 1197h6.2M1498 1197h15.6M1519.8 1197h6.2M1532.3 1197h9.4M1544.8 1197h3.1M1551 1197h6.2M1560.4 1197h3.1M1435.5 1200.7h6.2M1538.5 1200.7h9.4M1551 1200.7h25M1579.1 1200.7h12.5M1601 1200.7h3.1M1607.2 1200.7h6.2M1616.6 1200.7h6.1M1438.6 1204.5h6.2M1435.5 1219.5h3.1M1441.8 1219.5h6.2M1451.1 1223.3h3.1M1429.4 1234.6h21.7M1454.3 1234.6h12.5M1610.3 1234.6h12.4M1438.6 1245.9h6.2M1454.3 1245.9h12.5M1457.4 1249.6h3.1M1441.8 1253.4h3.1M1435.5 1257.1h3.1M1441.8 1257.1h3.1M1448 1257.1h6.2M1457.4 1257.1h9.4M1438.6 1260.9h37.5M1429.4 1268.4h6.1M1438.6 1268.4h3.1M1444.9 1268.4h3.1M1438.6 1272.2h3.1M1451.1 1272.2h6.2M1460.5 1272.2h6.2M1469.9 1272.2h6.2M1429.4 1291h9.2M1441.8 1291h12.5M1460.5 1291h15.6M1441.8 1298.5h3.1M1448 1298.5h6.2M1466.7 1298.5h9.4M1429.4 1302.3h6.1M1438.6 1302.3h3.1M1454.3 1302.3h3.1M1457.4 1306h3.1M1466.7 1309.8h6.2M1616.6 1309.8h6.1M1444.9 1321.1h6.2M1451.1 1324.8h3.1M1457.4 1324.8h12.5M1473 1324.8h3.1M1435.5 1328.6h3.1M1444.9 1328.6h3.1M1429.4 1339.9h24.9M1463.6 1339.9h15.6M1438.6 1343.6h15.6M1457.4 1343.6h6.2M1473 1343.6h6.2M1448 1351.1h6.2M1441.8 1358.7h3.1M1473 1366.2h3.1M1438.6 1369.9h3.1M1429.4 1373.7h9.2M1448 1373.7h15.6M1435.5 1381.2h3.1M1444.9 1381.2h9.4M1460.5 1381.2h6.2M1476.1 1381.2h6.2M1451.1 1385h3.1M1457.4 1385h3.1M1463.6 1385h3.1M1463.6 1396.3h3.1M1473 1396.3h3.1M1479.2 1396.3h3.1M1613.5 1396.3h3.1M1438.6 1400h6.2M1448 1400h3.1M1473 1403.8h3.1M1482.3 1403.8h3.1M1429.4 1407.5h9.2M1444.9 1407.5h21.9M1469.9 1407.5h9.4M1429.4 1411.3h6.1M1438.6 1411.3h12.5M1454.3 1411.3h3.1M1463.6 1411.3h3.1M1616.6 1411.3h6.1M1429.4 1415.1h6.1M1438.6 1418.8h3.1M1451.1 1418.8h3.1M1429.4 1422.6h12.4M1444.9 1422.6h6.2M1454.3 1422.6h18.7M1476.1 1422.6h3.1M1435.5 1426.3h12.5M1454.3 1426.3h9.4M1469.9 1426.3h9.4M1473 1441.4h3.1M1435.5 1445.1h3.1M1441.8 1445.1h3.1M1451.1 1445.1h3.1M1460.5 1445.1h6.2M1473 1445.1h6.2M1429.4 1448.9h6.1M1438.6 1448.9h6.2M1451.1 1448.9h3.1M1466.7 1448.9h3.1M1616.6 1448.9h6.1M1429.4 1452.7h6.1M1448 1452.7h3.1M1444.9 1456.4h3.1M1454.3 1456.4h3.1M1463.6 1456.4h3.1M1469.9 1456.4h3.1M1429.4 1460.2h6.1M1441.8 1460.2h3.1M1469.9 1467.7h3.1M1482.3 1467.7h3.1M1604.1 1467.7h3.1M1429.4 1471.5h12.4M1429.4 1479h9.2M1441.8 1479h3.1M1451.1 1479h15.6M1607.2 1482.8h6.2M1613.5 1490.3h9.2M1429.4 1494h6.1M1438.6 1494h3.1M1457.4 1494h9.4M1438.6 1497.8h15.6M1457.4 1497.8h3.1M1466.7 1497.8h6.2M1482.3 1497.8h3.1M1444.9 1509.1h6.2M1454.3 1509.1h3.1M1460.5 1509.1h3.1M1466.7 1509.1h3.1M1429.4 1512.8h6.1M1438.6 1512.8h12.5M1463.6 1512.8h3.1M1479.2 1512.8h3.1M1454.3 1527.9h3.1M1429.4 1531.6h12.4M1473 1531.6h6.2M1441.8 1535.4h3.1M1429.4 1539.2h6.1M1448 1539.2h3.1M1454.3 1539.2h3.1M1460.5 1539.2h3.1M1466.7 1539.2h18.7M1429.4 1542.9h9.2M1441.8 1542.9h12.5M1457.4 1542.9h18.7M1469.9 1550.4h9.4M1482.3 1550.4h3.1M1451.1 1558h3.1M1613.5 1558h3.1M1429.4 1565.5h6.1M1438.6 1565.5h9.4M1454.3 1565.5h3.1M1463.6 1565.5h3.1M1479.2 1565.5h6.2M1466.7 1576.8h3.1M1476.1 1576.8h6.2M1441.8 1580.5h3.1M1454.3 1580.5h3.1M1438.6 1588h9.4M1454.3 1588h3.1M1460.5 1588h21.9M1485.5 1588h3.1M1613.5 1588h9.2M1457.4 1591.8h15.6M1479.2 1591.8h9.4M1601 1591.8h3.1M1610.3 1591.8h3.1M1460.5 1595.6h6.2M1473 1595.6h3.1M1485.5 1595.6h6.2M1438.6 1599.3h6.2M1448 1599.3h6.2M1460.5 1599.3h6.2M1469.9 1599.3h3.1M1476.1 1599.3h6.2M1448 1603.1h3.1M1613.5 1603.1h3.1M1435.5 1606.8h6.2M1444.9 1606.8h15.6M1463.6 1606.8h12.5M1479.2 1606.8h12.5M1494.8 1606.8h3.1M1435.5 1610.6h3.1M1444.9 1610.6h6.2M1454.3 1610.6h6.2M1463.6 1610.6h3.1M1613.5 1610.6h9.2M1435.5 1614.4h3.1M1444.9 1614.4h12.5M1463.6 1614.4h6.2M1473 1614.4h6.2M1482.3 1614.4h3.1"/>
<path stroke="#f4f3f9" d="M1438.6 783.3h6.2M1488.6 783.3h9.4M1563.5 787.1h3.1M1572.9 787.1h9.4M1488.6 790.9h6.2M1498 790.9h3.1M1582.2 802.1h6.2M1554.1 805.9h6.2M1594.7 805.9h6.2M1485.5 809.7h15.6M1526.1 817.2h12.5M1560.4 820.9h6.2M1601 820.9h9.4M1566.6 828.5h12.5M1482.3 836h15.6M1547.9 836h9.4M1563.5 836h3.1M1535.4 847.3h18.7M1585.4 847.3h3.1M1591.6 847.3h12.5M1460.5 851h6.2M1526.1 851h6.2M1535.4 851h3.1M1510.4 866.1h3.1M1547.9 866.1h3.1M1538.5 869.8h9.4M1572.9 869.8h6.2M1551 873.6h6.2M1579.1 873.6h6.2M1460.5 881.1h6.2M1491.7 884.9h12.5M1554.1 884.9h12.5M1569.8 888.6h15.6M1451.1 892.4h3.1M1457.4 892.4h9.4M1482.3 892.4h12.5M1498 892.4h6.2M1444.9 896.1h15.6M1463.6 896.1h12.5M1479.2 896.1h3.1M1510.4 899.9h6.2M1551 899.9h9.4M1579.1 907.4h3.1M1585.4 907.4h12.5M1613.5 907.4h3.1M1516.7 930h9.4M1557.3 930h12.5M1435.5 933.8h12.5M1451.1 933.8h6.2M1479.2 933.8h21.9M1519.8 937.5h12.5M1591.6 937.5h3.1M1597.8 937.5h9.4M1513.6 941.3h3.1M1529.2 941.3h6.2M1538.5 945h3.1M1560.4 945h6.2M1429.4 948.8h12.4M1507.3 948.8h12.5M1460.5 952.6h9.4M1522.9 952.6h3.1M1429.4 960.1h6.1M1438.6 960.1h6.2M1469.9 960.1h6.2M1498 967.6h9.4M1569.8 967.6h12.5M1485.5 971.4h37.5M1526.1 971.4h6.2M1501.1 978.9h3.1M1513.6 978.9h6.2M1429.4 986.4h18.6M1457.4 986.4h6.2M1466.7 986.4h6.2M1476.1 986.4h12.5M1557.3 1001.4h3.1M1563.5 1001.4h3.1M1569.8 1001.4h25M1585.4 1005.2h3.1M1591.6 1005.2h3.1M1460.5 1012.7h3.1M1485.5 1012.7h3.1M1569.8 1016.5h6.2M1579.1 1016.5h9.4M1591.6 1016.5h9.4M1607.2 1016.5h3.1M1616.6 1016.5h6.1M1451.1 1031.5h3.1M1457.4 1031.5h9.4M1485.5 1031.5h3.1M1494.8 1031.5h15.6M1448 1039h6.2M1473 1039h6.2M1563.5 1042.8h9.4M1569.8 1046.6h12.5M1585.4 1046.6h3.1M1604.1 1046.6h18.6M1513.6 1057.8h9.4M1576 1057.8h9.4M1563.5 1061.6h3.1M1569.8 1061.6h6.2M1519.8 1065.4h9.4M1532.3 1065.4h3.1M1597.8 1065.4h6.2M1610.3 1065.4h3.1M1482.3 1072.9h9.4M1544.8 1072.9h15.6M1563.5 1072.9h3.1M1429.4 1076.6h9.2M1501.1 1076.6h6.2M1547.9 1091.7h3.1M1591.6 1099.2h6.2M1616.6 1099.2h6.1M1591.6 1106.7h6.2M1601 1106.7h21.7M1488.6 1110.5h3.1M1516.7 1110.5h3.1M1507.3 1114.2h18.7M1576 1114.2h15.6M1594.7 1114.2h3.1M1579.1 1121.8h9.4M1610.3 1121.8h12.4M1435.5 1144.3h9.4M1476.1 1144.3h3.1M1604.1 1159.4h6.2M1463.6 1163.1h9.4M1498 1163.1h6.2M1507.3 1163.1h3.1M1516.7 1170.6h3.1M1557.3 1170.6h9.4M1569.8 1170.6h3.1M1516.7 1174.4h12.5M1601 1174.4h12.5M1507.3 1178.2h9.4M1572.9 1178.2h3.1M1448 1200.7h3.1M1454.3 1200.7h6.2M1513.6 1200.7h12.5M1466.7 1204.5h3.1M1473 1204.5h3.1M1479.2 1204.5h12.5M1435.5 1208.3h15.6M1607.2 1208.3h6.2M1429.4 1212h40.5M1473 1212h6.2M1482.3 1212h6.2M1463.6 1215.8h6.2M1476.1 1215.8h3.1M1482.3 1215.8h6.2M1482.3 1219.5h9.4M1613.5 1223.3h9.2M1429.4 1227.1h62.3M1616.6 1227.1h6.1M1429.4 1230.8h15.5M1485.5 1230.8h6.2M1588.5 1230.8h6.2M1601 1230.8h3.1M1485.5 1234.6h6.2M1594.7 1234.6h3.1M1429.4 1238.3h28M1597.8 1238.3h6.2M1610.3 1238.3h3.1M1616.6 1238.3h6.1M1485.5 1245.9h6.2M1604.1 1245.9h6.2M1485.5 1249.6h6.2M1601 1249.6h6.2M1485.5 1253.4h6.2M1582.2 1253.4h3.1M1482.3 1257.1h6.2M1607.2 1257.1h6.2M1485.5 1260.9h6.2M1613.5 1260.9h9.2M1482.3 1264.7h9.4M1610.3 1264.7h6.2M1473 1268.4h3.1M1479.2 1268.4h3.1M1485.5 1268.4h6.2M1601 1272.2h6.2M1429.4 1275.9h9.2M1616.6 1275.9h6.1M1429.4 1279.7h6.1M1448 1279.7h6.2M1457.4 1279.7h34.3M1607.2 1279.7h6.2M1429.4 1283.5h15.5M1451.1 1283.5h3.1M1607.2 1283.5h6.2M1460.5 1287.2h28.1M1485.5 1291h6.2M1594.7 1291h6.2M1435.5 1294.7h6.2M1444.9 1294.7h40.6M1488.6 1294.7h6.2M1607.2 1294.7h6.2M1601 1298.5h9.4M1485.5 1302.3h6.2M1597.8 1302.3h6.2M1488.6 1306h9.4M1607.2 1306h6.2M1485.5 1309.8h6.2M1594.7 1309.8h6.2M1485.5 1313.5h6.2M1429.4 1317.3h28M1469.9 1317.3h28.1M1594.7 1317.3h3.1M1601 1317.3h9.4M1613.5 1317.3h9.2M1488.6 1321.1h6.2M1616.6 1321.1h6.1M1485.5 1324.8h9.4M1610.3 1324.8h6.2M1485.5 1328.6h9.4M1473 1332.3h18.7M1597.8 1332.3h6.2M1435.5 1336.1h3.1M1444.9 1336.1h3.1M1451.1 1336.1h6.2M1463.6 1336.1h6.2M1488.6 1336.1h9.4M1601 1336.1h12.5M1491.7 1339.9h6.2M1601 1339.9h9.4M1601 1343.6h9.4M1613.5 1343.6h3.1M1441.8 1347.4h59.3M1610.3 1347.4h12.4M1488.6 1351.1h3.1M1601 1351.1h3.1M1448 1354.9h3.1M1454.3 1354.9h3.1M1460.5 1354.9h6.2M1488.6 1354.9h9.4M1597.8 1354.9h9.4M1466.7 1358.7h34.3M1613.5 1358.7h9.2M1429.4 1362.4h12.4M1494.8 1366.2h6.2M1463.6 1369.9h6.2M1591.6 1369.9h9.4M1610.3 1369.9h12.4M1488.6 1373.7h9.4M1597.8 1373.7h6.2M1460.5 1377.5h6.2M1591.6 1377.5h9.4M1604.1 1377.5h3.1M1494.8 1381.2h6.2M1607.2 1381.2h6.2M1494.8 1385h9.4M1607.2 1385h9.4M1435.5 1388.7h40.6M1601 1388.7h15.6M1429.4 1392.5h12.4M1491.7 1392.5h9.4M1588.5 1392.5h6.2M1438.6 1396.3h3.1M1494.8 1396.3h9.4M1591.6 1396.3h6.2M1485.5 1400h3.1M1494.8 1400h12.5M1582.2 1400h6.2M1448 1403.8h6.2M1498 1403.8h3.1M1601 1403.8h9.4M1604.1 1407.5h6.2M1498 1411.3h9.4M1454.3 1415.1h3.1M1466.7 1415.1h12.5M1482.3 1415.1h6.2M1491.7 1415.1h12.5M1569.8 1415.1h6.2M1594.7 1415.1h6.2M1607.2 1415.1h3.1M1616.6 1415.1h6.1M1494.8 1418.8h9.4M1585.4 1418.8h6.2M1494.8 1422.6h9.4M1597.8 1422.6h9.4M1429.4 1430.1h6.1M1457.4 1430.1h6.2M1482.3 1430.1h3.1M1494.8 1430.1h12.5M1601 1430.1h9.4M1438.6 1433.9h68.7M1582.2 1433.9h15.6M1601 1433.9h21.7M1469.9 1437.6h6.2M1479.2 1437.6h6.2M1494.8 1437.6h12.5M1613.5 1437.6h9.2M1429.4 1441.4h9.2M1448 1441.4h3.1M1494.8 1441.4h12.5M1616.6 1445.1h6.1M1494.8 1448.9h15.6M1594.7 1448.9h6.2M1463.6 1452.7h3.1M1479.2 1452.7h3.1M1485.5 1452.7h21.9M1594.7 1452.7h28M1498 1456.4h9.4M1607.2 1456.4h9.4M1501.1 1460.2h12.5M1588.5 1460.2h6.2M1479.2 1463.9h9.4M1501.1 1463.9h12.5M1597.8 1463.9h9.4M1585.4 1467.7h6.2M1460.5 1471.5h3.1M1473 1471.5h18.7M1610.3 1471.5h12.4M1429.4 1475.2h9.2M1441.8 1475.2h28.1M1473 1475.2h40.6M1591.6 1475.2h6.2M1601 1475.2h9.4M1613.5 1475.2h9.2M1594.7 1479h9.4M1441.8 1482.8h37.5M1482.3 1482.8h6.2M1498 1482.8h12.5M1588.5 1482.8h6.2M1460.5 1486.5h3.1M1501.1 1486.5h15.6M1457.4 1490.3h6.2M1591.6 1490.3h6.2M1501.1 1494h15.6M1607.2 1494h9.4M1501.1 1497.8h18.7M1607.2 1497.8h9.4M1454.3 1501.6h3.1M1504.2 1501.6h18.7M1597.8 1501.6h9.4M1435.5 1505.3h3.1M1482.3 1505.3h6.2M1491.7 1505.3h6.2M1588.5 1505.3h21.9M1613.5 1505.3h9.2M1491.7 1509.1h3.1M1498 1509.1h25M1576 1509.1h6.2M1585.4 1509.1h3.1M1594.7 1509.1h28M1501.1 1512.8h18.7M1610.3 1512.8h3.1M1444.9 1516.6h9.4M1457.4 1516.6h15.6M1476.1 1516.6h6.2M1498 1516.6h12.5M1601 1516.6h3.1M1476.1 1520.4h3.1M1482.3 1520.4h9.4M1494.8 1520.4h3.1M1501.1 1520.4h18.7M1597.8 1520.4h9.4M1441.8 1524.1h3.1M1451.1 1524.1h15.6M1473 1524.1h6.2M1591.6 1524.1h9.4M1491.7 1527.9h3.1M1594.7 1527.9h9.4M1501.1 1531.6h18.7M1594.7 1531.6h6.2M1501.1 1535.4h18.7M1607.2 1535.4h9.4M1591.6 1539.2h6.2M1610.3 1542.9h12.4M1429.4 1546.7h40.5M1473 1546.7h6.2M1482.3 1546.7h3.1M1504.2 1546.7h6.2M1597.8 1546.7h15.6M1616.6 1546.7h6.1M1501.1 1550.4h15.6M1597.8 1550.4h9.4M1610.3 1550.4h12.4M1466.7 1554.2h3.1M1504.2 1554.2h18.7M1501.1 1558h18.7M1585.4 1558h6.2M1429.4 1561.7h6.1M1451.1 1561.7h3.1M1457.4 1561.7h6.2M1507.3 1565.5h3.1M1594.7 1565.5h9.4M1429.4 1569.2h40.5M1473 1569.2h3.1M1594.7 1569.2h9.4M1616.6 1569.2h6.1M1454.3 1573h9.4M1466.7 1573h15.6M1485.5 1573h6.2M1494.8 1573h25M1604.1 1573h18.6M1510.4 1576.8h12.5M1588.5 1576.8h25M1616.6 1576.8h6.1M1485.5 1580.5h9.4M1513.6 1580.5h9.4M1607.2 1580.5h9.4M1429.4 1584.3h6.1M1488.6 1584.3h28.1M1597.8 1584.3h24.9M1510.4 1588h9.4M1585.4 1588h12.5M1448 1591.8h3.1M1513.6 1591.8h6.2M1576 1591.8h6.2M1429.4 1595.6h6.1M1516.7 1595.6h6.2M1594.7 1595.6h9.4M1597.8 1599.3h12.5M1469.9 1603.1h3.1M1476.1 1603.1h3.1M1579.1 1603.1h6.2M1579.1 1606.8h9.4M1597.8 1606.8h6.2M1613.5 1606.8h9.2M1585.4 1610.6h9.4M1588.5 1614.4h9.4M1429.4 1618.1h18.6M1457.4 1618.1h3.1M1463.6 1618.1h3.1M1469.9 1618.1h3.1M1582.2 1618.1h3.1M1588.5 1618.1h6.2M1607.2 1618.1h15.5"/>
<path stroke="#f1f0f8" d="M1444.9 783.3h9.4M1485.5 783.3h3.1M1582.2 787.1h12.5M1613.5 787.1h9.2M1429.4 790.9h6.1M1479.2 790.9h9.4M1588.5 802.1h6.2M1560.4 805.9h3.1M1591.6 805.9h3.1M1429.4 809.7h21.7M1463.6 809.7h6.2M1476.1 809.7h9.4M1538.5 817.2h6.2M1566.6 820.9h9.4M1591.6 820.9h9.4M1579.1 828.5h3.1M1498 836h6.2M1538.5 836h9.4M1554.1 847.3h31.2M1588.5 847.3h3.1M1466.7 851h6.2M1519.8 851h6.2M1513.6 866.1h6.2M1544.8 866.1h3.1M1547.9 869.8h25M1557.3 873.6h3.1M1572.9 873.6h6.2M1429.4 881.1h6.1M1457.4 881.1h3.1M1504.2 884.9h9.4M1547.9 884.9h6.2M1585.4 888.6h9.4M1597.8 888.6h9.4M1616.6 888.6h6.1M1466.7 892.4h15.6M1494.8 892.4h3.1M1460.5 896.1h3.1M1516.7 899.9h6.2M1535.4 899.9h3.1M1541.7 899.9h9.4M1597.8 907.4h15.6M1616.6 907.4h6.1M1526.1 930h15.6M1547.9 930h9.4M1448 933.8h3.1M1457.4 933.8h21.9M1532.3 937.5h6.2M1585.4 937.5h6.2M1594.7 937.5h3.1M1516.7 941.3h3.1M1526.1 941.3h3.1M1541.7 945h3.1M1557.3 945h3.1M1441.8 948.8h6.2M1498 948.8h9.4M1469.9 952.6h3.1M1513.6 952.6h9.4M1444.9 960.1h3.1M1466.7 960.1h3.1M1507.3 967.6h3.1M1563.5 967.6h6.2M1504.2 978.9h9.4M1448 986.4h9.4M1463.6 986.4h3.1M1473 986.4h3.1M1594.7 1005.2h6.2M1482.3 1012.7h3.1M1588.5 1016.5h3.1M1601 1016.5h6.2M1610.3 1016.5h6.2M1466.7 1031.5h18.7M1488.6 1031.5h6.2M1454.3 1039h6.2M1466.7 1039h6.2M1572.9 1042.8h3.1M1613.5 1042.8h9.2M1582.2 1046.6h3.1M1588.5 1046.6h15.6M1522.9 1057.8h3.1M1572.9 1057.8h3.1M1576 1061.6h12.5M1529.2 1065.4h3.1M1535.4 1065.4h6.2M1588.5 1065.4h9.4M1491.7 1072.9h18.7M1532.3 1072.9h12.5M1438.6 1076.6h9.4M1491.7 1076.6h9.4M1551 1091.7h3.1M1569.8 1091.7h3.1M1597.8 1099.2h18.7M1491.7 1110.5h6.2M1513.6 1110.5h3.1M1526.1 1114.2h9.4M1560.4 1114.2h15.6M1588.5 1121.8h15.6M1607.2 1121.8h3.1M1444.9 1144.3h6.2M1469.9 1144.3h6.2M1610.3 1159.4h12.4M1473 1163.1h6.2M1482.3 1163.1h15.6M1519.8 1170.6h9.4M1532.3 1170.6h3.1M1547.9 1170.6h9.4M1529.2 1174.4h9.4M1588.5 1174.4h12.5M1516.7 1178.2h6.2M1563.5 1178.2h9.4M1460.5 1200.7h6.2M1507.3 1200.7h6.2M1491.7 1204.5h3.1M1616.6 1204.5h6.1M1451.1 1208.3h9.4M1485.5 1208.3h6.2M1604.1 1208.3h3.1M1488.6 1212h3.1M1613.5 1212h9.2M1488.6 1215.8h6.2M1491.7 1219.5h3.1M1613.5 1219.5h9.2M1607.2 1223.3h6.2M1610.3 1227.1h6.2M1491.7 1230.8h3.1M1585.4 1230.8h3.1M1491.7 1234.6h3.1M1591.6 1234.6h3.1M1594.7 1238.3h3.1M1491.7 1245.9h6.2M1601 1245.9h3.1M1491.7 1249.6h3.1M1597.8 1249.6h3.1M1491.7 1253.4h3.1M1579.1 1253.4h3.1M1488.6 1257.1h6.2M1604.1 1257.1h3.1M1491.7 1260.9h6.2M1610.3 1260.9h3.1M1491.7 1264.7h3.1M1604.1 1264.7h6.2M1491.7 1268.4h3.1M1616.6 1268.4h6.1M1594.7 1272.2h6.2M1613.5 1275.9h3.1M1601 1279.7h6.2M1444.9 1283.5h6.2M1454.3 1283.5h3.1M1604.1 1283.5h3.1M1613.5 1287.2h9.2M1491.7 1291h6.2M1591.6 1291h3.1M1429.4 1294.7h6.1M1441.8 1294.7h3.1M1494.8 1294.7h6.2M1604.1 1294.7h3.1M1597.8 1298.5h3.1M1491.7 1302.3h6.2M1594.7 1302.3h3.1M1498 1306h6.2M1601 1306h6.2M1491.7 1309.8h6.2M1591.6 1309.8h3.1M1491.7 1313.5h3.1M1613.5 1313.5h9.2M1457.4 1317.3h12.5M1498 1317.3h6.2M1588.5 1317.3h6.2M1597.8 1317.3h3.1M1610.3 1317.3h3.1M1494.8 1321.1h6.2M1607.2 1321.1h9.4M1494.8 1324.8h6.2M1604.1 1324.8h6.2M1494.8 1328.6h6.2M1491.7 1332.3h12.5M1591.6 1332.3h6.2M1498 1336.1h3.1M1597.8 1336.1h3.1M1498 1339.9h9.4M1597.8 1339.9h3.1M1594.7 1343.6h6.2M1501.1 1347.4h3.1M1604.1 1347.4h6.2M1597.8 1351.1h3.1M1466.7 1354.9h3.1M1485.5 1354.9h3.1M1498 1354.9h6.2M1594.7 1354.9h3.1M1501.1 1358.7h9.4M1607.2 1358.7h6.2M1616.6 1362.4h6.1M1501.1 1366.2h3.1M1616.6 1366.2h6.1M1469.9 1369.9h9.4M1498 1373.7h6.2M1591.6 1373.7h6.2M1466.7 1377.5h6.2M1585.4 1377.5h6.2M1501.1 1381.2h9.4M1601 1381.2h6.2M1504.2 1385h12.5M1604.1 1385h3.1M1476.1 1388.7h21.9M1594.7 1388.7h6.2M1501.1 1392.5h12.5M1585.4 1392.5h3.1M1504.2 1396.3h18.7M1585.4 1396.3h6.2M1507.3 1400h9.4M1579.1 1400h3.1M1597.8 1403.8h3.1M1597.8 1407.5h6.2M1507.3 1411.3h15.6M1585.4 1411.3h6.2M1504.2 1415.1h12.5M1566.6 1415.1h3.1M1504.2 1418.8h9.4M1579.1 1418.8h6.2M1504.2 1422.6h12.5M1594.7 1422.6h3.1M1591.6 1426.3h9.4M1604.1 1426.3h18.6M1507.3 1430.1h12.5M1594.7 1430.1h6.2M1507.3 1433.9h15.6M1576 1433.9h6.2M1507.3 1437.6h12.5M1607.2 1437.6h6.2M1507.3 1441.4h12.5M1510.4 1448.9h6.2M1507.3 1452.7h12.5M1588.5 1452.7h6.2M1507.3 1456.4h15.6M1513.6 1460.2h9.4M1582.2 1460.2h6.2M1473 1463.9h6.2M1513.6 1463.9h9.4M1591.6 1463.9h6.2M1579.1 1467.7h6.2M1604.1 1471.5h6.2M1469.9 1475.2h3.1M1513.6 1475.2h9.4M1585.4 1475.2h6.2M1597.8 1475.2h3.1M1610.3 1475.2h3.1M1588.5 1479h6.2M1510.4 1482.8h12.5M1582.2 1482.8h6.2M1516.7 1486.5h3.1M1613.5 1486.5h9.2M1463.6 1490.3h9.4M1585.4 1490.3h6.2M1516.7 1494h6.2M1601 1494h6.2M1601 1497.8h6.2M1591.6 1501.6h6.2M1582.2 1505.3h6.2M1610.3 1505.3h3.1M1572.9 1509.1h3.1M1519.8 1512.8h3.1M1579.1 1512.8h6.2M1594.7 1516.6h6.2M1604.1 1516.6h3.1M1591.6 1520.4h6.2M1585.4 1524.1h6.2M1588.5 1527.9h6.2M1519.8 1531.6h3.1M1588.5 1531.6h6.2M1597.8 1535.4h9.4M1585.4 1539.2h6.2M1601 1542.9h9.4M1591.6 1546.7h6.2M1613.5 1546.7h3.1M1591.6 1550.4h6.2M1582.2 1554.2h9.4M1579.1 1558h6.2M1585.4 1561.7h3.1M1616.6 1561.7h6.1M1588.5 1565.5h6.2M1469.9 1569.2h3.1M1476.1 1569.2h9.4M1588.5 1569.2h6.2M1429.4 1573h12.4M1444.9 1573h9.4M1594.7 1573h9.4M1582.2 1576.8h6.2M1494.8 1580.5h6.2M1504.2 1580.5h9.4M1516.7 1584.3h3.1M1588.5 1584.3h9.4M1579.1 1588h6.2M1444.9 1591.8h3.1M1572.9 1591.8h3.1M1588.5 1595.6h6.2M1591.6 1599.3h6.2M1479.2 1603.1h6.2M1572.9 1603.1h6.2M1572.9 1606.8h6.2M1604.1 1606.8h9.4M1576 1610.6h9.4M1579.1 1614.4h9.4M1576 1618.1h6.2M1585.4 1618.1h3.1M1594.7 1618.1h12.5"/>
<path stroke="#efeef6" d="M1454.3 783.3h9.4M1466.7 783.3h18.7M1594.7 787.1h18.7M1435.5 790.9h6.2M1469.9 790.9h9.4M1594.7 802.1h6.2M1563.5 805.9h6.2M1588.5 805.9h3.1M1451.1 809.7h12.5M1469.9 809.7h6.2M1576 820.9h15.6M1582.2 828.5h9.4M1616.6 828.5h6.1M1504.2 836h9.4M1519.8 836h3.1M1529.2 836h9.4M1473 851h6.2M1516.7 851h3.1M1538.5 866.1h6.2M1560.4 873.6h12.5M1435.5 881.1h3.1M1454.3 881.1h3.1M1513.6 884.9h12.5M1529.2 884.9h18.7M1594.7 888.6h3.1M1607.2 888.6h9.4M1522.9 899.9h12.5M1538.5 899.9h3.1M1541.7 930h6.2M1538.5 937.5h3.1M1579.1 937.5h6.2M1519.8 941.3h6.2M1448 948.8h6.2M1494.8 948.8h3.1M1473 952.6h6.2M1510.4 952.6h3.1M1448 960.1h3.1M1510.4 967.6h9.4M1557.3 967.6h6.2M1601 1005.2h12.5M1463.6 1012.7h6.2M1460.5 1039h6.2M1576 1042.8h9.4M1607.2 1042.8h6.2M1526.1 1057.8h6.2M1566.6 1057.8h6.2M1588.5 1061.6h6.2M1541.7 1065.4h6.2M1582.2 1065.4h6.2M1510.4 1072.9h21.9M1448 1076.6h6.2M1485.5 1076.6h6.2M1498 1110.5h3.1M1535.4 1114.2h25M1604.1 1121.8h3.1M1451.1 1144.3h3.1M1466.7 1144.3h3.1M1479.2 1163.1h3.1M1529.2 1170.6h3.1M1535.4 1170.6h12.5M1538.5 1174.4h12.5M1572.9 1174.4h15.6M1522.9 1178.2h6.2M1557.3 1178.2h6.2M1466.7 1200.7h6.2M1501.1 1200.7h6.2M1494.8 1204.5h6.2M1610.3 1204.5h6.2M1460.5 1208.3h25M1491.7 1208.3h6.2M1597.8 1208.3h6.2M1610.3 1212h3.1M1494.8 1215.8h3.1M1494.8 1219.5h6.2M1610.3 1219.5h3.1M1604.1 1223.3h3.1M1607.2 1227.1h3.1M1494.8 1230.8h6.2M1582.2 1230.8h3.1M1494.8 1234.6h6.2M1588.5 1234.6h3.1M1591.6 1238.3h3.1M1429.4 1242.1h9.2M1498 1245.9h6.2M1597.8 1245.9h3.1M1494.8 1249.6h6.2M1594.7 1249.6h3.1M1576 1253.4h3.1M1494.8 1257.1h6.2M1597.8 1257.1h6.2M1498 1260.9h6.2M1604.1 1260.9h6.2M1494.8 1264.7h6.2M1601 1264.7h3.1M1494.8 1268.4h6.2M1610.3 1268.4h6.2M1591.6 1272.2h3.1M1607.2 1275.9h6.2M1597.8 1279.7h3.1M1457.4 1283.5h3.1M1488.6 1283.5h9.4M1597.8 1283.5h6.2M1610.3 1287.2h3.1M1498 1291h3.1M1588.5 1291h3.1M1501.1 1294.7h3.1M1597.8 1294.7h6.2M1594.7 1298.5h3.1M1498 1302.3h6.2M1591.6 1302.3h3.1M1504.2 1306h6.2M1597.8 1306h3.1M1498 1309.8h6.2M1588.5 1309.8h3.1M1588.5 1313.5h25M1504.2 1317.3h3.1M1585.4 1317.3h3.1M1501.1 1321.1h9.4M1601 1321.1h6.2M1501.1 1324.8h6.2M1601 1324.8h3.1M1501.1 1328.6h6.2M1613.5 1328.6h9.2M1504.2 1332.3h12.5M1588.5 1332.3h3.1M1507.3 1339.9h3.1M1591.6 1339.9h6.2M1591.6 1343.6h3.1M1601 1347.4h3.1M1582.2 1351.1h3.1M1594.7 1351.1h3.1M1504.2 1354.9h12.5M1591.6 1354.9h3.1M1510.4 1358.7h9.4M1604.1 1358.7h3.1M1610.3 1362.4h6.2M1613.5 1366.2h3.1M1479.2 1369.9h6.2M1588.5 1373.7h3.1M1473 1377.5h3.1M1582.2 1377.5h3.1M1510.4 1381.2h6.2M1597.8 1381.2h3.1M1516.7 1385h6.2M1498 1388.7h3.1M1504.2 1388.7h3.1M1591.6 1388.7h3.1M1513.6 1392.5h6.2M1579.1 1392.5h6.2M1582.2 1396.3h3.1M1516.7 1400h6.2M1576 1400h3.1M1594.7 1403.8h3.1M1591.6 1407.5h6.2M1582.2 1411.3h3.1M1563.5 1415.1h3.1M1576 1418.8h3.1M1516.7 1422.6h3.1M1588.5 1422.6h6.2M1585.4 1426.3h6.2M1601 1426.3h3.1M1591.6 1430.1h3.1M1572.9 1433.9h3.1M1601 1437.6h6.2M1572.9 1445.1h3.1M1582.2 1452.7h6.2M1579.1 1460.2h3.1M1466.7 1463.9h6.2M1588.5 1463.9h3.1M1576 1467.7h3.1M1597.8 1471.5h6.2M1582.2 1475.2h3.1M1585.4 1479h3.1M1579.1 1482.8h3.1M1572.9 1486.5h3.1M1607.2 1486.5h6.2M1473 1490.3h6.2M1582.2 1490.3h3.1M1594.7 1494h6.2M1594.7 1497.8h6.2M1585.4 1501.6h6.2M1579.1 1505.3h3.1M1566.6 1509.1h6.2M1576 1512.8h3.1M1585.4 1512.8h6.2M1607.2 1512.8h3.1M1588.5 1516.6h6.2M1607.2 1516.6h9.4M1585.4 1520.4h6.2M1582.2 1524.1h3.1M1585.4 1527.9h3.1M1582.2 1531.6h6.2M1591.6 1535.4h6.2M1579.1 1539.2h6.2M1594.7 1542.9h6.2M1585.4 1546.7h6.2M1585.4 1550.4h6.2M1579.1 1554.2h3.1M1591.6 1554.2h6.2M1572.9 1558h6.2M1579.1 1561.7h6.2M1588.5 1561.7h6.2M1613.5 1561.7h3.1M1582.2 1565.5h6.2M1485.5 1569.2h6.2M1582.2 1569.2h6.2M1441.8 1573h3.1M1588.5 1573h6.2M1576 1576.8h6.2M1501.1 1580.5h3.1M1582.2 1584.3h6.2M1572.9 1588h6.2M1441.8 1591.8h3.1M1582.2 1595.6h6.2M1582.2 1599.3h9.4M1485.5 1603.1h6.2M1566.6 1603.1h6.2M1566.6 1606.8h6.2M1569.8 1610.6h6.2M1572.9 1614.4h6.2M1569.8 1618.1h6.2"/>
<path stroke="#ecebf5" d="M1463.6 783.3h3.1M1441.8 790.9h3.1M1463.6 790.9h6.2M1601 802.1h3.1M1616.6 802.1h6.1M1569.8 805.9h3.1M1585.4 805.9h3.1M1591.6 828.5h25M1513.6 836h6.2M1522.9 836h6.2M1479.2 851h9.4M1510.4 851h6.2M1519.8 866.1h6.2M1532.3 866.1h6.2M1438.6 881.1h15.6M1526.1 884.9h3.1M1541.7 937.5h9.4M1572.9 937.5h6.2M1544.8 945h3.1M1554.1 945h3.1M1454.3 948.8h3.1M1488.6 948.8h6.2M1507.3 952.6h3.1M1463.6 960.1h3.1M1519.8 967.6h3.1M1554.1 967.6h3.1M1613.5 1005.2h9.2M1469.9 1012.7h3.1M1476.1 1012.7h6.2M1585.4 1042.8h9.4M1601 1042.8h6.2M1532.3 1057.8h3.1M1560.4 1057.8h6.2M1594.7 1061.6h28M1547.9 1065.4h9.4M1572.9 1065.4h9.4M1454.3 1076.6h6.2M1463.6 1076.6h3.1M1479.2 1076.6h6.2M1554.1 1091.7h3.1M1566.6 1091.7h3.1M1510.4 1110.5h3.1M1454.3 1144.3h12.5M1551 1174.4h21.9M1529.2 1178.2h6.2M1551 1178.2h6.2M1473 1200.7h9.4M1485.5 1200.7h3.1M1491.7 1200.7h9.4M1501.1 1204.5h3.1M1498 1208.3h6.2M1607.2 1212h3.1M1498 1215.8h6.2M1501.1 1219.5h3.1M1607.2 1219.5h3.1M1601 1223.3h3.1M1604.1 1227.1h3.1M1501.1 1230.8h3.1M1501.1 1234.6h3.1M1585.4 1234.6h3.1M1588.5 1238.3h3.1M1438.6 1242.1h6.2M1473 1242.1h3.1M1479.2 1242.1h3.1M1616.6 1242.1h6.1M1504.2 1245.9h3.1M1594.7 1245.9h3.1M1501.1 1249.6h3.1M1591.6 1249.6h3.1M1572.9 1253.4h3.1M1501.1 1257.1h3.1M1504.2 1260.9h3.1M1601 1260.9h3.1M1501.1 1264.7h3.1M1597.8 1264.7h3.1M1501.1 1268.4h3.1M1607.2 1268.4h3.1M1588.5 1272.2h3.1M1604.1 1275.9h3.1M1594.7 1279.7h3.1M1460.5 1283.5h3.1M1594.7 1283.5h3.1M1597.8 1287.2h3.1M1604.1 1287.2h6.2M1501.1 1291h6.2M1585.4 1291h3.1M1504.2 1294.7h6.2M1594.7 1294.7h3.1M1591.6 1298.5h3.1M1504.2 1302.3h6.2M1588.5 1302.3h3.1M1510.4 1306h9.4M1594.7 1306h3.1M1504.2 1309.8h6.2M1585.4 1309.8h3.1M1585.4 1313.5h3.1M1507.3 1317.3h6.2M1582.2 1317.3h3.1M1510.4 1321.1h9.4M1597.8 1321.1h3.1M1597.8 1324.8h3.1M1507.3 1328.6h6.2M1610.3 1328.6h3.1M1516.7 1332.3h3.1M1585.4 1332.3h3.1M1588.5 1339.9h3.1M1588.5 1343.6h3.1M1519.8 1347.4h3.1M1597.8 1347.4h3.1M1579.1 1351.1h3.1M1585.4 1351.1h3.1M1591.6 1351.1h3.1M1469.9 1354.9h3.1M1516.7 1354.9h3.1M1585.4 1354.9h6.2M1597.8 1358.7h6.2M1504.2 1362.4h15.6M1604.1 1362.4h6.2M1607.2 1366.2h6.2M1485.5 1369.9h6.2M1516.7 1373.7h3.1M1585.4 1373.7h3.1M1476.1 1377.5h3.1M1507.3 1377.5h9.4M1579.1 1377.5h3.1M1591.6 1381.2h6.2M1501.1 1388.7h3.1M1507.3 1388.7h9.4M1585.4 1388.7h6.2M1576 1392.5h3.1M1572.9 1400h3.1M1588.5 1407.5h3.1M1579.1 1411.3h3.1M1560.4 1415.1h3.1M1572.9 1418.8h3.1M1585.4 1422.6h3.1M1582.2 1426.3h3.1M1585.4 1430.1h6.2M1569.8 1433.9h3.1M1597.8 1437.6h3.1M1569.8 1445.1h3.1M1579.1 1452.7h3.1M1588.5 1456.4h3.1M1576 1460.2h3.1M1460.5 1463.9h6.2M1582.2 1463.9h6.2M1507.3 1467.7h15.6M1572.9 1467.7h3.1M1591.6 1471.5h6.2M1579.1 1475.2h3.1M1582.2 1479h3.1M1576 1482.8h3.1M1566.6 1486.5h6.2M1576 1486.5h9.4M1601 1486.5h6.2M1479.2 1490.3h6.2M1488.6 1490.3h3.1M1494.8 1490.3h6.2M1576 1490.3h6.2M1591.6 1494h3.1M1588.5 1497.8h6.2M1582.2 1501.6h3.1M1572.9 1505.3h6.2M1563.5 1509.1h3.1M1572.9 1512.8h3.1M1591.6 1512.8h3.1M1604.1 1512.8h3.1M1582.2 1516.6h6.2M1616.6 1516.6h6.1M1582.2 1520.4h3.1M1576 1524.1h6.2M1579.1 1527.9h6.2M1579.1 1531.6h3.1M1588.5 1535.4h3.1M1576 1539.2h3.1M1591.6 1542.9h3.1M1579.1 1546.7h6.2M1579.1 1550.4h6.2M1572.9 1554.2h6.2M1597.8 1554.2h6.2M1569.8 1558h3.1M1576 1561.7h3.1M1594.7 1561.7h3.1M1604.1 1561.7h9.4M1576 1565.5h6.2M1491.7 1569.2h15.6M1513.6 1569.2h6.2M1579.1 1569.2h3.1M1582.2 1573h6.2M1572.9 1576.8h3.1M1576 1584.3h6.2M1569.8 1588h3.1M1438.6 1591.8h3.1M1576 1595.6h6.2M1576 1599.3h6.2M1491.7 1603.1h6.2M1513.6 1603.1h6.2M1560.4 1603.1h6.2M1563.5 1606.8h3.1M1563.5 1610.6h6.2M1566.6 1614.4h6.2M1563.5 1618.1h6.2"/>
<path stroke="#e8e7f3" d="M1444.9 790.9h18.7M1604.1 802.1h12.5M1572.9 805.9h6.2M1582.2 805.9h3.1M1610.3 817.2h12.4M1488.6 851h9.4M1504.2 851h6.2M1526.1 866.1h6.2M1551 937.5h21.9M1547.9 945h6.2M1457.4 948.8h31.2M1479.2 952.6h9.4M1501.1 952.6h6.2M1451.1 960.1h3.1M1460.5 960.1h3.1M1522.9 967.6h12.5M1538.5 967.6h15.6M1466.7 975.1h18.7M1473 1012.7h3.1M1594.7 1042.8h6.2M1535.4 1057.8h9.4M1547.9 1057.8h12.5M1557.3 1065.4h15.6M1460.5 1076.6h3.1M1466.7 1076.6h12.5M1557.3 1091.7h3.1M1563.5 1091.7h3.1M1501.1 1110.5h9.4M1535.4 1178.2h15.6M1482.3 1200.7h3.1M1488.6 1200.7h3.1M1504.2 1204.5h6.2M1607.2 1204.5h3.1M1504.2 1208.3h3.1M1594.7 1208.3h3.1M1604.1 1212h3.1M1504.2 1215.8h6.2M1616.6 1215.8h6.1M1504.2 1219.5h6.2M1604.1 1219.5h3.1M1597.8 1223.3h3.1M1491.7 1227.1h18.7M1601 1227.1h3.1M1504.2 1230.8h6.2M1579.1 1230.8h3.1M1504.2 1234.6h6.2M1582.2 1234.6h3.1M1444.9 1242.1h21.9M1469.9 1242.1h3.1M1476.1 1242.1h3.1M1613.5 1242.1h3.1M1507.3 1245.9h6.2M1591.6 1245.9h3.1M1504.2 1249.6h6.2M1588.5 1249.6h3.1M1504.2 1257.1h6.2M1594.7 1257.1h3.1M1507.3 1260.9h6.2M1597.8 1260.9h3.1M1504.2 1264.7h6.2M1594.7 1264.7h3.1M1504.2 1268.4h6.2M1604.1 1268.4h3.1M1585.4 1272.2h3.1M1507.3 1275.9h6.2M1601 1275.9h3.1M1501.1 1279.7h9.4M1591.6 1279.7h3.1M1463.6 1283.5h3.1M1485.5 1283.5h3.1M1591.6 1283.5h3.1M1591.6 1287.2h6.2M1601 1287.2h3.1M1507.3 1291h6.2M1582.2 1291h3.1M1510.4 1294.7h9.4M1591.6 1294.7h3.1M1588.5 1298.5h3.1M1510.4 1302.3h9.4M1585.4 1302.3h3.1M1591.6 1306h3.1M1510.4 1309.8h9.4M1582.2 1309.8h3.1M1513.6 1317.3h9.4M1594.7 1321.1h3.1M1516.7 1324.8h3.1M1594.7 1324.8h3.1M1513.6 1328.6h6.2M1607.2 1328.6h3.1M1582.2 1332.3h3.1M1585.4 1339.9h3.1M1582.2 1343.6h6.2M1513.6 1347.4h6.2M1594.7 1347.4h3.1M1498 1351.1h3.1M1576 1351.1h3.1M1588.5 1351.1h3.1M1473 1354.9h12.5M1582.2 1354.9h3.1M1594.7 1358.7h3.1M1491.7 1362.4h12.5M1601 1362.4h3.1M1604.1 1366.2h3.1M1491.7 1369.9h6.2M1513.6 1373.7h3.1M1582.2 1373.7h3.1M1479.2 1377.5h3.1M1572.9 1377.5h6.2M1588.5 1381.2h3.1M1516.7 1388.7h6.2M1582.2 1388.7h3.1M1569.8 1400h3.1M1585.4 1407.5h3.1M1576 1411.3h3.1M1557.3 1415.1h3.1M1516.7 1418.8h3.1M1569.8 1418.8h3.1M1582.2 1422.6h3.1M1579.1 1426.3h3.1M1582.2 1430.1h3.1M1591.6 1437.6h6.2M1576 1441.4h3.1M1613.5 1441.4h3.1M1566.6 1445.1h3.1M1576 1448.9h18.7M1576 1452.7h3.1M1585.4 1456.4h3.1M1572.9 1460.2h3.1M1429.4 1463.9h12.4M1444.9 1463.9h6.2M1457.4 1463.9h3.1M1579.1 1463.9h3.1M1494.8 1467.7h12.5M1569.8 1467.7h3.1M1588.5 1471.5h3.1M1576 1475.2h3.1M1576 1479h6.2M1572.9 1482.8h3.1M1563.5 1486.5h3.1M1585.4 1486.5h15.6M1485.5 1490.3h3.1M1491.7 1490.3h3.1M1572.9 1490.3h3.1M1585.4 1494h6.2M1585.4 1497.8h3.1M1576 1501.6h6.2M1569.8 1505.3h3.1M1569.8 1512.8h3.1M1594.7 1512.8h9.4M1579.1 1516.6h3.1M1572.9 1524.1h3.1M1576 1527.9h3.1M1576 1531.6h3.1M1582.2 1535.4h6.2M1572.9 1539.2h3.1M1585.4 1542.9h6.2M1576 1546.7h3.1M1572.9 1550.4h6.2M1569.8 1554.2h3.1M1604.1 1554.2h12.5M1566.6 1558h3.1M1569.8 1561.7h6.2M1597.8 1561.7h6.2M1572.9 1565.5h3.1M1507.3 1569.2h6.2M1572.9 1569.2h6.2M1576 1573h6.2M1566.6 1576.8h6.2M1572.9 1584.3h3.1M1563.5 1588h6.2M1429.4 1591.8h9.2M1569.8 1595.6h6.2M1569.8 1599.3h6.2M1498 1603.1h15.6M1557.3 1603.1h3.1M1557.3 1606.8h6.2M1560.4 1610.6h3.1M1563.5 1614.4h3.1M1560.4 1618.1h3.1"/>
<path stroke="#e4e3f1" d="M1579.1 805.9h3.1M1591.6 817.2h18.7M1498 851h6.2M1488.6 952.6h12.5M1454.3 960.1h6.2M1535.4 967.6h3.1M1444.9 975.1h21.9M1454.3 1057.8h34.3M1544.8 1057.8h3.1M1560.4 1091.7h3.1M1516.7 1204.5h3.1M1604.1 1204.5h3.1M1507.3 1208.3h9.4M1591.6 1208.3h3.1M1601 1212h3.1M1510.4 1215.8h9.4M1613.5 1215.8h3.1M1510.4 1219.5h9.4M1510.4 1227.1h9.4M1597.8 1227.1h3.1M1510.4 1230.8h9.4M1576 1230.8h3.1M1510.4 1234.6h9.4M1585.4 1238.3h3.1M1466.7 1242.1h3.1M1610.3 1242.1h3.1M1513.6 1245.9h9.4M1588.5 1245.9h3.1M1510.4 1249.6h9.4M1585.4 1249.6h3.1M1569.8 1253.4h3.1M1510.4 1257.1h9.4M1591.6 1257.1h3.1M1513.6 1260.9h9.4M1510.4 1264.7h9.4M1591.6 1264.7h3.1M1510.4 1268.4h9.4M1601 1268.4h3.1M1494.8 1275.9h12.5M1513.6 1275.9h3.1M1597.8 1275.9h3.1M1491.7 1279.7h9.4M1510.4 1279.7h9.4M1479.2 1283.5h6.2M1588.5 1287.2h3.1M1513.6 1291h6.2M1585.4 1298.5h3.1M1582.2 1302.3h3.1M1588.5 1306h3.1M1579.1 1309.8h3.1M1516.7 1313.5h3.1M1582.2 1313.5h3.1M1579.1 1317.3h3.1M1591.6 1321.1h3.1M1513.6 1324.8h3.1M1591.6 1324.8h3.1M1604.1 1328.6h3.1M1579.1 1332.3h3.1M1516.7 1336.1h3.1M1582.2 1339.9h3.1M1504.2 1347.4h9.4M1591.6 1347.4h3.1M1491.7 1351.1h6.2M1572.9 1351.1h3.1M1591.6 1358.7h3.1M1597.8 1362.4h3.1M1519.8 1366.2h3.1M1601 1366.2h3.1M1498 1369.9h21.9M1507.3 1373.7h6.2M1579.1 1373.7h3.1M1482.3 1377.5h6.2M1501.1 1377.5h6.2M1569.8 1377.5h3.1M1585.4 1381.2h3.1M1572.9 1392.5h3.1M1566.6 1400h3.1M1582.2 1407.5h3.1M1572.9 1411.3h3.1M1554.1 1415.1h3.1M1513.6 1418.8h3.1M1566.6 1418.8h3.1M1579.1 1422.6h3.1M1516.7 1426.3h3.1M1576 1426.3h3.1M1579.1 1430.1h3.1M1566.6 1433.9h3.1M1588.5 1437.6h3.1M1572.9 1441.4h3.1M1604.1 1441.4h9.4M1616.6 1441.4h6.1M1572.9 1448.9h3.1M1572.9 1452.7h3.1M1582.2 1456.4h3.1M1569.8 1460.2h3.1M1441.8 1463.9h3.1M1451.1 1463.9h6.2M1576 1463.9h3.1M1566.6 1467.7h3.1M1582.2 1471.5h6.2M1572.9 1475.2h3.1M1572.9 1479h3.1M1569.8 1482.8h3.1M1569.8 1490.3h3.1M1582.2 1494h3.1M1579.1 1497.8h6.2M1572.9 1501.6h3.1M1566.6 1505.3h3.1M1560.4 1509.1h3.1M1566.6 1512.8h3.1M1569.8 1524.1h3.1M1572.9 1527.9h3.1M1572.9 1531.6h3.1M1579.1 1535.4h3.1M1513.6 1539.2h6.2M1569.8 1539.2h3.1M1516.7 1542.9h3.1M1582.2 1542.9h3.1M1572.9 1546.7h3.1M1569.8 1550.4h3.1M1566.6 1554.2h3.1M1616.6 1554.2h6.1M1563.5 1558h3.1M1566.6 1561.7h3.1M1566.6 1565.5h6.2M1569.8 1569.2h3.1M1569.8 1573h6.2M1563.5 1576.8h3.1M1566.6 1584.3h6.2M1560.4 1588h3.1M1566.6 1595.6h3.1M1566.6 1599.3h3.1M1554.1 1603.1h3.1M1554.1 1606.8h3.1M1554.1 1610.6h6.2M1557.3 1614.4h6.2M1554.1 1618.1h6.2"/>
<path stroke="#dfdfee" d="M1572.9 817.2h18.7M1501.1 1046.6h43.7M1513.6 1204.5h3.1M1601 1204.5h3.1M1610.3 1215.8h3.1M1601 1219.5h3.1M1507.3 1223.3h9.4M1594.7 1223.3h3.1M1579.1 1234.6h3.1M1510.4 1238.3h9.4M1582.2 1238.3h3.1M1607.2 1242.1h3.1M1588.5 1257.1h3.1M1594.7 1260.9h3.1M1588.5 1264.7h3.1M1582.2 1272.2h3.1M1482.3 1275.9h12.5M1594.7 1275.9h3.1M1588.5 1279.7h3.1M1466.7 1283.5h6.2M1476.1 1283.5h3.1M1588.5 1283.5h3.1M1585.4 1287.2h3.1M1579.1 1291h3.1M1588.5 1294.7h3.1M1516.7 1298.5h3.1M1582.2 1298.5h3.1M1579.1 1302.3h3.1M1585.4 1306h3.1M1510.4 1313.5h6.2M1579.1 1313.5h3.1M1588.5 1321.1h3.1M1507.3 1324.8h6.2M1588.5 1324.8h3.1M1601 1328.6h3.1M1576 1332.3h3.1M1507.3 1336.1h9.4M1579.1 1343.6h3.1M1588.5 1347.4h3.1M1569.8 1351.1h3.1M1579.1 1354.9h3.1M1588.5 1358.7h3.1M1594.7 1362.4h3.1M1516.7 1366.2h3.1M1597.8 1366.2h3.1M1572.9 1369.9h3.1M1504.2 1373.7h3.1M1576 1373.7h3.1M1488.6 1377.5h12.5M1582.2 1385h21.9M1579.1 1388.7h3.1M1569.8 1392.5h3.1M1579.1 1407.5h3.1M1569.8 1411.3h3.1M1576 1422.6h3.1M1504.2 1426.3h12.5M1572.9 1426.3h3.1M1576 1430.1h3.1M1563.5 1433.9h3.1M1585.4 1437.6h3.1M1569.8 1441.4h3.1M1563.5 1445.1h3.1M1569.8 1448.9h3.1M1569.8 1452.7h3.1M1579.1 1456.4h3.1M1566.6 1460.2h3.1M1572.9 1463.9h3.1M1563.5 1467.7h3.1M1513.6 1471.5h6.2M1579.1 1471.5h3.1M1569.8 1475.2h3.1M1513.6 1479h6.2M1569.8 1479h3.1M1566.6 1482.8h3.1M1560.4 1486.5h3.1M1566.6 1490.3h3.1M1579.1 1494h3.1M1576 1497.8h3.1M1569.8 1501.6h3.1M1510.4 1505.3h6.2M1563.5 1505.3h3.1M1557.3 1509.1h3.1M1563.5 1512.8h3.1M1566.6 1524.1h3.1M1513.6 1527.9h9.4M1569.8 1527.9h3.1M1569.8 1531.6h3.1M1576 1535.4h3.1M1504.2 1539.2h9.4M1563.5 1539.2h6.2M1507.3 1542.9h9.4M1576 1542.9h6.2M1519.8 1546.7h3.1M1566.6 1546.7h6.2M1566.6 1550.4h3.1M1563.5 1554.2h3.1M1560.4 1558h3.1M1563.5 1561.7h3.1M1563.5 1565.5h3.1M1563.5 1569.2h6.2M1566.6 1573h3.1M1557.3 1576.8h6.2M1566.6 1580.5h3.1M1560.4 1584.3h6.2M1554.1 1588h6.2M1560.4 1595.6h6.2M1560.4 1599.3h6.2M1547.9 1603.1h6.2M1551 1606.8h3.1M1547.9 1610.6h6.2M1551 1614.4h6.2M1551 1618.1h3.1"/>
<path stroke="#dbdbec" d="M1554.1 817.2h18.7M1510.4 1204.5h3.1M1588.5 1208.3h3.1M1597.8 1212h3.1M1597.8 1219.5h3.1M1498 1223.3h9.4M1591.6 1223.3h3.1M1594.7 1227.1h3.1M1572.9 1230.8h3.1M1501.1 1238.3h9.4M1604.1 1242.1h3.1M1585.4 1245.9h3.1M1582.2 1249.6h3.1M1566.6 1253.4h3.1M1591.6 1260.9h3.1M1597.8 1268.4h3.1M1579.1 1272.2h3.1M1591.6 1275.9h3.1M1585.4 1279.7h3.1M1473 1283.5h3.1M1585.4 1283.5h3.1M1576 1291h3.1M1585.4 1294.7h3.1M1504.2 1298.5h12.5M1582.2 1306h3.1M1576 1309.8h3.1M1501.1 1313.5h9.4M1576 1317.3h3.1M1585.4 1324.8h3.1M1597.8 1328.6h3.1M1501.1 1336.1h6.2M1579.1 1339.9h3.1M1576 1343.6h3.1M1585.4 1347.4h3.1M1576 1354.9h3.1M1585.4 1358.7h3.1M1591.6 1362.4h3.1M1510.4 1366.2h6.2M1594.7 1366.2h3.1M1569.8 1369.9h3.1M1566.6 1377.5h3.1M1582.2 1381.2h3.1M1579.1 1385h3.1M1576 1388.7h3.1M1566.6 1392.5h3.1M1563.5 1400h3.1M1576 1407.5h3.1M1566.6 1411.3h3.1M1591.6 1411.3h21.9M1551 1415.1h3.1M1563.5 1418.8h3.1M1572.9 1422.6h3.1M1494.8 1426.3h9.4M1569.8 1426.3h3.1M1572.9 1430.1h3.1M1560.4 1433.9h3.1M1582.2 1437.6h3.1M1566.6 1441.4h3.1M1560.4 1445.1h3.1M1566.6 1448.9h3.1M1566.6 1452.7h3.1M1576 1456.4h3.1M1591.6 1456.4h15.6M1563.5 1460.2h3.1M1569.8 1463.9h3.1M1560.4 1467.7h3.1M1504.2 1471.5h9.4M1576 1471.5h3.1M1566.6 1475.2h3.1M1504.2 1479h9.4M1566.6 1479h3.1M1563.5 1482.8h3.1M1557.3 1486.5h3.1M1576 1494h3.1M1572.9 1497.8h3.1M1566.6 1501.6h3.1M1507.3 1505.3h3.1M1560.4 1505.3h3.1M1554.1 1509.1h3.1M1560.4 1512.8h3.1M1513.6 1524.1h9.4M1563.5 1524.1h3.1M1504.2 1527.9h9.4M1566.6 1527.9h3.1M1566.6 1531.6h3.1M1572.9 1535.4h3.1M1498 1539.2h6.2M1494.8 1542.9h12.5M1572.9 1542.9h3.1M1516.7 1546.7h3.1M1563.5 1546.7h3.1M1560.4 1550.4h6.2M1560.4 1554.2h3.1M1557.3 1558h3.1M1494.8 1561.7h9.4M1557.3 1561.7h6.2M1557.3 1565.5h6.2M1560.4 1569.2h3.1M1560.4 1573h6.2M1554.1 1576.8h3.1M1563.5 1580.5h3.1M1557.3 1584.3h3.1M1551 1588h3.1M1544.8 1591.8h6.2M1557.3 1595.6h3.1M1554.1 1599.3h6.2M1544.8 1603.1h3.1M1544.8 1606.8h6.2M1541.7 1610.6h6.2M1510.4 1614.4h9.4M1547.9 1614.4h3.1M1544.8 1618.1h6.2"/>
<path stroke="#d7d7ea" d="M1607.2 790.9h15.5M1544.8 817.2h9.4M1504.2 1024h6.2M1597.8 1204.5h3.1M1516.7 1212h3.1M1607.2 1215.8h3.1M1488.6 1223.3h9.4M1591.6 1227.1h3.1M1576 1234.6h3.1M1488.6 1238.3h12.5M1579.1 1238.3h3.1M1585.4 1257.1h3.1M1585.4 1264.7h3.1M1594.7 1268.4h3.1M1519.8 1272.2h3.1M1513.6 1287.2h6.2M1582.2 1287.2h3.1M1494.8 1298.5h9.4M1579.1 1298.5h3.1M1576 1302.3h3.1M1572.9 1309.8h3.1M1494.8 1313.5h6.2M1576 1313.5h3.1M1572.9 1317.3h3.1M1585.4 1321.1h3.1M1594.7 1328.6h3.1M1572.9 1332.3h3.1M1576 1339.9h3.1M1572.9 1343.6h3.1M1582.2 1347.4h3.1M1566.6 1351.1h3.1M1572.9 1354.9h3.1M1582.2 1358.7h3.1M1588.5 1362.4h3.1M1504.2 1366.2h6.2M1591.6 1366.2h3.1M1572.9 1373.7h3.1M1563.5 1377.5h3.1M1579.1 1381.2h3.1M1576 1385h3.1M1572.9 1388.7h3.1M1566.6 1396.3h15.6M1519.8 1403.8h3.1M1572.9 1407.5h3.1M1560.4 1418.8h3.1M1569.8 1422.6h3.1M1488.6 1426.3h6.2M1569.8 1430.1h3.1M1579.1 1437.6h3.1M1563.5 1441.4h3.1M1557.3 1445.1h3.1M1563.5 1448.9h3.1M1572.9 1456.4h3.1M1444.9 1460.2h43.7M1566.6 1463.9h3.1M1494.8 1471.5h9.4M1572.9 1471.5h3.1M1494.8 1479h9.4M1563.5 1479h3.1M1554.1 1486.5h3.1M1563.5 1490.3h3.1M1572.9 1494h3.1M1569.8 1497.8h3.1M1563.5 1501.6h3.1M1501.1 1505.3h6.2M1557.3 1505.3h3.1M1557.3 1512.8h3.1M1563.5 1516.6h15.6M1463.6 1520.4h12.5M1563.5 1520.4h18.7M1504.2 1524.1h9.4M1560.4 1524.1h3.1M1498 1527.9h6.2M1563.5 1527.9h3.1M1563.5 1531.6h3.1M1569.8 1535.4h3.1M1560.4 1539.2h3.1M1482.3 1542.9h12.5M1569.8 1542.9h3.1M1513.6 1546.7h3.1M1560.4 1546.7h3.1M1557.3 1550.4h3.1M1557.3 1554.2h3.1M1554.1 1558h3.1M1491.7 1561.7h3.1M1504.2 1561.7h3.1M1554.1 1561.7h3.1M1554.1 1565.5h3.1M1557.3 1569.2h3.1M1554.1 1573h6.2M1551 1576.8h3.1M1557.3 1580.5h6.2M1551 1584.3h6.2M1544.8 1588h6.2M1541.7 1591.8h3.1M1551 1595.6h6.2M1516.7 1599.3h3.1M1547.9 1599.3h6.2M1538.5 1603.1h6.2M1538.5 1606.8h6.2M1532.3 1610.6h9.4M1504.2 1614.4h6.2M1541.7 1614.4h6.2M1538.5 1618.1h6.2"/>
<path stroke="#d2d2e7" d="M1582.2 790.9h25M1485.5 1024h18.7M1585.4 1208.3h3.1M1510.4 1212h6.2M1594.7 1212h3.1M1604.1 1215.8h3.1M1594.7 1219.5h3.1M1482.3 1223.3h6.2M1588.5 1223.3h3.1M1482.3 1238.3h6.2M1601 1242.1h3.1M1582.2 1245.9h3.1M1579.1 1249.6h3.1M1588.5 1260.9h3.1M1576 1272.2h3.1M1588.5 1275.9h3.1M1582.2 1279.7h3.1M1513.6 1283.5h6.2M1582.2 1283.5h3.1M1504.2 1287.2h9.4M1579.1 1287.2h3.1M1572.9 1291h3.1M1582.2 1294.7h3.1M1485.5 1298.5h9.4M1579.1 1306h3.1M1572.9 1313.5h3.1M1582.2 1321.1h3.1M1582.2 1324.8h3.1M1569.8 1332.3h3.1M1516.7 1339.9h3.1M1572.9 1339.9h3.1M1510.4 1343.6h9.4M1569.8 1343.6h3.1M1579.1 1347.4h3.1M1585.4 1362.4h3.1M1588.5 1366.2h3.1M1566.6 1369.9h3.1M1569.8 1373.7h3.1M1560.4 1377.5h3.1M1576 1381.2h3.1M1569.8 1388.7h3.1M1563.5 1392.5h3.1M1563.5 1396.3h3.1M1560.4 1400h3.1M1516.7 1403.8h3.1M1569.8 1407.5h3.1M1563.5 1411.3h3.1M1547.9 1415.1h3.1M1557.3 1433.9h3.1M1576 1437.6h3.1M1560.4 1441.4h3.1M1560.4 1448.9h3.1M1563.5 1452.7h3.1M1569.8 1456.4h3.1M1560.4 1460.2h3.1M1563.5 1463.9h3.1M1557.3 1467.7h3.1M1491.7 1471.5h3.1M1566.6 1471.5h6.2M1563.5 1475.2h3.1M1491.7 1479h3.1M1560.4 1482.8h3.1M1560.4 1490.3h3.1M1569.8 1494h3.1M1566.6 1497.8h3.1M1560.4 1501.6h3.1M1498 1505.3h3.1M1554.1 1505.3h3.1M1551 1509.1h3.1M1516.7 1516.6h3.1M1560.4 1516.6h3.1M1441.8 1520.4h21.9M1560.4 1520.4h3.1M1498 1524.1h6.2M1557.3 1524.1h3.1M1494.8 1527.9h3.1M1560.4 1527.9h3.1M1560.4 1531.6h3.1M1566.6 1535.4h3.1M1557.3 1539.2h3.1M1479.2 1542.9h3.1M1563.5 1542.9h6.2M1510.4 1546.7h3.1M1557.3 1546.7h3.1M1554.1 1550.4h3.1M1554.1 1554.2h3.1M1551 1558h3.1M1507.3 1561.7h9.4M1551 1561.7h3.1M1551 1565.5h3.1M1554.1 1569.2h3.1M1547.9 1573h6.2M1544.8 1576.8h6.2M1551 1580.5h6.2M1544.8 1584.3h6.2M1538.5 1588h6.2M1538.5 1591.8h3.1M1544.8 1595.6h6.2M1513.6 1599.3h3.1M1541.7 1599.3h6.2M1532.3 1603.1h6.2M1526.1 1606.8h12.5M1513.6 1610.6h18.7M1498 1614.4h6.2M1532.3 1614.4h9.4M1532.3 1618.1h6.2"/>
<path stroke="#cccce4" d="M1569.8 790.9h12.5M1476.1 1024h9.4M1594.7 1204.5h3.1M1504.2 1212h6.2M1588.5 1227.1h3.1M1569.8 1230.8h3.1M1572.9 1234.6h3.1M1576 1238.3h3.1M1563.5 1253.4h3.1M1582.2 1257.1h3.1M1582.2 1264.7h3.1M1591.6 1268.4h3.1M1585.4 1275.9h3.1M1510.4 1283.5h3.1M1498 1287.2h6.2M1579.1 1294.7h3.1M1482.3 1298.5h3.1M1576 1298.5h3.1M1572.9 1302.3h3.1M1576 1306h3.1M1579.1 1324.8h3.1M1591.6 1328.6h3.1M1513.6 1339.9h3.1M1501.1 1343.6h9.4M1563.5 1351.1h3.1M1569.8 1354.9h3.1M1579.1 1358.7h3.1M1582.2 1362.4h3.1M1585.4 1366.2h3.1M1557.3 1377.5h3.1M1572.9 1385h3.1M1560.4 1392.5h3.1M1510.4 1403.8h6.2M1485.5 1407.5h9.4M1560.4 1411.3h3.1M1544.8 1415.1h3.1M1557.3 1418.8h3.1M1566.6 1422.6h3.1M1563.5 1426.3h6.2M1566.6 1430.1h3.1M1572.9 1437.6h3.1M1557.3 1441.4h3.1M1554.1 1445.1h3.1M1557.3 1448.9h3.1M1560.4 1452.7h3.1M1566.6 1456.4h3.1M1557.3 1460.2h3.1M1560.4 1463.9h3.1M1554.1 1467.7h3.1M1563.5 1471.5h3.1M1560.4 1475.2h3.1M1560.4 1479h3.1M1557.3 1482.8h3.1M1551 1486.5h3.1M1501.1 1490.3h3.1M1557.3 1490.3h3.1M1566.6 1494h3.1M1563.5 1497.8h3.1M1557.3 1501.6h3.1M1551 1505.3h3.1M1547.9 1509.1h3.1M1554.1 1512.8h3.1M1557.3 1516.6h3.1M1429.4 1520.4h12.4M1557.3 1520.4h3.1M1491.7 1524.1h6.2M1557.3 1527.9h3.1M1557.3 1531.6h3.1M1563.5 1535.4h3.1M1554.1 1539.2h3.1M1560.4 1542.9h3.1M1551 1546.7h6.2M1547.9 1550.4h6.2M1551 1554.2h3.1M1547.9 1558h3.1M1516.7 1561.7h3.1M1544.8 1561.7h6.2M1544.8 1565.5h6.2M1547.9 1569.2h6.2M1541.7 1573h6.2M1541.7 1576.8h3.1M1544.8 1580.5h6.2M1538.5 1584.3h6.2M1532.3 1588h6.2M1532.3 1591.8h6.2M1551 1591.8h21.9M1538.5 1595.6h6.2M1507.3 1599.3h6.2M1532.3 1599.3h9.4M1519.8 1603.1h12.5M1507.3 1610.6h6.2M1519.8 1614.4h12.5M1519.8 1618.1h12.5"/>
<path stroke="#c7c7e2" d="M1613.5 877.3h9.2M1582.2 1208.3h3.1M1498 1212h6.2M1591.6 1212h3.1M1601 1215.8h3.1M1591.6 1219.5h3.1M1585.4 1223.3h3.1M1597.8 1242.1h3.1M1579.1 1245.9h3.1M1513.6 1253.4h6.2M1585.4 1260.9h3.1M1588.5 1268.4h3.1M1572.9 1272.2h3.1M1579.1 1279.7h3.1M1504.2 1283.5h6.2M1579.1 1283.5h3.1M1488.6 1287.2h9.4M1576 1287.2h3.1M1569.8 1309.8h3.1M1569.8 1313.5h3.1M1569.8 1317.3h3.1M1579.1 1321.1h3.1M1588.5 1328.6h3.1M1566.6 1332.3h3.1M1572.9 1336.1h25M1569.8 1339.9h3.1M1494.8 1343.6h6.2M1566.6 1343.6h3.1M1576 1347.4h3.1M1576 1358.7h3.1M1582.2 1366.2h3.1M1563.5 1369.9h3.1M1566.6 1373.7h3.1M1519.8 1381.2h3.1M1572.9 1381.2h3.1M1569.8 1385h3.1M1566.6 1388.7h3.1M1560.4 1396.3h3.1M1557.3 1400h3.1M1504.2 1403.8h6.2M1494.8 1407.5h15.6M1566.6 1407.5h3.1M1563.5 1422.6h3.1M1560.4 1426.3h3.1M1563.5 1430.1h3.1M1554.1 1433.9h3.1M1569.8 1437.6h3.1M1579.1 1441.4h25M1551 1445.1h3.1M1576 1445.1h12.5M1554.1 1448.9h3.1M1557.3 1452.7h3.1M1563.5 1456.4h3.1M1557.3 1463.9h3.1M1560.4 1471.5h3.1M1557.3 1475.2h3.1M1557.3 1479h3.1M1547.9 1486.5h3.1M1510.4 1490.3h3.1M1563.5 1494h3.1M1560.4 1497.8h3.1M1554.1 1501.6h3.1M1547.9 1505.3h3.1M1551 1512.8h3.1M1513.6 1516.6h3.1M1554.1 1516.6h3.1M1554.1 1520.4h3.1M1554.1 1524.1h3.1M1554.1 1527.9h3.1M1554.1 1531.6h3.1M1557.3 1535.4h6.2M1551 1539.2h3.1M1557.3 1542.9h3.1M1547.9 1546.7h3.1M1544.8 1550.4h3.1M1547.9 1554.2h3.1M1541.7 1558h6.2M1541.7 1561.7h3.1M1516.7 1565.5h3.1M1538.5 1565.5h6.2M1544.8 1569.2h3.1M1529.2 1573h12.5M1535.4 1576.8h6.2M1535.4 1580.5h9.4M1526.1 1584.3h12.5M1519.8 1588h12.5M1526.1 1591.8h6.2M1526.1 1595.6h12.5M1501.1 1599.3h6.2M1519.8 1599.3h12.5M1585.4 1603.1h18.7M1498 1610.6h9.4"/>
<path stroke="#c1c1df" d="M1610.3 877.3h3.1M1591.6 1204.5h3.1M1491.7 1212h6.2M1585.4 1227.1h3.1M1576 1249.6h3.1M1510.4 1253.4h3.1M1579.1 1257.1h3.1M1579.1 1264.7h3.1M1582.2 1275.9h3.1M1501.1 1283.5h3.1M1569.8 1291h3.1M1576 1294.7h3.1M1572.9 1298.5h3.1M1569.8 1302.3h3.1M1572.9 1306h3.1M1576 1324.8h3.1M1569.8 1336.1h3.1M1510.4 1339.9h3.1M1485.5 1343.6h9.4M1563.5 1343.6h3.1M1501.1 1351.1h3.1M1560.4 1351.1h3.1M1566.6 1354.9h3.1M1572.9 1358.7h3.1M1579.1 1362.4h3.1M1579.1 1366.2h3.1M1560.4 1369.9h3.1M1576 1369.9h15.6M1554.1 1377.5h3.1M1569.8 1381.2h3.1M1566.6 1385h3.1M1563.5 1388.7h3.1M1557.3 1392.5h3.1M1557.3 1396.3h3.1M1501.1 1403.8h3.1M1510.4 1407.5h6.2M1563.5 1407.5h3.1M1557.3 1411.3h3.1M1541.7 1415.1h3.1M1554.1 1418.8h3.1M1560.4 1430.1h3.1M1566.6 1437.6h3.1M1554.1 1441.4h3.1M1551 1448.9h3.1M1554.1 1460.2h3.1M1554.1 1463.9h3.1M1551 1467.7h3.1M1557.3 1471.5h3.1M1554.1 1479h3.1M1554.1 1482.8h3.1M1507.3 1490.3h3.1M1513.6 1490.3h6.2M1554.1 1490.3h3.1M1560.4 1494h3.1M1554.1 1497.8h6.2M1551 1501.6h3.1M1544.8 1505.3h3.1M1544.8 1509.1h3.1M1547.9 1512.8h3.1M1551 1516.6h3.1M1551 1520.4h3.1M1551 1524.1h3.1M1551 1527.9h3.1M1554.1 1535.4h3.1M1547.9 1539.2h3.1M1554.1 1542.9h3.1M1544.8 1546.7h3.1M1541.7 1550.4h3.1M1541.7 1554.2h6.2M1538.5 1558h3.1M1535.4 1561.7h6.2M1532.3 1565.5h6.2M1541.7 1569.2h3.1M1519.8 1573h9.4M1522.9 1576.8h12.5M1522.9 1580.5h12.5M1569.8 1580.5h37.5M1519.8 1584.3h6.2M1519.8 1591.8h6.2M1522.9 1595.6h3.1M1498 1599.3h3.1M1491.7 1610.6h6.2"/>
<path stroke="#bcbcdc" d="M1607.2 877.3h3.1M1579.1 1208.3h3.1M1588.5 1212h3.1M1597.8 1215.8h3.1M1566.6 1230.8h3.1M1569.8 1234.6h3.1M1572.9 1238.3h3.1M1594.7 1242.1h3.1M1576 1245.9h3.1M1504.2 1253.4h6.2M1560.4 1253.4h3.1M1582.2 1260.9h3.1M1585.4 1268.4h3.1M1569.8 1272.2h3.1M1576 1279.7h3.1M1498 1283.5h3.1M1576 1283.5h3.1M1572.9 1287.2h3.1M1566.6 1309.8h3.1M1566.6 1317.3h3.1M1576 1321.1h3.1M1585.4 1328.6h3.1M1563.5 1332.3h3.1M1566.6 1339.9h3.1M1482.3 1343.6h3.1M1572.9 1347.4h3.1M1504.2 1351.1h9.4M1563.5 1354.9h3.1M1576 1362.4h3.1M1563.5 1373.7h3.1M1551 1377.5h3.1M1516.7 1381.2h3.1M1554.1 1400h3.1M1551 1418.8h3.1M1560.4 1422.6h3.1M1557.3 1426.3h3.1M1551 1433.9h3.1M1563.5 1437.6h3.1M1551 1441.4h3.1M1547.9 1445.1h3.1M1547.9 1448.9h3.1M1554.1 1452.7h3.1M1560.4 1456.4h3.1M1551 1460.2h3.1M1547.9 1467.7h3.1M1554.1 1471.5h3.1M1554.1 1475.2h3.1M1551 1479h3.1M1551 1482.8h3.1M1544.8 1486.5h3.1M1504.2 1490.3h3.1M1551 1490.3h3.1M1557.3 1494h3.1M1551 1497.8h3.1M1544.8 1501.6h6.2M1541.7 1505.3h3.1M1541.7 1509.1h3.1M1510.4 1516.6h3.1M1547.9 1516.6h3.1M1547.9 1520.4h3.1M1547.9 1524.1h3.1M1547.9 1527.9h3.1M1551 1531.6h3.1M1551 1535.4h3.1M1544.8 1539.2h3.1M1547.9 1542.9h6.2M1538.5 1546.7h6.2M1535.4 1550.4h6.2M1538.5 1554.2h3.1M1535.4 1558h3.1M1526.1 1561.7h9.4M1513.6 1565.5h3.1M1519.8 1565.5h12.5M1535.4 1569.2h6.2M1488.6 1610.6h3.1"/>
<path stroke="#b6b6d9" d="M1604.1 877.3h3.1M1588.5 1219.5h3.1M1582.2 1223.3h3.1M1572.9 1249.6h3.1M1501.1 1253.4h3.1M1576 1264.7h3.1M1579.1 1275.9h3.1M1566.6 1291h3.1M1572.9 1294.7h3.1M1569.8 1298.5h3.1M1569.8 1306h3.1M1566.6 1313.5h3.1M1572.9 1321.1h3.1M1572.9 1324.8h3.1M1566.6 1336.1h3.1M1563.5 1339.9h3.1M1560.4 1343.6h3.1M1569.8 1347.4h3.1M1513.6 1351.1h3.1M1557.3 1351.1h3.1M1569.8 1358.7h3.1M1572.9 1362.4h3.1M1576 1366.2h3.1M1557.3 1369.9h3.1M1547.9 1377.5h3.1M1566.6 1381.2h3.1M1563.5 1385h3.1M1560.4 1388.7h3.1M1554.1 1392.5h3.1M1554.1 1396.3h3.1M1557.3 1403.8h37.5M1560.4 1407.5h3.1M1554.1 1411.3h3.1M1538.5 1415.1h3.1M1557.3 1422.6h3.1M1557.3 1430.1h3.1M1560.4 1437.6h3.1M1547.9 1441.4h3.1M1544.8 1448.9h3.1M1551 1452.7h3.1M1557.3 1456.4h3.1M1551 1463.9h3.1M1547.9 1471.5h6.2M1551 1475.2h3.1M1541.7 1486.5h3.1M1547.9 1490.3h3.1M1554.1 1494h3.1M1547.9 1497.8h3.1M1541.7 1501.6h3.1M1538.5 1505.3h3.1M1538.5 1509.1h3.1M1544.8 1512.8h3.1M1544.8 1516.6h3.1M1541.7 1520.4h6.2M1544.8 1524.1h3.1M1544.8 1527.9h3.1M1547.9 1531.6h3.1M1547.9 1535.4h3.1M1541.7 1539.2h3.1M1544.8 1542.9h3.1M1532.3 1546.7h6.2M1526.1 1550.4h9.4M1532.3 1554.2h6.2M1532.3 1558h3.1M1519.8 1561.7h6.2M1510.4 1565.5h3.1M1522.9 1569.2h12.5"/>
<path stroke="#b1afd6" d="M1601 877.3h3.1M1448 1159.4h3.1M1588.5 1204.5h3.1M1585.4 1212h3.1M1594.7 1215.8h3.1M1582.2 1227.1h3.1M1591.6 1242.1h3.1M1494.8 1253.4h6.2M1576 1257.1h3.1M1579.1 1260.9h3.1M1582.2 1268.4h3.1M1572.9 1283.5h3.1M1566.6 1302.3h3.1M1563.5 1309.8h3.1M1582.2 1328.6h3.1M1560.4 1332.3h3.1M1560.4 1354.9h3.1M1566.6 1358.7h3.1M1572.9 1366.2h3.1M1560.4 1373.7h3.1M1560.4 1385h3.1M1551 1400h3.1M1557.3 1407.5h3.1M1551 1411.3h3.1M1547.9 1418.8h3.1M1554.1 1426.3h3.1M1554.1 1430.1h3.1M1547.9 1433.9h3.1M1557.3 1437.6h3.1M1544.8 1445.1h3.1M1554.1 1456.4h3.1M1547.9 1460.2h3.1M1547.9 1463.9h3.1M1544.8 1467.7h3.1M1544.8 1471.5h3.1M1547.9 1475.2h3.1M1547.9 1479h3.1M1547.9 1482.8h3.1M1538.5 1486.5h3.1M1551 1494h3.1M1544.8 1497.8h3.1M1538.5 1501.6h3.1M1535.4 1505.3h3.1M1541.7 1512.8h3.1M1538.5 1516.6h6.2M1538.5 1520.4h3.1M1541.7 1524.1h3.1M1538.5 1527.9h6.2M1544.8 1531.6h3.1M1544.8 1535.4h3.1M1538.5 1539.2h3.1M1538.5 1542.9h6.2M1522.9 1546.7h9.4M1516.7 1550.4h9.4M1522.9 1554.2h9.4M1522.9 1558h9.4M1519.8 1569.2h3.1"/>
<path stroke="#aba9d4" d="M1597.8 877.3h3.1M1444.9 1159.4h3.1M1576 1208.3h3.1M1563.5 1230.8h3.1M1566.6 1234.6h3.1M1569.8 1238.3h3.1M1572.9 1245.9h3.1M1572.9 1264.7h3.1M1566.6 1272.2h3.1M1576 1275.9h3.1M1572.9 1279.7h3.1M1569.8 1287.2h3.1M1566.6 1298.5h3.1M1566.6 1306h3.1M1563.5 1313.5h3.1M1563.5 1317.3h3.1M1569.8 1321.1h3.1M1569.8 1324.8h3.1M1579.1 1328.6h3.1M1563.5 1336.1h3.1M1560.4 1339.9h3.1M1557.3 1343.6h3.1M1566.6 1347.4h3.1M1554.1 1351.1h3.1M1569.8 1362.4h3.1M1554.1 1369.9h3.1M1544.8 1377.5h3.1M1563.5 1381.2h3.1M1557.3 1388.7h3.1M1551 1392.5h3.1M1551 1396.3h3.1M1554.1 1403.8h3.1M1535.4 1415.1h3.1M1554.1 1422.6h3.1M1551 1426.3h3.1M1551 1430.1h3.1M1554.1 1437.6h3.1M1544.8 1441.4h3.1M1541.7 1445.1h3.1M1541.7 1448.9h3.1M1547.9 1452.7h3.1M1551 1456.4h3.1M1544.8 1460.2h3.1M1544.8 1463.9h3.1M1541.7 1467.7h3.1M1541.7 1471.5h3.1M1544.8 1479h3.1M1544.8 1482.8h3.1M1535.4 1486.5h3.1M1544.8 1490.3h3.1M1544.8 1494h6.2M1538.5 1497.8h6.2M1532.3 1501.6h6.2M1532.3 1505.3h3.1M1535.4 1509.1h3.1M1538.5 1512.8h3.1M1535.4 1516.6h3.1M1532.3 1520.4h6.2M1535.4 1524.1h6.2M1535.4 1527.9h3.1M1541.7 1531.6h3.1M1538.5 1535.4h6.2M1532.3 1539.2h6.2M1532.3 1542.9h6.2M1519.8 1558h3.1"/>
<path stroke="#a6a2d1" d="M1594.7 877.3h3.1M1441.8 1159.4h3.1M1585.4 1204.5h3.1M1591.6 1215.8h3.1M1585.4 1219.5h3.1M1579.1 1223.3h3.1M1579.1 1227.1h3.1M1588.5 1242.1h3.1M1569.8 1249.6h3.1M1557.3 1253.4h3.1M1576 1260.9h3.1M1563.5 1291h3.1M1569.8 1294.7h3.1M1563.5 1302.3h3.1M1557.3 1332.3h3.1M1554.1 1343.6h3.1M1557.3 1354.9h3.1M1563.5 1358.7h3.1M1566.6 1362.4h3.1M1569.8 1366.2h3.1M1557.3 1373.7h3.1M1541.7 1377.5h3.1M1560.4 1381.2h3.1M1557.3 1385h3.1M1554.1 1388.7h3.1M1547.9 1396.3h3.1M1547.9 1400h3.1M1551 1403.8h3.1M1554.1 1407.5h3.1M1547.9 1411.3h3.1M1544.8 1418.8h3.1M1551 1422.6h3.1M1547.9 1430.1h3.1M1544.8 1433.9h3.1M1551 1437.6h3.1M1541.7 1441.4h3.1M1538.5 1448.9h3.1M1544.8 1452.7h3.1M1541.7 1460.2h3.1M1541.7 1463.9h3.1M1538.5 1467.7h3.1M1532.3 1471.5h9.4M1544.8 1475.2h3.1M1541.7 1479h3.1M1541.7 1482.8h3.1M1532.3 1486.5h3.1M1541.7 1490.3h3.1M1541.7 1494h3.1M1532.3 1497.8h6.2M1522.9 1501.6h9.4M1526.1 1505.3h6.2M1532.3 1509.1h3.1M1535.4 1512.8h3.1M1526.1 1516.6h9.4M1526.1 1520.4h6.2M1532.3 1524.1h3.1M1526.1 1527.9h9.4M1538.5 1531.6h3.1M1532.3 1535.4h6.2M1526.1 1539.2h6.2M1522.9 1542.9h9.4"/>
<path stroke="#a09cce" d="M1591.6 877.3h3.1M1582.2 1212h3.1M1572.9 1257.1h3.1M1579.1 1268.4h3.1M1572.9 1275.9h3.1M1569.8 1283.5h3.1M1566.6 1287.2h3.1M1563.5 1306h3.1M1560.4 1309.8h3.1M1566.6 1321.1h3.1M1566.6 1324.8h3.1M1576 1328.6h3.1M1560.4 1336.1h3.1M1557.3 1339.9h3.1M1563.5 1347.4h3.1M1551 1351.1h3.1M1560.4 1358.7h3.1M1566.6 1366.2h3.1M1551 1369.9h3.1M1538.5 1377.5h3.1M1554.1 1385h3.1M1547.9 1392.5h3.1M1547.9 1403.8h3.1M1551 1407.5h3.1M1532.3 1415.1h3.1M1547.9 1426.3h3.1M1541.7 1433.9h3.1M1547.9 1437.6h3.1M1538.5 1441.4h3.1M1485.5 1445.1h9.4M1538.5 1445.1h3.1M1532.3 1448.9h6.2M1541.7 1452.7h3.1M1547.9 1456.4h3.1M1535.4 1463.9h6.2M1519.8 1471.5h12.5M1541.7 1475.2h3.1M1538.5 1479h3.1M1529.2 1486.5h3.1M1538.5 1490.3h3.1M1538.5 1494h3.1M1519.8 1497.8h12.5M1516.7 1505.3h9.4M1526.1 1509.1h6.2M1529.2 1512.8h6.2M1519.8 1516.6h6.2M1519.8 1520.4h6.2M1522.9 1524.1h9.4M1522.9 1527.9h3.1M1532.3 1531.6h6.2M1519.8 1535.4h12.5M1519.8 1539.2h6.2M1519.8 1542.9h3.1"/>
<path stroke="#9b96cb" d="M1438.6 1159.4h3.1M1566.6 1238.3h3.1M1569.8 1245.9h3.1M1569.8 1264.7h3.1M1563.5 1272.2h3.1M1569.8 1279.7h3.1M1566.6 1294.7h3.1M1563.5 1298.5h3.1M1560.4 1313.5h3.1M1560.4 1317.3h3.1M1554.1 1332.3h3.1M1551 1343.6h3.1M1554.1 1354.9h3.1M1563.5 1362.4h3.1M1563.5 1366.2h3.1M1554.1 1373.7h3.1M1535.4 1377.5h3.1M1557.3 1381.2h3.1M1551 1388.7h3.1M1544.8 1396.3h3.1M1544.8 1400h3.1M1544.8 1411.3h3.1M1541.7 1418.8h3.1M1547.9 1422.6h3.1M1544.8 1426.3h3.1M1544.8 1430.1h3.1M1544.8 1437.6h3.1M1535.4 1441.4h3.1M1494.8 1445.1h15.6M1535.4 1445.1h3.1M1529.2 1448.9h3.1M1544.8 1456.4h3.1M1538.5 1460.2h3.1M1532.3 1463.9h3.1M1535.4 1467.7h3.1M1538.5 1475.2h3.1M1535.4 1479h3.1M1538.5 1482.8h3.1M1522.9 1486.5h6.2M1529.2 1494h9.4M1522.9 1509.1h3.1M1522.9 1512.8h6.2M1522.9 1531.6h9.4"/>
<path stroke="#9691c8" d="M1435.5 1159.4h3.1M1572.9 1208.3h3.1M1588.5 1215.8h3.1M1582.2 1219.5h3.1M1576 1223.3h3.1M1576 1227.1h3.1M1560.4 1230.8h3.1M1563.5 1234.6h3.1M1585.4 1242.1h3.1M1572.9 1260.9h3.1M1576 1268.4h3.1M1566.6 1283.5h3.1M1560.4 1291h3.1M1560.4 1302.3h3.1M1560.4 1306h3.1M1572.9 1328.6h3.1M1557.3 1336.1h3.1M1554.1 1339.9h3.1M1560.4 1347.4h3.1M1547.9 1351.1h3.1M1557.3 1358.7h3.1M1560.4 1362.4h3.1M1547.9 1369.9h3.1M1532.3 1377.5h3.1M1551 1385h3.1M1547.9 1388.7h3.1M1544.8 1392.5h3.1M1544.8 1403.8h3.1M1547.9 1407.5h3.1M1541.7 1411.3h3.1M1529.2 1415.1h3.1M1538.5 1418.8h3.1M1541.7 1430.1h3.1M1538.5 1433.9h3.1M1541.7 1437.6h3.1M1532.3 1441.4h3.1M1510.4 1445.1h9.4M1532.3 1445.1h3.1M1519.8 1448.9h9.4M1538.5 1452.7h3.1M1541.7 1456.4h3.1M1535.4 1460.2h3.1M1522.9 1463.9h9.4M1532.3 1467.7h3.1M1535.4 1475.2h3.1M1532.3 1479h3.1M1535.4 1482.8h3.1M1519.8 1486.5h3.1M1535.4 1490.3h3.1M1522.9 1494h6.2"/>
<path stroke="#908bc6" d="M1429.4 1159.4h6.1M1582.2 1204.5h3.1M1579.1 1212h3.1M1566.6 1249.6h3.1M1554.1 1253.4h3.1M1569.8 1257.1h3.1M1566.6 1264.7h3.1M1560.4 1272.2h3.1M1569.8 1275.9h3.1M1563.5 1287.2h3.1M1560.4 1298.5h3.1M1557.3 1309.8h3.1M1557.3 1313.5h3.1M1563.5 1321.1h3.1M1563.5 1324.8h3.1M1551 1332.3h3.1M1547.9 1343.6h3.1M1551 1354.9h3.1M1554.1 1358.7h3.1M1560.4 1366.2h3.1M1551 1373.7h3.1M1529.2 1377.5h3.1M1554.1 1381.2h3.1M1547.9 1385h3.1M1541.7 1396.3h3.1M1541.7 1400h3.1M1541.7 1403.8h3.1M1544.8 1407.5h3.1M1526.1 1415.1h3.1M1544.8 1422.6h3.1M1541.7 1426.3h3.1M1538.5 1430.1h3.1M1538.5 1437.6h3.1M1526.1 1441.4h6.2M1529.2 1445.1h3.1M1516.7 1448.9h3.1M1535.4 1452.7h3.1M1538.5 1456.4h3.1M1529.2 1460.2h6.2M1526.1 1467.7h6.2M1529.2 1475.2h6.2M1526.1 1479h6.2M1532.3 1482.8h3.1M1529.2 1490.3h6.2"/>
<path stroke="#8b86c3" d="M1563.5 1238.3h3.1M1582.2 1242.1h3.1M1566.6 1245.9h3.1M1566.6 1279.7h3.1M1563.5 1294.7h3.1M1557.3 1306h3.1M1557.3 1317.3h3.1M1554.1 1336.1h3.1M1551 1339.9h3.1M1544.8 1343.6h3.1M1557.3 1347.4h3.1M1557.3 1362.4h3.1M1557.3 1366.2h3.1M1544.8 1369.9h3.1M1522.9 1377.5h6.2M1544.8 1385h3.1M1544.8 1388.7h3.1M1541.7 1392.5h3.1M1538.5 1396.3h3.1M1538.5 1403.8h3.1M1541.7 1407.5h3.1M1538.5 1411.3h3.1M1522.9 1415.1h3.1M1535.4 1418.8h3.1M1541.7 1422.6h3.1M1538.5 1426.3h3.1M1535.4 1430.1h3.1M1535.4 1433.9h3.1M1532.3 1437.6h6.2M1519.8 1441.4h6.2M1526.1 1445.1h3.1M1532.3 1452.7h3.1M1532.3 1456.4h6.2M1522.9 1460.2h6.2M1522.9 1467.7h3.1M1522.9 1475.2h6.2M1519.8 1479h6.2M1522.9 1482.8h9.4M1526.1 1490.3h3.1"/>
<path stroke="#8680c0" d="M1569.8 1208.3h3.1M1585.4 1215.8h3.1M1579.1 1219.5h3.1M1572.9 1223.3h3.1M1572.9 1227.1h3.1M1569.8 1260.9h3.1M1572.9 1268.4h3.1M1566.6 1275.9h3.1M1563.5 1283.5h3.1M1557.3 1291h3.1M1557.3 1302.3h3.1M1560.4 1321.1h3.1M1560.4 1324.8h3.1M1569.8 1328.6h3.1M1547.9 1332.3h3.1M1554.1 1347.4h3.1M1544.8 1351.1h3.1M1551 1358.7h3.1M1554.1 1362.4h3.1M1547.9 1373.7h3.1M1516.7 1377.5h6.2M1551 1381.2h3.1M1541.7 1388.7h3.1M1535.4 1396.3h3.1M1538.5 1400h3.1M1532.3 1403.8h6.2M1535.4 1411.3h3.1M1519.8 1415.1h3.1M1532.3 1418.8h3.1M1538.5 1422.6h3.1M1535.4 1426.3h3.1M1529.2 1430.1h6.2M1532.3 1433.9h3.1M1522.9 1437.6h9.4M1519.8 1445.1h6.2M1526.1 1452.7h6.2M1522.9 1456.4h9.4M1519.8 1490.3h6.2"/>
<path stroke="#8178bc" d="M1579.1 1204.5h3.1M1576 1212h3.1M1560.4 1234.6h3.1M1566.6 1257.1h3.1M1563.5 1264.7h3.1M1557.3 1272.2h3.1M1560.4 1287.2h3.1M1560.4 1294.7h3.1M1557.3 1298.5h3.1M1554.1 1306h3.1M1554.1 1309.8h3.1M1554.1 1313.5h3.1M1551 1336.1h3.1M1547.9 1339.9h3.1M1541.7 1343.6h3.1M1547.9 1354.9h3.1M1547.9 1358.7h3.1M1554.1 1366.2h3.1M1541.7 1369.9h3.1M1547.9 1381.2h3.1M1541.7 1385h3.1M1538.5 1392.5h3.1M1526.1 1403.8h6.2M1538.5 1407.5h3.1M1532.3 1411.3h3.1M1516.7 1415.1h3.1M1529.2 1418.8h3.1M1532.3 1426.3h3.1M1519.8 1430.1h9.4M1529.2 1433.9h3.1M1519.8 1437.6h3.1M1519.8 1452.7h6.2"/>
<path stroke="#7c70b8" d="M1557.3 1230.8h3.1M1579.1 1242.1h3.1M1563.5 1249.6h3.1M1569.8 1268.4h3.1M1563.5 1275.9h3.1M1563.5 1279.7h3.1M1554.1 1317.3h3.1M1557.3 1321.1h3.1M1557.3 1324.8h3.1M1566.6 1328.6h3.1M1544.8 1332.3h3.1M1538.5 1343.6h3.1M1551 1347.4h3.1M1541.7 1351.1h3.1M1551 1362.4h3.1M1551 1366.2h3.1M1544.8 1373.7h3.1M1538.5 1385h3.1M1538.5 1388.7h3.1M1535.4 1392.5h3.1M1529.2 1396.3h6.2M1535.4 1400h3.1M1522.9 1403.8h3.1M1535.4 1407.5h3.1M1526.1 1411.3h6.2M1526.1 1418.8h3.1M1535.4 1422.6h3.1M1529.2 1426.3h3.1M1526.1 1433.9h3.1"/>
<path stroke="#7668b4" d="M1582.2 1215.8h3.1M1569.8 1227.1h3.1M1560.4 1238.3h3.1M1563.5 1245.9h3.1M1551 1253.4h3.1M1566.6 1260.9h3.1M1560.4 1283.5h3.1M1557.3 1287.2h3.1M1554.1 1302.3h3.1M1547.9 1336.1h3.1M1544.8 1339.9h3.1M1535.4 1343.6h3.1M1544.8 1354.9h3.1M1544.8 1358.7h3.1M1547.9 1362.4h3.1M1547.9 1366.2h3.1M1538.5 1369.9h3.1M1544.8 1381.2h3.1M1535.4 1385h3.1M1535.4 1388.7h3.1M1526.1 1396.3h3.1M1532.3 1400h3.1M1532.3 1407.5h3.1M1522.9 1411.3h3.1M1519.8 1418.8h6.2M1529.2 1422.6h6.2M1519.8 1426.3h9.4M1522.9 1433.9h3.1"/>
<path stroke="#7160b0" d="M1566.6 1208.3h3.1M1576 1219.5h3.1M1569.8 1223.3h3.1M1560.4 1264.7h3.1M1554.1 1291h3.1M1557.3 1294.7h3.1M1554.1 1298.5h3.1M1551 1306h3.1M1551 1309.8h3.1M1551 1313.5h3.1M1554.1 1321.1h3.1M1563.5 1328.6h3.1M1541.7 1332.3h3.1M1547.9 1347.4h3.1M1538.5 1351.1h3.1M1541.7 1354.9h3.1M1541.7 1358.7h3.1M1544.8 1362.4h3.1M1544.8 1366.2h3.1M1541.7 1373.7h3.1M1541.7 1381.2h3.1M1529.2 1385h6.2M1529.2 1388.7h6.2M1532.3 1392.5h3.1M1522.9 1396.3h3.1M1529.2 1400h3.1M1526.1 1407.5h6.2M1526.1 1422.6h3.1"/>
<path stroke="#6c58ac" d="M1576 1204.5h3.1M1572.9 1212h3.1M1557.3 1234.6h3.1M1563.5 1257.1h3.1M1566.6 1268.4h3.1M1554.1 1272.2h3.1M1560.4 1275.9h3.1M1560.4 1279.7h3.1M1554.1 1324.8h3.1M1544.8 1336.1h3.1M1541.7 1339.9h3.1M1532.3 1343.6h3.1M1538.5 1358.7h3.1M1541.7 1366.2h3.1M1535.4 1369.9h3.1M1522.9 1385h6.2M1522.9 1388.7h6.2M1529.2 1392.5h3.1M1522.9 1400h6.2M1516.7 1407.5h9.4M1519.8 1422.6h6.2"/>
<path stroke="#664fa8" d="M1579.1 1215.8h3.1M1576 1242.1h3.1M1560.4 1249.6h3.1M1563.5 1260.9h3.1M1557.3 1283.5h3.1M1554.1 1287.2h3.1M1551 1302.3h3.1M1547.9 1306h3.1M1551 1317.3h3.1M1551 1321.1h3.1M1560.4 1328.6h3.1M1538.5 1332.3h3.1M1538.5 1339.9h3.1M1526.1 1343.6h6.2M1544.8 1347.4h3.1M1535.4 1351.1h3.1M1538.5 1354.9h3.1M1535.4 1358.7h3.1M1541.7 1362.4h3.1M1538.5 1366.2h3.1M1532.3 1369.9h3.1M1538.5 1373.7h3.1M1538.5 1381.2h3.1M1522.9 1392.5h6.2"/>
<path stroke="#6046a4" d="M1566.6 1227.1h3.1M1554.1 1230.8h3.1M1557.3 1238.3h3.1M1560.4 1245.9h3.1M1557.3 1264.7h3.1M1485.5 1272.2h9.4M1551 1291h3.1M1554.1 1294.7h3.1M1551 1298.5h3.1M1547.9 1309.8h3.1M1547.9 1313.5h3.1M1551 1324.8h3.1M1541.7 1336.1h3.1M1519.8 1343.6h6.2M1541.7 1347.4h3.1M1529.2 1358.7h6.2M1538.5 1362.4h3.1M1535.4 1366.2h3.1M1529.2 1369.9h3.1M1535.4 1381.2h3.1M1519.8 1392.5h3.1"/>
<path stroke="#593ca0" d="M1572.9 1219.5h3.1M1566.6 1223.3h3.1M1547.9 1253.4h3.1M1563.5 1268.4h3.1M1494.8 1272.2h15.6M1551 1272.2h3.1M1557.3 1275.9h3.1M1557.3 1279.7h3.1M1544.8 1306h3.1M1547.9 1321.1h3.1M1557.3 1328.6h3.1M1535.4 1332.3h3.1M1535.4 1339.9h3.1M1532.3 1351.1h3.1M1535.4 1354.9h3.1M1519.8 1358.7h9.4M1532.3 1362.4h6.2M1529.2 1366.2h6.2M1526.1 1369.9h3.1M1535.4 1373.7h3.1M1532.3 1381.2h3.1"/>
<path stroke="#53339c" d="M1585.4 877.3h6.2M1572.9 1204.5h3.1M1563.5 1208.3h3.1M1569.8 1212h3.1M1576 1215.8h3.1M1482.3 1242.1h3.1M1572.9 1242.1h3.1M1560.4 1257.1h3.1M1560.4 1260.9h3.1M1510.4 1272.2h9.4M1554.1 1283.5h3.1M1551 1287.2h3.1M1547.9 1302.3h3.1M1547.9 1317.3h3.1M1547.9 1324.8h3.1M1532.3 1332.3h3.1M1538.5 1336.1h3.1M1532.3 1339.9h3.1M1538.5 1347.4h3.1M1529.2 1351.1h3.1M1532.3 1354.9h3.1M1529.2 1362.4h3.1M1522.9 1366.2h6.2M1519.8 1369.9h6.2M1532.3 1373.7h3.1M1522.9 1381.2h9.4"/>
<path stroke="#4d2a98" d="M1576 877.3h9.4M1563.5 1227.1h3.1M1554.1 1234.6h3.1M1485.5 1242.1h9.4M1554.1 1264.7h3.1M1554.1 1275.9h3.1M1551 1294.7h3.1M1547.9 1298.5h3.1M1541.7 1306h3.1M1544.8 1309.8h3.1M1544.8 1313.5h3.1M1544.8 1321.1h3.1M1554.1 1328.6h3.1M1529.2 1332.3h3.1M1529.2 1339.9h3.1M1535.4 1347.4h3.1M1519.8 1362.4h9.4M1529.2 1373.7h3.1"/>
<path stroke="#4a2796" d="M1566.6 877.3h9.4M1494.8 1242.1h9.4M1557.3 1245.9h3.1M1557.3 1249.6h3.1M1560.4 1268.4h3.1M1547.9 1272.2h3.1M1547.9 1291h3.1M1526.1 1332.3h3.1M1535.4 1336.1h3.1M1519.8 1339.9h9.4M1529.2 1347.4h6.2M1526.1 1351.1h3.1M1526.1 1354.9h6.2M1526.1 1373.7h3.1"/>
<path stroke="#472493" d="M1554.1 877.3h12.5M1569.8 1219.5h3.1M1563.5 1223.3h3.1M1551 1230.8h3.1M1554.1 1238.3h3.1M1504.2 1242.1h12.5M1569.8 1242.1h3.1M1557.3 1260.9h3.1M1554.1 1279.7h3.1M1551 1283.5h3.1M1547.9 1287.2h3.1M1547.9 1294.7h3.1M1544.8 1302.3h3.1M1538.5 1306h3.1M1544.8 1317.3h3.1M1541.7 1321.1h3.1M1544.8 1324.8h3.1M1519.8 1332.3h6.2M1532.3 1336.1h3.1M1522.9 1347.4h6.2M1516.7 1351.1h9.4M1522.9 1354.9h3.1M1519.8 1373.7h6.2"/>
<path stroke="#432291" d="M1551 877.3h3.1M1597.8 1072.9h24.9M1560.4 1208.3h3.1M1566.6 1212h3.1M1572.9 1215.8h3.1M1516.7 1242.1h3.1M1557.3 1257.1h3.1M1551 1275.9h3.1M1544.8 1298.5h3.1M1535.4 1306h3.1M1541.7 1309.8h3.1M1541.7 1313.5h3.1M1551 1328.6h3.1M1519.8 1354.9h3.1"/>
<path stroke="#401f8e" d="M1569.8 1204.5h3.1M1560.4 1227.1h3.1M1544.8 1253.4h3.1M1551 1264.7h3.1M1557.3 1268.4h3.1M1544.8 1272.2h3.1M1538.5 1321.1h3.1M1541.7 1324.8h3.1M1526.1 1336.1h6.2"/>
<path stroke="#3d1c8c" d="M1519.8 1204.5h49.9M1516.7 1208.3h43.7M1519.8 1212h46.8M1519.8 1215.8h53.1M1519.8 1219.5h49.9M1516.7 1223.3h46.8M1519.8 1227.1h40.6M1519.8 1230.8h31.2M1519.8 1234.6h34.3M1519.8 1238.3h34.3M1519.8 1242.1h49.9M1522.9 1245.9h34.3M1519.8 1249.6h37.5M1519.8 1253.4h25M1519.8 1257.1h37.5M1522.9 1260.9h34.3M1519.8 1264.7h31.2M1519.8 1268.4h37.5M1522.9 1272.2h21.9M1516.7 1275.9h34.3M1519.8 1279.7h34.3M1519.8 1283.5h31.2M1519.8 1287.2h28.1M1519.8 1291h28.1M1519.8 1294.7h28.1M1519.8 1298.5h25M1519.8 1302.3h25M1519.8 1306h15.6M1519.8 1309.8h21.9M1519.8 1313.5h21.9M1522.9 1317.3h21.9M1519.8 1321.1h18.7M1519.8 1324.8h21.9M1519.8 1328.6h31.2M1519.8 1336.1h6.2"/>
</g></g>
<rect x="1432.4" y="777.7" width="187.3" height="842.3" fill="none" stroke="#000" stroke-width="1.6"/>
<path d="M1432.4 1620v10M1526.1 1620v10M1619.7 1620v10" stroke="#000" stroke-width="1.6" fill="none"/>
<text x="1154.6" y="1666" font-size="34.6">-300</text>
<text x="1236.5" y="1666" font-size="34.6">summit</text>
<text x="1367" y="1666" font-size="34.6">300 nt</text>
<text x="1235" y="1764.3" font-size="31.2" textLength="147" lengthAdjust="spacingAndGlyphs">TOP-strand</text>
<text x="1445.5" y="1764.3" font-size="31.2" textLength="160.5" lengthAdjust="spacingAndGlyphs">BTM-strand</text>
<text x="1130" y="1812" font-size="31.5">RPKM</text>
<defs><linearGradient id="go" x1="0" x2="1" y1="0" y2="0"><stop offset="0%" stop-color="#fcf4e3"/><stop offset="12.5%" stop-color="#f7e6c8"/><stop offset="25%" stop-color="#f1d2a4"/><stop offset="37.5%" stop-color="#ecb67c"/><stop offset="50%" stop-color="#e99044"/><stop offset="62.5%" stop-color="#e5702e"/><stop offset="75%" stop-color="#d4522b"/><stop offset="87.5%" stop-color="#ac3f25"/><stop offset="100%" stop-color="#87301e"/></linearGradient></defs>
<defs><linearGradient id="gp" x1="0" x2="1" y1="0" y2="0"><stop offset="0%" stop-color="#f9f8fc"/><stop offset="12.5%" stop-color="#ecebf5"/><stop offset="25%" stop-color="#d7d7ea"/><stop offset="37.5%" stop-color="#bcbcdc"/><stop offset="50%" stop-color="#a09cce"/><stop offset="62.5%" stop-color="#8680c0"/><stop offset="75%" stop-color="#6c58ac"/><stop offset="87.5%" stop-color="#53309a"/><stop offset="100%" stop-color="#3e2a80"/></linearGradient></defs>
<rect x="1235" y="1781.4" width="157" height="31.5" fill="url(#go)" stroke="#000" stroke-width="2"/>
<rect x="1448.2" y="1781.4" width="157" height="31.5" fill="url(#gp)" stroke="#000" stroke-width="2"/>
<path d="M1235 1812.9v11.5M1293.2 1812.9v11.5M1350.7 1812.9v11.5M1448.2 1812.9v11.5M1505.7 1812.9v11.5M1563.6 1812.9v11.5" stroke="#000" stroke-width="2" fill="none"/>
<text x="1227.5" y="1852.7" font-size="32.3">0 60K 120K</text>
<text x="1442" y="1852.7" font-size="32.3">0 60K 120K</text>
</g>
<g id="panel-e">
<text x="36.3" y="1957" font-size="41.4" font-weight="bold">e</text>
<text x="459" y="1965.4" font-size="27.8">Lagging strand</text>
<text x="1127.5" y="1972.4" font-size="27.8">Leading strand</text>
<text x="459" y="2129.4" font-size="27.8">Leading strand</text>
<text x="1127.5" y="2129.4" font-size="27.8">Lagging strand</text>
<text x="153" y="2016.2" font-size="28">TOP</text>
<text x="153" y="2071.3" font-size="28">BTM</text>
<path d="M237 1983H258M297 1983h39.3M375.7 1983h39.3M454.3 1983h39.3M533 1983h39.3M611.7 1983h39.3M690.4 1983h39.3M769 1983h39.3M847.5 1983H868M893.5 1983H1540M243 2091H874M910 2091H930M969 2091h39.3M1047.8 2091h39.3M1126.5 2091h39.3M1205.2 2091h39.3M1284 2091h39.3M1362.8 2091h39.3M1441.5 2091h39.3M1520 2091H1541" stroke="#000" stroke-width="1.8" fill="none"/>
<path d="M878.5 1983l-15 -8.2l4 8.2l-4 8.2zM1551 1983l-15 -8.2l4 8.2l-4 8.2zM232.5 2091l15 -8.2l-4 8.2l4 8.2zM899 2091l15 -8.2l-4 8.2l4 8.2z" fill="#000"/>
<path d="M229.5 1992.5V2077.5M216 2007H229.5M216 2064H229.5" stroke="#000" stroke-width="1.9" fill="none"/>
<path d="M216 2035H1551.5" stroke="#000" stroke-width="2.3" fill="none"/>
<path d="M229 2150H1551.5M339.5 2150v13.5M614.5 2150v13.5M890 2150v13.5M1165.5 2150v13.5M1440.5 2150v13.5" stroke="#000" stroke-width="1.9" fill="none"/>
<path d="M291 2007h0M318 2007h0M324 2007h0M339 2007h0M342.5 2007h0M345 2007h0M360 2007h0M365.5 2007h0M368.5 2007h0M371 2007h0M376 2007h0M392 2007h0M413 2007h0M434 2007h0M440 2007h0M443 2007h0M502 2007h0M521.5 2007h0M526 2007h0M532.5 2007h0M550 2007h0M569 2007h0M572 2007h0M589 2007h0M612.5 2007h0M628 2007h0M631.5 2007h0M650 2007h0M691 2007h0M710.5 2007h0M742 2007h0M759 2007h0M769 2007h0M791.5 2007h0M835.5 2007h0M839 2007h0M880 2007h0M902.5 2007h0M906.5 2007h0M919 2007h0M944 2007h0M948 2007h0M987 2007h0M991 2007h0M995 2007h0M1004 2007h0M1018 2007h0M1034 2007h0M1055 2007h0M1062.5 2007h0M1066 2007h0M1090 2007h0M1099 2007h0M1110 2007h0M1156.5 2007h0M1169 2007h0M1185.5 2007h0M1191.5 2007h0M1215 2007h0M1218 2007h0M1229 2007h0M1236.5 2007h0M1251.5 2007h0M1255 2007h0M1279 2007h0M1282 2007h0M1294 2007h0M1329 2007h0M1342.5 2007h0M1349 2007h0M1355 2007h0M1362 2007h0M1389 2007h0M1394 2007h0M1425.5 2007h0M1430 2007h0M1435 2007h0M1445 2007h0M1502.5 2007h0M1525 2007h0M259.5 2063.5h0M296.5 2063.5h0M305 2063.5h0M362.5 2063.5h0M375 2063.5h0M386.5 2063.5h0M396 2063.5h0M401 2063.5h0M415 2063.5h0M418 2063.5h0M421.5 2063.5h0M433.5 2063.5h0M472 2063.5h0M522 2063.5h0M530 2063.5h0M548.5 2063.5h0M551.5 2063.5h0M567 2063.5h0M582 2063.5h0M647.5 2063.5h0M652.5 2063.5h0M660 2063.5h0M665 2063.5h0M670 2063.5h0M688.5 2063.5h0M696 2063.5h0M706 2063.5h0M730.5 2063.5h0M735 2063.5h0M762.5 2063.5h0M779 2063.5h0M823 2063.5h0M830.5 2063.5h0M857.5 2063.5h0M865.5 2063.5h0M879 2063.5h0M892.5 2063.5h0M914 2063.5h0M955 2063.5h0M965 2063.5h0M975.5 2063.5h0M979 2063.5h0M1004 2063.5h0M1007.5 2063.5h0M1010.5 2063.5h0M1029 2063.5h0M1032.5 2063.5h0M1035.5 2063.5h0M1064 2063.5h0M1086 2063.5h0M1136.5 2063.5h0M1159 2063.5h0M1184 2063.5h0M1200 2063.5h0M1223 2063.5h0M1264 2063.5h0M1306 2063.5h0M1319 2063.5h0M1341.5 2063.5h0M1345 2063.5h0M1355.5 2063.5h0M1382 2063.5h0M1389 2063.5h0M1424 2063.5h0M1440.5 2063.5h0M1455.5 2063.5h0M1488 2063.5h0M1491.5 2063.5h0M1500 2063.5h0" stroke="#000" stroke-width="3.9" stroke-linecap="round" fill="none"/>
<text x="345" y="2192.6" font-size="28" text-anchor="middle">-2000</text>
<text x="620" y="2192.6" font-size="28" text-anchor="middle">-1000</text>
<text x="1170" y="2192.6" font-size="28" text-anchor="middle">1000</text>
<text x="1445.7" y="2192.6" font-size="28" text-anchor="middle">2000</text>
<text x="892" y="2192.6" font-size="28" text-anchor="middle" font-style="italic">oriC</text>
<text x="618" y="2248.5" font-size="27.95">Position of 3'-ssDNA end sites relative to <tspan font-style="italic">oriC</tspan> (bp)</text>
</g>
<g id="panel-f">
<text x="36.7" y="2289.8" font-size="41.4" font-weight="bold">f</text>
<path d="M156.6 2323.7V2625H607M156.6 2625h-12.5M156.6 2524.8h-12.5M156.6 2424.6h-12.5M156.6 2324.4h-12.5M190.7 2625v13M294.5 2625v13M398.4 2625v13M502.2 2625v13M606.1 2625v13" stroke="#000" stroke-width="1.6" fill="none"/>
<path d="M190.7 2625v-2M208 2625v-10M225.3 2625v-4M242.6 2625v-8M259.9 2625v-4M277.2 2625v-10M294.6 2625v-12M311.9 2625v-12M329.2 2625v-14M346.5 2625v-22M363.8 2625v-44.1M381.1 2625v-52.1M398.4 2625v-50.1M415.7 2625v-60.1M433 2625v-76.2M450.3 2625v-112.2M467.7 2625v-138.3M485 2625v-178.4M502.3 2625v-184.4M519.6 2625v-276.6M536.9 2625v-192.4M554.2 2625v-240.5M571.5 2625v-204.4M588.8 2625v-94.2" stroke="#000" stroke-width="3.3" fill="none"/>
<text x="142.5" y="2633.2" font-size="23.5" text-anchor="end">0</text>
<text x="142.5" y="2533" font-size="23.5" text-anchor="end">5</text>
<text x="142.5" y="2432.8" font-size="23.5" text-anchor="end">10</text>
<text x="142.5" y="2332.6" font-size="23.5" text-anchor="end">15</text>
<text x="190.7" y="2662" font-size="22.9" text-anchor="middle">25500</text>
<text x="294.5" y="2662" font-size="22.9" text-anchor="middle">25800</text>
<text x="398.4" y="2662" font-size="22.9" text-anchor="middle">26100</text>
<text x="502.2" y="2662" font-size="22.9" text-anchor="middle">26400</text>
<text x="606.1" y="2662" font-size="22.9" text-anchor="middle">26700</text>
<text x="171.5" y="2349.7" font-size="24.3">N = 1000</text>
<text font-size="27.5" text-anchor="middle" transform="translate(95.2 2484) rotate(-90)">Percentage of 1000 samples</text>
<text x="381.6" y="2698.6" font-size="24.7" text-anchor="middle">Bin center (bp)</text>
<path d="M571.2 2363V2401.4" stroke="#000" stroke-width="1.5" fill="none"/>
<path d="M571.2 2409.4l-8.5 -15.5l8.5 4l8.5 -4z" fill="#000"/>
<path d="M751 2323.6V2624.7H1200.6M751 2624.7h-12.5M751 2549.6h-12.5M751 2474.5h-12.5M751 2399.4h-12.5M751 2324.3h-12.5M781.6 2624.7v13M884.8 2624.7v13M988 2624.7v13M1091.3 2624.7v13M1194.5 2624.7v13M833.2 2624.7v8M936.5 2624.7v8M1039.7 2624.7v8M1142.9 2624.7v8" stroke="#000" stroke-width="1.6" fill="none"/>
<path d="M750.6 2624.7v-3.8M760.9 2624.7v-3.8M781.6 2624.7v-7.5M812.5 2624.7v-3.8M822.9 2624.7v-7.5M833.2 2624.7v-3.8M843.5 2624.7v-7.5M853.8 2624.7v-7.5M864.1 2624.7v-11.3M874.5 2624.7v-3.8M884.8 2624.7v-30M895.1 2624.7v-15M905.4 2624.7v-11.3M915.8 2624.7v-18.8M926.1 2624.7v-18.8M936.4 2624.7v-26.3M946.7 2624.7v-45.1M957 2624.7v-56.3M967.4 2624.7v-52.6M977.7 2624.7v-56.3M988 2624.7v-78.9M998.3 2624.7v-48.8M1008.6 2624.7v-48.8M1019 2624.7v-112.6M1029.3 2624.7v-90.1M1039.6 2624.7v-199M1049.9 2624.7v-105.1M1060.3 2624.7v-169M1070.6 2624.7v-157.7M1080.9 2624.7v-161.5M1091.2 2624.7v-262.8M1101.5 2624.7v-244.1M1111.9 2624.7v-221.5M1122.2 2624.7v-221.5M1132.5 2624.7v-210.3M1142.8 2624.7v-251.6M1153.2 2624.7v-191.5M1163.5 2624.7v-244.1M1173.8 2624.7v-229.1M1184.1 2624.7v-101.4M1194.4 2624.7v-15" stroke="#000" stroke-width="3.3" fill="none"/>
<text x="735" y="2632.9" font-size="23.5" text-anchor="end">0</text>
<text x="735" y="2557.8" font-size="23.5" text-anchor="end">2</text>
<text x="735" y="2482.7" font-size="23.5" text-anchor="end">4</text>
<text x="735" y="2407.6" font-size="23.5" text-anchor="end">6</text>
<text x="735" y="2332.5" font-size="23.5" text-anchor="end">8</text>
<text x="781.6" y="2661.8" font-size="22.9" text-anchor="middle">47000</text>
<text x="884.8" y="2661.8" font-size="22.9" text-anchor="middle">48000</text>
<text x="988" y="2661.8" font-size="22.9" text-anchor="middle">49000</text>
<text x="1091.3" y="2661.8" font-size="22.9" text-anchor="middle">50000</text>
<text x="1194.5" y="2661.8" font-size="22.9" text-anchor="middle">51000</text>
<text x="766" y="2350" font-size="24.3">N = 1000</text>
<text font-size="27.5" text-anchor="middle" transform="translate(697 2484) rotate(-90)">Percentage of 1000 samples</text>
<text x="975.2" y="2699" font-size="24.7" text-anchor="middle">Bin center (bp)</text>
<path d="M1101 2318.2V2357.2" stroke="#000" stroke-width="1.5" fill="none"/>
<path d="M1101 2365.2l-8.5 -15.5l8.5 4l8.5 -4z" fill="#000"/>
<path d="M1368.9 2322.9V2619.5H1814M1368.9 2619.5h-12.5M1368.9 2560.3h-12.5M1368.9 2501.2h-12.5M1368.9 2442h-12.5M1368.9 2382.9h-12.5M1368.9 2323.7h-12.5M1383.9 2619.5v13M1459.7 2619.5v13M1535.5 2619.5v13M1611.2 2619.5v13M1687 2619.5v13M1762.8 2619.5v13" stroke="#000" stroke-width="1.6" fill="none"/>
<path d="M1372.5 2619.5v-3M1383.9 2619.5v-3M1395.2 2619.5v-3M1406.6 2619.5v-5.9M1418 2619.5v-3M1429.3 2619.5v-3M1440.7 2619.5v-3M1452.1 2619.5v-5.9M1463.4 2619.5v-3M1474.8 2619.5v-3M1486.2 2619.5v-11.8M1497.5 2619.5v-3M1508.9 2619.5v-11.8M1520.3 2619.5v-23.7M1531.6 2619.5v-5.9M1543 2619.5v-14.8M1554.4 2619.5v-17.7M1565.7 2619.5v-41.4M1577.1 2619.5v-23.7M1588.5 2619.5v-20.7M1599.8 2619.5v-47.3M1611.2 2619.5v-74M1622.6 2619.5v-53.2M1633.9 2619.5v-76.9M1645.3 2619.5v-74M1656.7 2619.5v-85.8M1668 2619.5v-130.2M1679.4 2619.5v-180.4M1690.8 2619.5v-195.2M1702.1 2619.5v-201.1M1713.5 2619.5v-239.6M1724.9 2619.5v-230.7M1736.2 2619.5v-210M1747.6 2619.5v-195.2M1759 2619.5v-180.4M1770.3 2619.5v-236.6M1781.7 2619.5v-192.3M1793.1 2619.5v-121.3M1804.4 2619.5v-23.7" stroke="#000" stroke-width="3.3" fill="none"/>
<text x="1355" y="2627.7" font-size="23.5" text-anchor="end">0</text>
<text x="1355" y="2568.5" font-size="23.5" text-anchor="end">2</text>
<text x="1355" y="2509.4" font-size="23.5" text-anchor="end">4</text>
<text x="1355" y="2450.2" font-size="23.5" text-anchor="end">6</text>
<text x="1355" y="2391.1" font-size="23.5" text-anchor="end">8</text>
<text x="1355" y="2331.9" font-size="23.5" text-anchor="end">10</text>
<text x="1383.9" y="2656" font-size="22.4" text-anchor="middle">51000</text>
<text x="1459.7" y="2656" font-size="22.4" text-anchor="middle">52000</text>
<text x="1535.5" y="2656" font-size="22.4" text-anchor="middle">53000</text>
<text x="1611.2" y="2656" font-size="22.4" text-anchor="middle">54000</text>
<text x="1687" y="2656" font-size="22.4" text-anchor="middle">55000</text>
<text x="1762.8" y="2656" font-size="22.4" text-anchor="middle">56000</text>
<text x="1384.5" y="2348.6" font-size="24.3">N = 1000</text>
<text font-size="27.5" text-anchor="middle" transform="translate(1309 2478) rotate(-90)">Percentage of 1000 samples</text>
<text x="1590.8" y="2692" font-size="24.7" text-anchor="middle">Bin center (bp)</text>
<path d="M1633.2 2487V2525.8" stroke="#000" stroke-width="1.5" fill="none"/>
<path d="M1633.2 2533.8l-8.5 -15.5l8.5 4l8.5 -4z" fill="#000"/>
</g>
</svg>
</body>
</html>
